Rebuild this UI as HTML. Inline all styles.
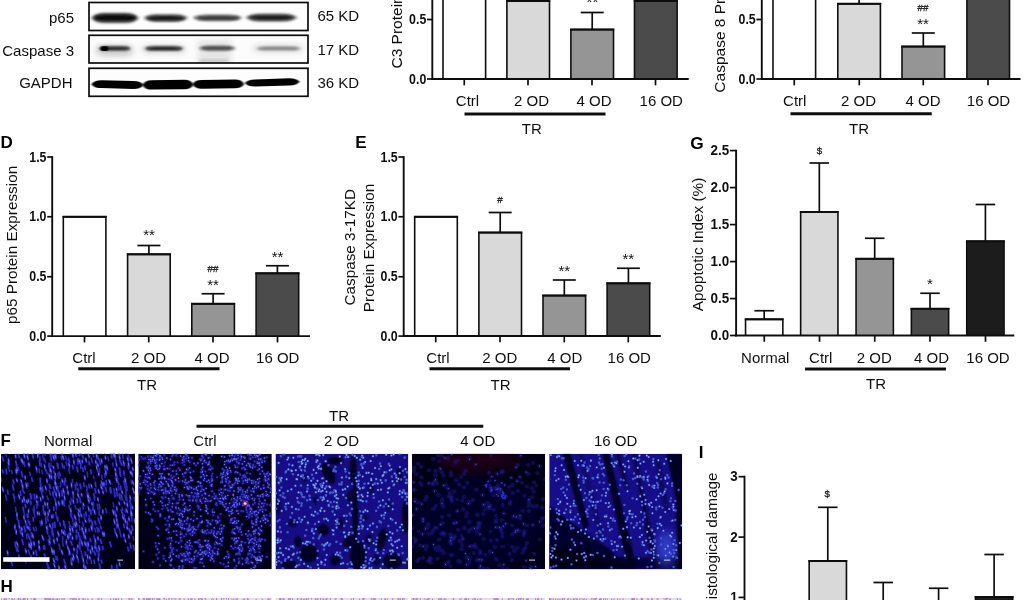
<!DOCTYPE html>
<html lang="en"><head><meta charset="utf-8"><title>Figure</title>
<style>html,body{margin:0;padding:0;background:#fff;overflow:hidden}svg{display:block}</style>
</head><body>
<svg width="1024" height="600" viewBox="0 0 1024 600" font-family='"Liberation Sans", Arial, Helvetica, sans-serif'>
<defs>
<filter id="b1" x="-20%" y="-100%" width="140%" height="300%"><feGaussianBlur stdDeviation="1.1 0.9"/></filter>
<filter id="b2" x="-20%" y="-100%" width="140%" height="300%"><feGaussianBlur stdDeviation="1.6 1.1"/></filter>
<filter id="b3" x="-30%" y="-100%" width="160%" height="300%"><feGaussianBlur stdDeviation="3 2.5"/></filter>
<filter id="b0" x="-20%" y="-100%" width="140%" height="300%"><feGaussianBlur stdDeviation="0.8 0.7"/></filter>
<filter id="soft"><feGaussianBlur stdDeviation="0.45"/></filter>
<filter id="soft2"><feGaussianBlur stdDeviation="0.8"/></filter>
<filter id="big"><feGaussianBlur stdDeviation="5"/></filter>
<filter id="g0" x="-200" y="-300" width="1424" height="1200" filterUnits="userSpaceOnUse"><feGaussianBlur stdDeviation="0.42"/></filter>
<clipPath id="cb0"><rect x="89.1" y="2.6" width="218.8" height="27.8"/></clipPath>
<clipPath id="cb1"><rect x="89.1" y="35.4" width="218.8" height="27.5"/></clipPath>
<clipPath id="cb2"><rect x="89.1" y="68.4" width="218.8" height="27.8"/></clipPath>
<clipPath id="cp0"><rect x="1" y="453.8" width="134" height="115.5"/></clipPath>
<clipPath id="cp1"><rect x="138.3" y="453.8" width="133.5" height="115.5"/></clipPath>
<clipPath id="cp2"><rect x="275.5" y="453.8" width="132.8" height="115.5"/></clipPath>
<clipPath id="cp3"><rect x="412" y="453.8" width="133" height="115.5"/></clipPath>
<clipPath id="cp4"><rect x="549.2" y="453.8" width="132.9" height="115.5"/></clipPath>
</defs>
<rect width="1024" height="600" fill="#fff"/>
<g filter="url(#g0)">
<g clip-path="url(#cb0)">
<rect x="89" y="2" width="220" height="29" fill="#fdfdfd"/>
<path d="M91.0 17.90Q94.5 12.65 105.0 12.65L125.0 12.65Q135.5 12.65 139.0 17.90Q135.5 23.15 125.0 23.15L105.0 23.15Q94.5 23.15 91.0 17.90Z" fill="#3a3a3a" filter="url(#b2)" opacity="0.75"/>
<path d="M93.5 17.90Q96.5 14.60 105.5 14.60L124.5 14.60Q133.5 14.60 136.5 17.90Q133.5 21.20 124.5 21.20L105.5 21.20Q96.5 21.20 93.5 17.90Z" fill="#0a0a0a" filter="url(#b1)" opacity="1"/>
<path d="M143.5 18.00Q147.0 14.00 157.5 14.00L174.0 14.00Q184.5 14.00 188.0 18.00Q184.5 22.00 174.0 22.00L157.5 22.00Q147.0 22.00 143.5 18.00Z" fill="#4a4a4a" filter="url(#b2)" opacity="0.75"/>
<path d="M146.5 18.20Q149.5 15.90 158.5 15.90L173.0 15.90Q182.0 15.90 185.0 18.20Q182.0 20.50 173.0 20.50L158.5 20.50Q149.5 20.50 146.5 18.20Z" fill="#141414" filter="url(#b1)" opacity="1"/>
<path d="M193.0 17.90Q196.5 14.60 207.0 14.60L228.0 14.60Q238.5 14.60 242.0 17.90Q238.5 21.20 228.0 21.20L207.0 21.20Q196.5 21.20 193.0 17.90Z" fill="#555" filter="url(#b2)" opacity="0.8"/>
<path d="M197.0 17.90Q200.0 16.40 209.0 16.40L227.0 16.40Q236.0 16.40 239.0 17.90Q236.0 19.40 227.0 19.40L209.0 19.40Q200.0 19.40 197.0 17.90Z" fill="#2e2e2e" filter="url(#b1)" opacity="1"/>
<path d="M245.5 17.60Q249.5 13.40 261.5 13.40L281.5 13.40Q293.5 13.40 297.5 17.60Q293.5 21.80 281.5 21.80L261.5 21.80Q249.5 21.80 245.5 17.60Z" fill="#444" filter="url(#b2)" opacity="0.75"/>
<path d="M249.0 17.60Q252.5 15.20 263.0 15.20L280.0 15.20Q290.5 15.20 294.0 17.60Q290.5 20.00 280.0 20.00L263.0 20.00Q252.5 20.00 249.0 17.60Z" fill="#1a1a1a" filter="url(#b1)" opacity="1"/>
</g>
<g clip-path="url(#cb1)">
<rect x="89" y="35" width="220" height="29" fill="#fcfcfc"/>
<rect x="96.0" y="44.50" width="37.0" height="12.00" rx="6.00" fill="#c4c4c4" filter="url(#b3)" opacity="0.8"/>
<path d="M98.5 48.40Q100.5 45.90 106.5 45.90L123.0 45.90Q129.0 45.90 131.0 48.40Q129.0 50.90 123.0 50.90L106.5 50.90Q100.5 50.90 98.5 48.40Z" fill="#666" filter="url(#b2)" opacity="0.8"/>
<path d="M100.0 48.40Q102.0 47.00 108.0 47.00L122.0 47.00Q128.0 47.00 130.0 48.40Q128.0 49.80 122.0 49.80L108.0 49.80Q102.0 49.80 100.0 48.40Z" fill="#222" filter="url(#b1)" opacity="1"/>
<rect x="100.5" y="46.30" width="8.0" height="4.80" rx="2.40" fill="#000" filter="url(#b0)" opacity="1"/>
<rect x="142.0" y="45.00" width="43.0" height="9.00" rx="4.50" fill="#d4d4d4" filter="url(#b3)" opacity="0.8"/>
<path d="M144.0 48.40Q146.5 45.80 154.0 45.80L174.0 45.80Q181.5 45.80 184.0 48.40Q181.5 51.00 174.0 51.00L154.0 51.00Q146.5 51.00 144.0 48.40Z" fill="#666" filter="url(#b2)" opacity="0.8"/>
<path d="M146.0 48.40Q148.5 46.90 156.0 46.90L172.0 46.90Q179.5 46.90 182.0 48.40Q179.5 49.90 172.0 49.90L156.0 49.90Q148.5 49.90 146.0 48.40Z" fill="#1c1c1c" filter="url(#b1)" opacity="1"/>
<rect x="198" y="40" width="33" height="24" fill="#d6d6d6" filter="url(#b3)" opacity="0.6"/>
<path d="M198.5 48.20Q201.0 45.50 208.5 45.50L226.0 45.50Q233.5 45.50 236.0 48.20Q233.5 50.90 226.0 50.90L208.5 50.90Q201.0 50.90 198.5 48.20Z" fill="#7a7a7a" filter="url(#b2)" opacity="0.85"/>
<path d="M201.0 48.20Q203.5 46.80 211.0 46.80L223.0 46.80Q230.5 46.80 233.0 48.20Q230.5 49.60 223.0 49.60L211.0 49.60Q203.5 49.60 201.0 48.20Z" fill="#3c3c3c" filter="url(#b1)" opacity="1"/>
<rect x="199.0" y="59.60" width="29.0" height="2.40" rx="1.20" fill="#c4c4c4" filter="url(#b2)" opacity="1"/>
<rect x="253.0" y="44.10" width="50.0" height="9.00" rx="4.50" fill="#dedede" filter="url(#b3)" opacity="0.85"/>
<path d="M256.0 48.50Q258.5 46.40 266.0 46.40L291.0 46.40Q298.5 46.40 301.0 48.50Q298.5 50.60 291.0 50.60L266.0 50.60Q258.5 50.60 256.0 48.50Z" fill="#9a9a9a" filter="url(#b2)" opacity="0.9"/>
<path d="M259.0 48.40Q261.5 47.50 269.0 47.50L288.0 47.50Q295.5 47.50 298.0 48.40Q295.5 49.30 288.0 49.30L269.0 49.30Q261.5 49.30 259.0 48.40Z" fill="#7a7a7a" filter="url(#b1)" opacity="1"/>
</g>
<g clip-path="url(#cb2)">
<rect x="89" y="68" width="220" height="29" fill="#fdfdfd"/>
<path d="M91.5 84.20Q94.0 80.30 101.5 80.30L133.5 81.10Q141.0 81.10 143.5 85.00Q141.0 88.90 133.5 88.90L101.5 88.10Q94.0 88.10 91.5 84.20Z" fill="#050505" filter="url(#b0)" opacity="1"/>
<path d="M142.5 84.90Q144.8 80.20 151.5 80.20L184.5 79.80Q191.2 79.80 193.5 84.50Q191.2 89.20 184.5 89.20L151.5 89.60Q144.8 89.60 142.5 84.90Z" fill="#050505" filter="url(#b0)" opacity="1"/>
<path d="M192.5 84.30Q194.8 79.90 201.5 79.90L235.0 79.50Q241.8 79.50 244.0 83.90Q241.8 88.30 235.0 88.30L201.5 88.70Q194.8 88.70 192.5 84.30Z" fill="#050505" filter="url(#b0)" opacity="1"/>
<path d="M245.0 83.00Q247.5 79.40 255.0 79.40L289.5 78.20Q297.0 78.20 299.5 81.80Q297.0 85.40 289.5 85.40L255.0 86.60Q247.5 86.60 245.0 83.00Z" fill="#050505" filter="url(#b0)" opacity="1"/>
</g>
<rect x="89.0" y="2.5" width="219.0" height="28.0" fill="none" stroke="#0a0a0a" stroke-width="1.7"/>
<rect x="89.0" y="35.3" width="219.0" height="27.7" fill="none" stroke="#0a0a0a" stroke-width="1.7"/>
<rect x="89.0" y="68.30000000000001" width="219.0" height="28.0" fill="none" stroke="#0a0a0a" stroke-width="1.7"/>
<text x="74" y="22.5" font-size="15" text-anchor="end" fill="#111">p65</text>
<text x="74" y="55.5" font-size="15" text-anchor="end" fill="#111">Caspase 3</text>
<text x="72.5" y="88" font-size="15" text-anchor="end" fill="#111">GAPDH</text>
<text x="317.5" y="21.25" font-size="15" text-anchor="start" fill="#111">65 KD</text>
<text x="317.5" y="55" font-size="15" text-anchor="start" fill="#111">17 KD</text>
<text x="317.5" y="88.25" font-size="15" text-anchor="start" fill="#111">36 KD</text>
<line x1="592.2" y1="12.5" x2="592.2" y2="30.5" stroke="#111" stroke-width="1.7" stroke-linecap="butt"/>
<line x1="580.7" y1="12.5" x2="603.7" y2="12.5" stroke="#111" stroke-width="1.7" stroke-linecap="butt"/>
<line x1="655.8" y1="-3" x2="655.8" y2="2" stroke="#111" stroke-width="1.7" stroke-linecap="butt"/>
<line x1="644.3" y1="-3" x2="667.3" y2="-3" stroke="#111" stroke-width="1.7" stroke-linecap="butt"/>
<path d="M443.00 79V-4.90H485.60V79" fill="#fff" stroke="#111" stroke-width="1.6"/>
<path d="M506.90 79V1.10H549.50V79" fill="#d9d9d9" stroke="#111" stroke-width="1.6"/>
<path d="M506.10 1.10H550.30" stroke="#111" stroke-width="2.0"/>
<path d="M570.90 79V29.60H613.50V79" fill="#959595" stroke="#111" stroke-width="1.6"/>
<path d="M570.10 29.60H614.30" stroke="#111" stroke-width="2.0"/>
<path d="M634.50 79V1.10H677.10V79" fill="#4b4b4b" stroke="#111" stroke-width="1.6"/>
<path d="M633.70 1.10H677.90" stroke="#111" stroke-width="2.0"/>
<line x1="432.3" y1="-5.95" x2="432.3" y2="79.95" stroke="#111" stroke-width="1.9" stroke-linecap="butt"/>
<line x1="431.35" y1="79" x2="688.75" y2="79" stroke="#111" stroke-width="1.9" stroke-linecap="butt"/>
<line x1="427" y1="19.5" x2="432.3" y2="19.5" stroke="#111" stroke-width="1.7" stroke-linecap="butt"/>
<text transform="translate(426.30,24.08) scale(0.86,1)" font-size="14.4" text-anchor="end" font-weight="bold" fill="#111">0.5</text>
<line x1="427" y1="79" x2="432.3" y2="79" stroke="#111" stroke-width="1.7" stroke-linecap="butt"/>
<text transform="translate(426.30,83.58) scale(0.86,1)" font-size="14.4" text-anchor="end" font-weight="bold" fill="#111">0.0</text>
<line x1="464.25" y1="79" x2="464.25" y2="85.3" stroke="#111" stroke-width="1.7" stroke-linecap="butt"/>
<line x1="528" y1="79" x2="528" y2="85.3" stroke="#111" stroke-width="1.7" stroke-linecap="butt"/>
<line x1="592" y1="79" x2="592" y2="85.3" stroke="#111" stroke-width="1.7" stroke-linecap="butt"/>
<line x1="655.5" y1="79" x2="655.5" y2="85.3" stroke="#111" stroke-width="1.7" stroke-linecap="butt"/>
<text x="467.5" y="106" font-size="15" text-anchor="middle" fill="#111">Ctrl</text>
<text x="531.5" y="106" font-size="15" text-anchor="middle" fill="#111">2 OD</text>
<text x="594.1" y="106" font-size="15" text-anchor="middle" fill="#111">4 OD</text>
<text x="661.25" y="106" font-size="15" text-anchor="middle" fill="#111">16 OD</text>
<line x1="464.5" y1="114" x2="605.5" y2="114" stroke="#111" stroke-width="3.0" stroke-linecap="butt"/>
<text x="531.75" y="134" font-size="15" text-anchor="middle" fill="#111">TR</text>
<text x="592.4" y="7.2" font-size="15" text-anchor="middle" fill="#111">**</text>
<text x="401.5" y="68.5" font-size="15.5" text-anchor="start" transform="rotate(-90 401.5 68.5)" fill="#111">C3 Protein Expression</text>
<line x1="859.1" y1="-4" x2="859.1" y2="4.75" stroke="#111" stroke-width="1.7" stroke-linecap="butt"/>
<line x1="847.6" y1="-4" x2="870.6" y2="-4" stroke="#111" stroke-width="1.7" stroke-linecap="butt"/>
<line x1="923.3" y1="33" x2="923.3" y2="47.5" stroke="#111" stroke-width="1.7" stroke-linecap="butt"/>
<line x1="911.8" y1="33" x2="934.8" y2="33" stroke="#111" stroke-width="1.7" stroke-linecap="butt"/>
<path d="M773.00 79V-4.90H815.60V79" fill="#fff" stroke="#111" stroke-width="1.6"/>
<path d="M837.80 79V3.85H880.40V79" fill="#d9d9d9" stroke="#111" stroke-width="1.6"/>
<path d="M837.00 3.85H881.20" stroke="#111" stroke-width="2.0"/>
<path d="M902.00 79V46.60H944.60V79" fill="#959595" stroke="#111" stroke-width="1.6"/>
<path d="M901.20 46.60H945.40" stroke="#111" stroke-width="2.0"/>
<path d="M966.90 79V-4.90H1009.50V79" fill="#4b4b4b" stroke="#111" stroke-width="1.6"/>
<line x1="761.8" y1="-5.95" x2="761.8" y2="79.95" stroke="#111" stroke-width="1.9" stroke-linecap="butt"/>
<line x1="760.8499999999999" y1="79" x2="1020.5" y2="79" stroke="#111" stroke-width="1.9" stroke-linecap="butt"/>
<line x1="756.4" y1="19.5" x2="761.8" y2="19.5" stroke="#111" stroke-width="1.7" stroke-linecap="butt"/>
<text transform="translate(755.70,24.08) scale(0.86,1)" font-size="14.4" text-anchor="end" font-weight="bold" fill="#111">0.5</text>
<line x1="756.4" y1="79" x2="761.8" y2="79" stroke="#111" stroke-width="1.7" stroke-linecap="butt"/>
<text transform="translate(755.70,83.58) scale(0.86,1)" font-size="14.4" text-anchor="end" font-weight="bold" fill="#111">0.0</text>
<line x1="794.25" y1="79" x2="794.25" y2="85.3" stroke="#111" stroke-width="1.7" stroke-linecap="butt"/>
<line x1="859.25" y1="79" x2="859.25" y2="85.3" stroke="#111" stroke-width="1.7" stroke-linecap="butt"/>
<line x1="923.25" y1="79" x2="923.25" y2="85.3" stroke="#111" stroke-width="1.7" stroke-linecap="butt"/>
<line x1="988" y1="79" x2="988" y2="85.3" stroke="#111" stroke-width="1.7" stroke-linecap="butt"/>
<text x="794.75" y="106" font-size="15" text-anchor="middle" fill="#111">Ctrl</text>
<text x="858.5" y="106" font-size="15" text-anchor="middle" fill="#111">2 OD</text>
<text x="923" y="106" font-size="15" text-anchor="middle" fill="#111">4 OD</text>
<text x="988.5" y="106" font-size="15" text-anchor="middle" fill="#111">16 OD</text>
<line x1="790.5" y1="113.75" x2="931.75" y2="113.75" stroke="#111" stroke-width="3.0" stroke-linecap="butt"/>
<text x="859" y="134" font-size="15" text-anchor="middle" fill="#111">TR</text>
<text x="923" y="11.3" font-size="9.7" text-anchor="middle" fill="#111" stroke="#222" stroke-width="0.3">##</text>
<text x="923" y="29.0" font-size="15" text-anchor="middle" fill="#111">**</text>
<text x="724.5" y="92.625" font-size="15.5" text-anchor="start" transform="rotate(-90 724.5 92.625)" fill="#111">Caspase 8 Protein Expression</text>
<text x="0.5" y="147.8" font-size="17" text-anchor="start" font-weight="bold" fill="#000">D</text>
<line x1="148.9" y1="245.5" x2="148.9" y2="255.25" stroke="#111" stroke-width="1.7" stroke-linecap="butt"/>
<line x1="137.4" y1="245.5" x2="160.4" y2="245.5" stroke="#111" stroke-width="1.7" stroke-linecap="butt"/>
<line x1="213.1" y1="293.75" x2="213.1" y2="304.75" stroke="#111" stroke-width="1.7" stroke-linecap="butt"/>
<line x1="201.6" y1="293.75" x2="224.6" y2="293.75" stroke="#111" stroke-width="1.7" stroke-linecap="butt"/>
<line x1="277.4" y1="265.75" x2="277.4" y2="274.25" stroke="#111" stroke-width="1.7" stroke-linecap="butt"/>
<line x1="265.9" y1="265.75" x2="288.9" y2="265.75" stroke="#111" stroke-width="1.7" stroke-linecap="butt"/>
<path d="M63.30 336.1V216.85H105.90V336.1" fill="#fff" stroke="#111" stroke-width="1.6"/>
<path d="M62.50 216.85H106.70" stroke="#111" stroke-width="2.0"/>
<path d="M127.60 336.1V254.35H170.20V336.1" fill="#d9d9d9" stroke="#111" stroke-width="1.6"/>
<path d="M126.80 254.35H171.00" stroke="#111" stroke-width="2.0"/>
<path d="M191.80 336.1V303.85H234.40V336.1" fill="#959595" stroke="#111" stroke-width="1.6"/>
<path d="M191.00 303.85H235.20" stroke="#111" stroke-width="2.0"/>
<path d="M256.10 336.1V273.35H298.70V336.1" fill="#4b4b4b" stroke="#111" stroke-width="1.6"/>
<path d="M255.30 273.35H299.50" stroke="#111" stroke-width="2.0"/>
<line x1="52.2" y1="156.15" x2="52.2" y2="337.05" stroke="#111" stroke-width="1.9" stroke-linecap="butt"/>
<line x1="51.25" y1="336.1" x2="310" y2="336.1" stroke="#111" stroke-width="1.9" stroke-linecap="butt"/>
<line x1="47.2" y1="157" x2="52.2" y2="157" stroke="#111" stroke-width="1.7" stroke-linecap="butt"/>
<text transform="translate(46.50,161.58) scale(0.86,1)" font-size="14.4" text-anchor="end" font-weight="bold" fill="#111">1.5</text>
<line x1="47.2" y1="216.75" x2="52.2" y2="216.75" stroke="#111" stroke-width="1.7" stroke-linecap="butt"/>
<text transform="translate(46.50,221.33) scale(0.86,1)" font-size="14.4" text-anchor="end" font-weight="bold" fill="#111">1.0</text>
<line x1="47.2" y1="276.75" x2="52.2" y2="276.75" stroke="#111" stroke-width="1.7" stroke-linecap="butt"/>
<text transform="translate(46.50,281.33) scale(0.86,1)" font-size="14.4" text-anchor="end" font-weight="bold" fill="#111">0.5</text>
<line x1="47.2" y1="336.1" x2="52.2" y2="336.1" stroke="#111" stroke-width="1.7" stroke-linecap="butt"/>
<text transform="translate(46.50,340.68) scale(0.86,1)" font-size="14.4" text-anchor="end" font-weight="bold" fill="#111">0.0</text>
<line x1="84.5" y1="336.1" x2="84.5" y2="342.40000000000003" stroke="#111" stroke-width="1.7" stroke-linecap="butt"/>
<line x1="148.75" y1="336.1" x2="148.75" y2="342.40000000000003" stroke="#111" stroke-width="1.7" stroke-linecap="butt"/>
<line x1="213" y1="336.1" x2="213" y2="342.40000000000003" stroke="#111" stroke-width="1.7" stroke-linecap="butt"/>
<line x1="277.5" y1="336.1" x2="277.5" y2="342.40000000000003" stroke="#111" stroke-width="1.7" stroke-linecap="butt"/>
<text x="84" y="362.5" font-size="15" text-anchor="middle" fill="#111">Ctrl</text>
<text x="148.5" y="362.5" font-size="15" text-anchor="middle" fill="#111">2 OD</text>
<text x="212" y="362.5" font-size="15" text-anchor="middle" fill="#111">4 OD</text>
<text x="277.75" y="362.5" font-size="15" text-anchor="middle" fill="#111">16 OD</text>
<line x1="78.25" y1="368.75" x2="219.5" y2="368.75" stroke="#111" stroke-width="3.0" stroke-linecap="butt"/>
<text x="147" y="389.5" font-size="15" text-anchor="middle" fill="#111">TR</text>
<text x="149" y="240.0" font-size="15" text-anchor="middle" fill="#111">**</text>
<text x="213" y="272.3" font-size="9.7" text-anchor="middle" fill="#111" stroke="#222" stroke-width="0.3">##</text>
<text x="213" y="289.5" font-size="15" text-anchor="middle" fill="#111">**</text>
<text x="277.5" y="262.0" font-size="15" text-anchor="middle" fill="#111">**</text>
<text x="16.5" y="324.0" font-size="15.3" text-anchor="start" transform="rotate(-90 16.5 324.0)" fill="#111">p65 Protein Expression</text>
<text x="355.3" y="147.5" font-size="17" text-anchor="start" font-weight="bold" fill="#000">E</text>
<line x1="500.2" y1="212.5" x2="500.2" y2="233.5" stroke="#111" stroke-width="1.7" stroke-linecap="butt"/>
<line x1="488.7" y1="212.5" x2="511.7" y2="212.5" stroke="#111" stroke-width="1.7" stroke-linecap="butt"/>
<line x1="564.3" y1="280" x2="564.3" y2="296.5" stroke="#111" stroke-width="1.7" stroke-linecap="butt"/>
<line x1="552.8" y1="280" x2="575.8" y2="280" stroke="#111" stroke-width="1.7" stroke-linecap="butt"/>
<line x1="628.4" y1="268.25" x2="628.4" y2="284.25" stroke="#111" stroke-width="1.7" stroke-linecap="butt"/>
<line x1="616.9" y1="268.25" x2="639.9" y2="268.25" stroke="#111" stroke-width="1.7" stroke-linecap="butt"/>
<path d="M414.70 336.0V216.85H457.30V336.0" fill="#fff" stroke="#111" stroke-width="1.6"/>
<path d="M413.90 216.85H458.10" stroke="#111" stroke-width="2.0"/>
<path d="M478.90 336.0V232.60H521.50V336.0" fill="#d9d9d9" stroke="#111" stroke-width="1.6"/>
<path d="M478.10 232.60H522.30" stroke="#111" stroke-width="2.0"/>
<path d="M543.00 336.0V295.60H585.60V336.0" fill="#959595" stroke="#111" stroke-width="1.6"/>
<path d="M542.20 295.60H586.40" stroke="#111" stroke-width="2.0"/>
<path d="M607.10 336.0V283.35H649.70V336.0" fill="#4b4b4b" stroke="#111" stroke-width="1.6"/>
<path d="M606.30 283.35H650.50" stroke="#111" stroke-width="2.0"/>
<line x1="403.7" y1="156.15" x2="403.7" y2="336.95" stroke="#111" stroke-width="1.9" stroke-linecap="butt"/>
<line x1="402.75" y1="336.0" x2="660.75" y2="336.0" stroke="#111" stroke-width="1.9" stroke-linecap="butt"/>
<line x1="398.4" y1="157" x2="403.7" y2="157" stroke="#111" stroke-width="1.7" stroke-linecap="butt"/>
<text transform="translate(397.70,161.58) scale(0.86,1)" font-size="14.4" text-anchor="end" font-weight="bold" fill="#111">1.5</text>
<line x1="398.4" y1="216.75" x2="403.7" y2="216.75" stroke="#111" stroke-width="1.7" stroke-linecap="butt"/>
<text transform="translate(397.70,221.33) scale(0.86,1)" font-size="14.4" text-anchor="end" font-weight="bold" fill="#111">1.0</text>
<line x1="398.4" y1="276.75" x2="403.7" y2="276.75" stroke="#111" stroke-width="1.7" stroke-linecap="butt"/>
<text transform="translate(397.70,281.33) scale(0.86,1)" font-size="14.4" text-anchor="end" font-weight="bold" fill="#111">0.5</text>
<line x1="398.4" y1="336.1" x2="403.7" y2="336.1" stroke="#111" stroke-width="1.7" stroke-linecap="butt"/>
<text transform="translate(397.70,340.68) scale(0.86,1)" font-size="14.4" text-anchor="end" font-weight="bold" fill="#111">0.0</text>
<line x1="435.75" y1="336.0" x2="435.75" y2="342.3" stroke="#111" stroke-width="1.7" stroke-linecap="butt"/>
<line x1="500" y1="336.0" x2="500" y2="342.3" stroke="#111" stroke-width="1.7" stroke-linecap="butt"/>
<line x1="564.25" y1="336.0" x2="564.25" y2="342.3" stroke="#111" stroke-width="1.7" stroke-linecap="butt"/>
<line x1="628.25" y1="336.0" x2="628.25" y2="342.3" stroke="#111" stroke-width="1.7" stroke-linecap="butt"/>
<text x="438" y="362.5" font-size="15" text-anchor="middle" fill="#111">Ctrl</text>
<text x="499.75" y="362.5" font-size="15" text-anchor="middle" fill="#111">2 OD</text>
<text x="564.75" y="362.5" font-size="15" text-anchor="middle" fill="#111">4 OD</text>
<text x="629.25" y="362.5" font-size="15" text-anchor="middle" fill="#111">16 OD</text>
<line x1="429.5" y1="368.75" x2="570" y2="368.75" stroke="#111" stroke-width="3.0" stroke-linecap="butt"/>
<text x="500.6" y="389.5" font-size="15" text-anchor="middle" fill="#111">TR</text>
<text x="500" y="203.05" font-size="9.7" text-anchor="middle" fill="#111" stroke="#222" stroke-width="0.3">#</text>
<text x="564.25" y="275.75" font-size="15" text-anchor="middle" fill="#111">**</text>
<text x="628.25" y="264.0" font-size="15" text-anchor="middle" fill="#111">**</text>
<text x="355" y="305.5" font-size="15.3" text-anchor="start" transform="rotate(-90 355 305.5)" fill="#111">Caspase 3-17KD</text>
<text x="374" y="312.125" font-size="15.3" text-anchor="start" transform="rotate(-90 374 312.125)" fill="#111">Protein Expression</text>
<text x="690.2" y="149.2" font-size="17.3" text-anchor="start" font-weight="bold" fill="#000">G</text>
<line x1="764.2" y1="310.75" x2="764.2" y2="320.25" stroke="#111" stroke-width="1.7" stroke-linecap="butt"/>
<line x1="754.45" y1="310.75" x2="773.95" y2="310.75" stroke="#111" stroke-width="1.7" stroke-linecap="butt"/>
<line x1="819.3" y1="163" x2="819.3" y2="213" stroke="#111" stroke-width="1.7" stroke-linecap="butt"/>
<line x1="809.55" y1="163" x2="829.05" y2="163" stroke="#111" stroke-width="1.7" stroke-linecap="butt"/>
<line x1="874.7" y1="238.25" x2="874.7" y2="259.75" stroke="#111" stroke-width="1.7" stroke-linecap="butt"/>
<line x1="864.95" y1="238.25" x2="884.45" y2="238.25" stroke="#111" stroke-width="1.7" stroke-linecap="butt"/>
<line x1="930" y1="293.25" x2="930" y2="309.75" stroke="#111" stroke-width="1.7" stroke-linecap="butt"/>
<line x1="920.25" y1="293.25" x2="939.75" y2="293.25" stroke="#111" stroke-width="1.7" stroke-linecap="butt"/>
<line x1="985.4" y1="204.5" x2="985.4" y2="242.25" stroke="#111" stroke-width="1.7" stroke-linecap="butt"/>
<line x1="975.65" y1="204.5" x2="995.15" y2="204.5" stroke="#111" stroke-width="1.7" stroke-linecap="butt"/>
<path d="M745.55 335.5V319.35H782.85V335.5" fill="#fff" stroke="#111" stroke-width="1.6"/>
<path d="M744.75 319.35H783.65" stroke="#111" stroke-width="2.0"/>
<path d="M800.65 335.5V212.10H837.95V335.5" fill="#d9d9d9" stroke="#111" stroke-width="1.6"/>
<path d="M799.85 212.10H838.75" stroke="#111" stroke-width="2.0"/>
<path d="M856.05 335.5V258.85H893.35V335.5" fill="#959595" stroke="#111" stroke-width="1.6"/>
<path d="M855.25 258.85H894.15" stroke="#111" stroke-width="2.0"/>
<path d="M911.35 335.5V308.85H948.65V335.5" fill="#4b4b4b" stroke="#111" stroke-width="1.6"/>
<path d="M910.55 308.85H949.45" stroke="#111" stroke-width="2.0"/>
<path d="M966.75 335.5V241.35H1004.05V335.5" fill="#1a1a1a" stroke="#111" stroke-width="1.6"/>
<path d="M965.95 241.35H1004.85" stroke="#111" stroke-width="2.0"/>
<line x1="736.1" y1="149.75" x2="736.1" y2="336.45" stroke="#111" stroke-width="1.9" stroke-linecap="butt"/>
<line x1="735.15" y1="335.5" x2="1014.25" y2="335.5" stroke="#111" stroke-width="1.9" stroke-linecap="butt"/>
<line x1="729.9" y1="150.6" x2="736.1" y2="150.6" stroke="#111" stroke-width="1.7" stroke-linecap="butt"/>
<text transform="translate(729.20,155.34) scale(0.9,1)" font-size="14.9" text-anchor="end" font-weight="bold" fill="#111">2.5</text>
<line x1="729.9" y1="187.6" x2="736.1" y2="187.6" stroke="#111" stroke-width="1.7" stroke-linecap="butt"/>
<text transform="translate(729.20,192.34) scale(0.9,1)" font-size="14.9" text-anchor="end" font-weight="bold" fill="#111">2.0</text>
<line x1="729.9" y1="224.6" x2="736.1" y2="224.6" stroke="#111" stroke-width="1.7" stroke-linecap="butt"/>
<text transform="translate(729.20,229.34) scale(0.9,1)" font-size="14.9" text-anchor="end" font-weight="bold" fill="#111">1.5</text>
<line x1="729.9" y1="261.6" x2="736.1" y2="261.6" stroke="#111" stroke-width="1.7" stroke-linecap="butt"/>
<text transform="translate(729.20,266.34) scale(0.9,1)" font-size="14.9" text-anchor="end" font-weight="bold" fill="#111">1.0</text>
<line x1="729.9" y1="298.6" x2="736.1" y2="298.6" stroke="#111" stroke-width="1.7" stroke-linecap="butt"/>
<text transform="translate(729.20,303.34) scale(0.9,1)" font-size="14.9" text-anchor="end" font-weight="bold" fill="#111">0.5</text>
<line x1="729.9" y1="335.5" x2="736.1" y2="335.5" stroke="#111" stroke-width="1.7" stroke-linecap="butt"/>
<text transform="translate(729.20,340.24) scale(0.9,1)" font-size="14.9" text-anchor="end" font-weight="bold" fill="#111">0.0</text>
<line x1="764.25" y1="335.5" x2="764.25" y2="341.8" stroke="#111" stroke-width="1.7" stroke-linecap="butt"/>
<line x1="819.5" y1="335.5" x2="819.5" y2="341.8" stroke="#111" stroke-width="1.7" stroke-linecap="butt"/>
<line x1="874.75" y1="335.5" x2="874.75" y2="341.8" stroke="#111" stroke-width="1.7" stroke-linecap="butt"/>
<line x1="930" y1="335.5" x2="930" y2="341.8" stroke="#111" stroke-width="1.7" stroke-linecap="butt"/>
<line x1="985.5" y1="335.5" x2="985.5" y2="341.8" stroke="#111" stroke-width="1.7" stroke-linecap="butt"/>
<text x="765.25" y="362.5" font-size="15" text-anchor="middle" fill="#111">Normal</text>
<text x="820.75" y="362.5" font-size="15" text-anchor="middle" fill="#111">Ctrl</text>
<text x="874.25" y="362.5" font-size="15" text-anchor="middle" fill="#111">2 OD</text>
<text x="931.5" y="362.5" font-size="15" text-anchor="middle" fill="#111">4 OD</text>
<text x="988" y="362.5" font-size="15" text-anchor="middle" fill="#111">16 OD</text>
<line x1="805" y1="369" x2="946" y2="369" stroke="#111" stroke-width="3.0" stroke-linecap="butt"/>
<text x="876" y="389" font-size="15" text-anchor="middle" fill="#111">TR</text>
<text x="819.5" y="153.8" font-size="9.7" text-anchor="middle" fill="#111" stroke="#222" stroke-width="0.3">$</text>
<text x="930" y="288.75" font-size="15" text-anchor="middle" fill="#111">*</text>
<text x="703" y="311.25" font-size="15.3" text-anchor="start" transform="rotate(-90 703 311.25)" fill="#111">Apoptotic Index (%)</text>
<text x="0.5" y="445.75" font-size="17" text-anchor="start" font-weight="bold" fill="#000">F</text>
<text x="68.1" y="445.75" font-size="15" text-anchor="middle" fill="#111">Normal</text>
<text x="205" y="445.75" font-size="15" text-anchor="middle" fill="#111">Ctrl</text>
<text x="341.5" y="445.75" font-size="15" text-anchor="middle" fill="#111">2 OD</text>
<text x="477.75" y="445.75" font-size="15" text-anchor="middle" fill="#111">4 OD</text>
<text x="615.6" y="445.75" font-size="15" text-anchor="middle" fill="#111">16 OD</text>
<line x1="196.5" y1="426.25" x2="483.25" y2="426.25" stroke="#111" stroke-width="3.0" stroke-linecap="butt"/>
<text x="339" y="420.5" font-size="15" text-anchor="middle" fill="#111">TR</text>
<g clip-path="url(#cp0)">
<rect x="1" y="453.8" width="134" height="115.5" fill="#020012"/>
<g filter="url(#soft2)"><path d="M7.3 550.9l0.6 3.7M10.7 560.0l1.6 4.9M2.4 487.4l0.9 4.3M2.3 470.0l0.9 2.8M15.4 542.3l-0.0 3.9M17.5 547.3l0.6 4.1M18.8 555.0l0.7 4.5M2.1 456.8l1.4 4.1M6.0 469.2l0.7 4.5M7.4 490.2l0.7 3.9M15.0 524.9l-0.1 4.2M16.0 529.8l0.4 4.3M16.6 541.8l1.4 4.3M8.2 462.2l0.8 3.2M13.1 480.0l0.7 3.5M16.7 512.7l0.5 4.2M18.5 520.6l0.6 4.7M21.5 527.4l0.5 3.2M22.0 532.3l0.7 4.0M8.4 458.5l0.5 5.0M12.6 485.1l1.1 4.7M13.5 494.4l0.8 3.9M17.0 516.8l0.6 2.8M19.0 524.8l0.8 3.9M20.1 530.2l1.2 3.7M22.2 539.6l1.0 4.7M25.5 549.1l0.8 3.9M9.3 441.7l0.7 4.6M15.9 469.1l0.7 4.7M18.6 494.5l1.2 4.5M22.3 499.7l0.3 2.6M23.1 507.6l0.4 3.0M23.8 515.8l0.4 3.3M25.9 523.0l0.8 4.7M24.3 526.8l1.0 5.0M29.0 542.7l0.4 4.7M31.0 555.7l0.3 4.7M10.4 446.6l0.7 3.1M16.7 467.9l0.9 4.0M16.5 478.9l0.9 2.9M20.3 491.5l0.3 3.7M25.0 520.2l0.8 2.8M27.8 526.2l0.5 3.0M27.9 534.3l1.8 4.8M30.5 544.2l0.7 5.0M15.8 444.1l0.2 4.2M15.5 454.7l0.2 3.1M15.8 461.3l1.1 4.9M20.9 479.7l0.8 3.2M22.1 484.2l0.9 4.1M22.3 489.1l2.0 4.1M23.8 496.9l0.7 4.9M25.2 504.6l0.6 2.7M28.8 527.1l0.8 2.7M31.2 532.5l0.7 4.6M31.4 542.1l0.1 4.0M33.5 551.6l0.1 2.8M18.5 454.5l0.8 2.9M21.5 471.9l0.9 4.8M26.5 500.2l0.8 3.1M28.6 509.3l-0.1 3.7M27.2 514.1l0.5 3.2M29.2 521.8l0.6 3.0M32.4 533.7l0.9 4.2M33.9 541.8l0.5 3.9M35.8 550.7l0.9 4.5M20.9 458.4l0.9 3.6M24.8 476.0l0.7 3.2M25.9 483.1l0.9 4.7M30.4 494.2l0.6 4.5M28.2 499.2l0.5 2.9M33.2 517.5l0.2 3.5M33.4 527.6l0.7 2.7M38.7 540.6l0.2 3.2M38.6 547.0l0.8 3.1M20.5 444.5l0.5 3.3M24.0 453.6l0.7 4.4M22.3 459.7l0.8 4.5M27.3 483.0l0.6 2.9M30.9 501.4l0.1 2.7M39.0 545.3l0.8 4.0M25.3 447.5l1.1 3.7M27.0 455.2l1.2 4.5M28.3 463.2l0.9 3.5M34.2 494.6l0.7 4.0M37.5 501.8l0.4 3.5M38.8 512.1l0.7 2.9M44.4 545.9l0.6 3.0M44.3 553.9l1.3 4.5M46.7 559.3l0.4 4.8M47.9 565.3l0.8 4.7M28.7 462.7l0.8 2.8M31.6 477.9l0.9 3.2M36.7 495.3l0.3 2.9M36.4 500.3l0.6 2.6M37.3 511.8l0.4 2.8M41.7 520.3l0.4 4.7M41.9 535.2l1.7 4.9M43.6 546.0l0.3 2.8M48.8 567.3l1.3 4.3M32.5 442.8l0.3 3.2M32.5 454.5l0.8 3.5M36.0 466.8l0.9 3.9M40.6 487.1l0.6 3.4M40.4 497.6l0.5 3.4M43.1 505.8l0.3 3.1M45.1 511.7l0.2 4.1M45.9 519.9l0.2 3.2M46.2 526.3l1.0 3.6M47.0 530.6l0.8 3.3M48.4 539.8l1.2 5.0M52.1 549.7l0.7 3.9M53.3 558.5l1.3 4.5M33.3 449.2l0.7 4.8M36.5 469.0l0.4 2.9M40.1 478.2l0.3 3.1M40.3 482.3l0.4 3.7M42.7 495.6l0.2 2.9M44.6 502.1l0.8 3.5M43.2 509.8l1.2 4.6M45.7 517.9l0.5 4.1M47.1 526.4l0.4 3.8M49.1 535.9l0.7 3.3M49.5 540.3l0.7 3.2M51.4 547.7l0.7 4.8M53.9 563.6l1.2 4.2M37.7 452.5l0.1 5.1M39.5 460.2l0.4 5.2M42.1 487.2l0.8 4.5M47.5 502.9l0.0 2.7M47.9 512.4l0.7 3.3M49.6 524.0l1.0 3.6M51.8 528.2l0.8 3.9M53.1 533.7l0.2 2.6M53.9 550.0l0.2 4.3M55.9 556.5l0.3 2.9M38.3 451.2l0.7 3.2M45.2 485.9l1.1 4.0M47.0 503.2l0.9 4.6M49.4 509.6l0.0 2.8M51.6 515.3l0.5 2.7M52.9 523.4l-0.1 4.3M51.9 530.7l0.6 4.3M53.5 539.2l1.1 4.4M58.8 565.8l0.5 4.0M41.7 449.1l1.0 4.9M44.5 464.6l0.3 4.1M45.5 469.7l1.7 3.8M46.7 478.7l0.6 4.1M49.4 484.5l0.9 3.6M53.6 507.0l0.2 3.5M53.1 514.7l0.0 3.1M54.7 522.6l0.3 4.9M57.8 531.6l1.0 4.4M56.9 537.8l0.6 3.3M61.9 550.5l0.7 3.9M64.8 565.7l0.9 3.1M44.7 451.6l0.4 3.2M48.9 473.7l1.0 4.7M52.9 492.0l0.3 2.8M54.7 498.2l0.8 3.3M61.1 549.8l1.6 4.5M64.0 559.4l0.9 3.2M65.6 568.7l0.6 3.4M44.8 450.8l0.2 3.5M48.9 463.4l0.3 3.7M50.4 468.4l0.8 4.6M51.0 474.9l0.7 4.1M53.4 487.2l1.3 4.7M55.5 501.6l1.0 5.0M57.4 517.2l0.4 3.9M59.8 522.9l0.5 2.8M61.7 529.8l0.5 3.4M47.7 446.9l0.5 2.7M50.0 449.8l0.3 4.9M50.6 455.7l0.8 4.9M54.6 475.5l0.8 3.8M54.7 482.0l0.9 3.2M55.7 485.0l1.2 5.0M55.8 492.1l0.7 4.7M58.5 501.5l0.9 3.8M63.5 520.9l0.6 4.3M63.2 531.5l1.0 3.1M66.4 540.0l0.0 4.2M67.4 545.8l1.4 4.7M71.0 559.0l0.4 4.9M48.3 441.5l0.7 4.2M50.0 450.4l1.3 4.2M52.9 455.2l1.7 4.8M53.0 466.0l0.9 2.5M55.0 472.9l0.7 3.0M55.1 480.5l1.0 5.0M57.6 486.6l0.5 5.1M59.1 492.1l0.5 4.9M62.0 500.2l0.6 4.6M64.6 524.2l0.6 3.8M64.4 530.6l0.9 4.3M67.5 534.9l0.7 4.3M69.3 549.8l0.6 5.0M72.3 557.6l0.8 3.1M71.5 562.2l0.5 3.2M52.7 445.9l1.2 3.7M54.5 454.2l1.3 4.5M57.8 463.8l0.4 4.3M61.9 490.8l0.3 5.0M63.6 501.1l0.6 4.5M69.5 526.9l1.0 5.0M69.0 533.2l0.3 4.3M70.6 541.4l1.6 3.4M73.0 554.3l1.1 4.6M55.8 454.5l0.4 3.3M57.1 463.4l0.7 3.1M59.2 472.2l1.1 3.6M61.9 479.3l0.7 3.1M63.1 488.5l1.0 4.9M64.2 495.2l0.6 4.9M70.2 532.4l0.6 3.0M72.3 536.2l0.2 3.5M73.8 547.8l0.3 2.9M76.7 554.8l1.1 4.2M61.2 456.2l0.5 3.1M62.1 463.7l1.0 3.7M64.2 481.0l0.4 3.9M70.1 501.2l0.7 3.5M70.7 514.2l0.9 3.0M71.9 526.8l1.1 5.0M77.8 545.1l0.3 2.7M76.9 549.1l0.4 4.2M62.1 451.3l0.1 3.2M62.5 455.2l1.2 4.1M65.0 478.4l0.8 3.0M66.9 486.1l0.5 2.8M67.6 490.5l0.7 4.1M70.5 508.1l0.7 4.9M74.6 523.0l1.1 3.9M76.3 530.0l0.5 2.6M76.3 535.0l0.8 2.8M79.6 542.0l0.3 3.3M82.1 555.9l1.0 3.4M83.6 563.5l0.6 5.2M73.1 493.8l0.3 4.5M73.0 499.7l0.6 3.4M74.4 515.1l1.3 4.3M75.9 521.4l1.1 4.6M78.3 532.7l0.5 2.9M79.8 536.2l0.4 4.5M81.3 540.9l1.1 4.5M82.8 557.5l0.9 5.1M85.6 566.0l0.3 3.6M68.6 458.4l0.8 3.6M68.7 462.7l0.8 4.8M71.4 482.7l0.3 4.9M72.8 491.4l0.4 3.4M76.9 499.1l0.7 3.4M78.1 509.3l1.1 2.8M78.2 512.6l1.1 4.4M81.9 527.3l0.5 3.5M83.4 533.9l1.2 4.3M84.6 541.7l1.0 4.2M85.2 552.0l0.3 3.5M70.8 451.0l0.1 3.1M72.5 465.6l0.5 3.1M75.2 484.5l0.7 4.9M80.1 508.4l0.0 4.1M80.7 513.9l0.9 2.9M82.5 530.1l1.7 4.8M84.6 534.5l1.2 4.5M86.7 542.8l0.1 2.8M87.5 546.7l0.6 3.9M87.5 554.8l0.3 4.0M71.3 444.4l0.6 2.9M72.7 453.5l0.5 3.8M73.6 460.1l0.6 4.0M76.6 482.5l0.5 2.9M77.9 488.9l0.4 2.6M77.6 493.0l1.1 4.5M79.8 498.1l0.9 4.6M85.1 519.7l0.8 2.6M85.4 527.9l0.5 4.7M88.0 542.4l0.6 4.0M90.2 550.0l0.6 3.5M89.6 556.5l0.4 2.6M74.8 444.6l0.3 4.8M75.0 451.8l1.2 4.6M77.5 459.1l0.4 4.9M76.9 467.1l0.7 4.5M80.1 484.0l0.8 4.5M81.4 493.4l0.4 2.7M83.2 503.1l0.7 2.8M85.8 512.1l0.6 3.7M88.9 518.8l0.5 3.1M90.3 538.8l0.5 2.7M92.0 546.1l0.6 5.1M94.2 551.6l1.0 3.2M94.0 560.3l0.6 3.1M79.9 450.8l0.5 2.7M78.5 458.9l1.6 4.6M82.6 467.9l0.7 3.5M84.4 475.9l0.7 3.7M83.6 483.0l0.5 3.2M88.3 494.6l0.5 4.2M90.7 510.4l0.4 4.2M91.1 520.1l1.6 4.0M92.3 524.0l0.2 4.2M95.2 540.9l0.2 4.2M96.3 547.4l0.7 3.9M98.1 557.8l0.5 3.2M99.3 564.1l1.0 4.5M79.3 452.5l0.2 2.9M80.9 463.9l-0.2 4.3M87.3 493.8l0.9 4.9M88.0 498.3l1.2 4.5M88.2 506.5l1.0 4.5M91.1 525.7l1.0 5.0M94.7 538.3l1.2 4.9M95.0 546.0l0.1 2.7M98.5 553.4l0.2 3.2M81.1 451.0l-0.0 3.1M82.4 455.7l0.9 2.6M82.2 460.2l0.3 2.6M84.8 466.3l0.5 3.1M88.9 484.2l0.4 3.6M88.2 493.8l0.5 2.8M89.9 497.7l0.3 2.9M91.9 502.3l0.3 3.0M93.0 506.7l0.1 3.9M95.0 521.2l0.9 3.2M97.9 536.9l0.2 3.0M98.7 545.9l0.9 4.6M101.3 560.2l0.6 2.7M85.7 458.1l0.7 4.1M91.1 484.5l0.8 3.2M93.7 494.0l0.8 3.4M94.3 509.6l0.7 4.5M98.0 518.2l1.7 4.9M98.1 528.2l1.0 3.1M100.3 539.4l1.2 3.9M102.5 546.5l0.5 2.9M84.8 444.0l0.7 3.0M88.1 453.7l1.3 4.0M88.9 461.8l0.7 3.0M90.7 470.0l0.6 3.6M95.0 488.8l0.7 4.0M100.9 515.6l0.4 4.2M100.5 525.9l0.8 2.8M102.5 532.0l0.8 4.1M89.5 444.4l0.4 3.2M95.2 482.2l0.7 4.2M98.4 489.6l0.8 3.5M97.7 497.8l0.6 3.3M99.1 504.3l0.7 4.3M102.7 509.7l0.2 3.8M104.0 532.1l0.5 4.2M111.6 565.6l0.3 3.7M90.4 445.5l1.6 4.1M95.6 460.4l0.5 3.2M96.5 465.5l0.4 4.0M98.6 472.6l0.3 3.0M109.8 542.0l1.4 4.5M94.2 444.9l0.9 3.3M96.2 453.5l0.7 5.1M97.4 463.2l1.0 3.5M97.5 469.4l0.6 2.9M101.4 481.0l1.2 4.9M101.1 485.9l1.2 3.7M102.7 491.0l0.7 2.6M116.6 565.1l0.5 3.5M95.7 449.3l0.8 3.4M97.7 455.6l0.7 3.5M99.2 459.4l1.3 4.8M103.8 482.3l0.3 3.7M105.5 487.6l0.8 3.9M119.2 562.1l0.7 3.9M100.9 446.6l0.8 2.8M101.3 459.0l0.7 4.0M105.0 468.9l1.2 4.0M106.2 480.6l0.2 3.8M112.7 509.7l1.2 4.9M113.9 519.4l1.1 4.6M114.8 528.8l0.5 4.3M116.0 533.1l1.3 4.1M105.3 456.1l0.4 3.1M104.9 465.5l0.3 2.7M105.7 470.3l0.3 5.0M108.8 479.9l1.8 4.2M110.4 487.5l0.9 5.0M114.6 511.1l1.0 3.1M117.6 523.0l0.5 4.6M104.0 448.8l0.7 4.6M106.5 465.2l1.0 4.9M109.6 480.3l0.2 2.6M114.6 494.0l0.4 2.8M116.5 506.5l0.7 4.2M115.9 514.1l0.5 3.3M116.4 518.1l0.8 4.1M108.3 443.2l0.8 5.0M111.0 453.0l0.8 4.8M116.0 477.1l0.9 5.0M116.3 488.3l0.5 2.6M116.8 492.0l0.6 3.9M118.9 502.1l0.8 3.0M121.2 509.9l1.5 4.4M122.5 515.6l1.2 4.0M123.6 524.4l0.8 3.0M123.8 533.9l0.6 3.6M125.0 539.5l0.7 2.7M127.7 547.3l0.9 3.6M114.2 453.1l1.3 4.4M115.4 459.6l0.8 2.7M114.9 468.3l0.9 3.1M115.6 472.0l0.5 4.7M120.5 486.1l0.4 3.5M119.3 494.1l0.7 5.0M124.1 515.1l0.2 3.0M127.1 521.4l0.4 3.5M126.9 526.4l0.6 2.9M113.2 453.3l1.3 4.5M116.3 463.1l0.5 3.2M117.3 480.0l1.6 4.5M121.9 490.7l0.5 3.0M121.2 494.9l1.1 5.1M124.0 501.5l0.8 2.6M124.9 518.6l0.8 4.4M128.9 528.8l1.1 3.8M128.5 534.8l0.6 3.5M130.1 543.4l1.0 4.6M116.9 441.9l0.8 4.7M118.1 449.3l0.9 4.6M119.8 460.1l0.8 2.7M119.4 468.0l0.9 4.5M119.8 472.5l0.9 3.7M123.8 481.2l1.1 3.2M127.1 502.8l0.5 4.2M126.4 509.0l1.0 3.8M128.7 517.4l0.6 3.4M131.8 525.9l1.1 4.3M131.0 530.4l0.2 4.2M133.3 545.5l1.0 4.5M116.8 444.9l1.0 4.1M118.2 450.6l1.4 4.8M119.3 455.8l0.6 3.3M120.8 462.0l1.0 3.2M125.3 478.7l0.4 3.9M129.9 500.9l0.8 4.2M131.0 504.5l-0.1 5.0M130.8 510.6l1.5 4.8M120.7 445.2l1.1 4.7M123.3 460.9l1.0 4.7M123.6 470.8l0.4 3.0M124.6 477.9l1.0 4.9M130.0 495.8l0.6 4.1M132.3 506.3l0.4 2.7M130.9 512.3l0.6 4.8M134.5 518.8l0.4 4.3M124.9 448.2l0.7 5.0M127.2 457.3l1.2 3.9M128.0 465.2l0.5 3.8M130.3 471.2l0.6 2.9M133.3 490.1l1.1 3.7M134.4 497.2l0.4 3.8M126.5 449.6l0.2 3.2M128.3 462.0l0.7 5.1M131.2 471.3l1.4 4.8M132.5 480.9l1.2 3.7M132.7 488.0l0.9 2.7M129.0 446.7l0.9 4.5M130.6 458.3l1.5 4.9M132.6 467.3l0.7 3.2M131.2 443.1l0.7 3.1M133.4 449.3l0.4 3.7M134.8 449.7l0.3 3.2" stroke="#18129c" stroke-width="3.0" stroke-linecap="round" fill="none" opacity="0.45"/></g>
<g filter="url(#soft)"><path d="M5.5 517.5l0.7 4.4M0.9 478.1l0.5 2.9M15.8 546.2l1.0 4.9M5.7 495.1l0.9 4.9M6.8 450.0l0.2 3.8M11.5 470.3l0.7 3.1M14.5 496.7l0.2 4.9M15.6 507.1l0.4 4.2M5.1 453.2l1.3 3.3M8.2 466.1l1.1 4.8M24.8 559.3l1.1 3.4M26.7 533.7l0.2 5.0M28.5 550.1l1.1 4.3M23.6 511.0l1.1 4.5M30.4 539.5l0.7 4.2M18.1 467.5l0.6 2.6M27.8 514.2l1.0 2.6M28.1 520.0l0.6 2.7M22.2 483.0l0.7 3.0M29.7 527.2l0.3 3.6M24.2 461.9l0.7 4.6M33.1 509.0l0.6 3.1M30.5 493.9l1.2 4.7M33.9 506.3l0.8 4.9M34.0 512.2l0.8 4.8M36.0 527.4l0.2 3.3M29.8 472.2l0.4 3.5M40.0 521.3l1.1 4.4M24.2 442.8l1.1 5.0M28.4 451.1l-0.2 3.6M36.4 504.6l0.6 3.2M41.4 491.8l1.0 4.3M39.7 487.8l0.5 3.0M39.0 469.0l0.5 3.5M47.3 516.4l0.8 4.5M39.9 456.7l0.1 3.8M41.1 463.2l0.4 3.2M41.8 470.5l0.6 3.2M47.0 496.0l1.2 3.7M57.2 556.7l0.4 4.0M42.9 455.6l0.5 4.5M49.3 490.4l1.1 4.4M59.1 544.4l0.6 4.8M44.6 458.7l0.8 4.0M49.4 468.9l0.5 2.7M49.2 484.2l0.9 3.9M56.3 504.8l0.3 5.0M56.1 515.0l1.4 4.0M58.4 533.3l0.8 2.5M62.5 541.8l0.7 4.1M65.2 563.5l0.7 3.0M52.9 492.2l0.5 4.4M55.8 512.2l0.4 2.8M62.5 536.5l0.5 4.1M65.3 563.5l0.8 3.0M51.0 463.3l-0.1 3.3M53.9 470.6l0.3 3.0M68.8 550.7l0.3 4.2M57.7 473.3l1.3 5.0M60.4 482.4l0.2 4.2M54.6 447.8l0.9 5.0M68.9 521.5l1.1 4.7M58.8 447.3l0.3 3.2M69.0 505.0l0.8 4.0M73.2 523.1l0.6 4.3M76.1 536.6l0.5 2.7M77.7 558.0l0.8 4.7M64.1 466.0l0.2 2.7M70.9 498.2l0.9 2.6M72.5 518.3l0.5 3.0M79.7 546.1l0.3 3.6M65.4 456.1l1.2 4.0M66.0 462.2l0.9 3.2M75.0 505.2l1.1 4.0M79.4 525.8l0.5 4.2M81.0 551.1l1.1 4.0M68.8 468.6l0.7 4.5M72.4 479.2l0.3 3.5M79.1 518.9l0.6 3.8M86.3 560.1l1.0 3.3M66.8 443.2l0.5 2.8M82.7 522.1l0.6 4.0M91.3 560.1l0.2 3.0M91.8 569.2l1.2 2.9M83.0 503.9l0.1 5.2M84.1 514.4l0.4 3.7M89.0 528.7l0.2 2.6M94.8 528.3l0.7 3.6M93.9 535.1l0.7 3.6M77.7 442.5l1.3 4.4M80.0 460.1l0.6 3.2M86.2 485.4l1.3 3.8M86.6 489.7l1.3 4.6M89.0 515.7l1.0 5.0M84.8 476.4l0.2 2.7M96.9 527.3l0.9 4.9M98.0 551.0l1.2 3.4M84.8 450.8l0.4 2.7M87.0 472.1l0.7 4.8M93.5 502.5l0.2 2.9M86.8 447.8l1.2 4.2M94.5 496.6l0.3 3.7M97.1 504.2l0.9 4.8M99.2 510.1l0.1 5.2M91.3 458.0l1.0 4.4M93.6 476.0l0.4 2.6M100.9 516.2l0.2 2.7M93.1 454.3l0.7 2.5M100.5 484.4l0.5 2.6M105.6 508.5l1.0 4.2M99.5 468.9l0.1 4.2M101.5 475.1l0.7 4.2M100.5 450.5l0.6 3.3M104.7 473.5l0.4 3.9M109.8 488.6l0.8 4.5M116.4 524.0l0.5 3.8M113.1 502.9l0.8 4.0M107.9 457.2l0.7 3.2M113.8 488.8l0.8 4.2M118.9 528.1l1.1 3.4M120.0 532.6l1.1 4.1M108.4 448.5l0.4 3.2M112.7 463.1l0.3 3.2M111.5 443.7l0.1 4.1M122.2 507.7l0.4 2.8M111.4 445.5l0.5 3.1M116.6 474.4l1.2 4.6M118.5 486.3l0.3 3.7M125.4 509.1l0.2 3.2M124.8 485.7l0.8 4.4M125.1 495.5l1.1 4.8M133.2 536.9l0.7 3.1M123.9 471.9l0.7 3.6M126.2 483.2l0.3 3.9M125.8 491.8l0.6 3.8M126.5 495.8l0.7 5.1M131.9 517.6l0.2 3.9M122.5 453.7l0.7 4.8M127.0 486.1l-0.0 5.0M131.1 480.4l0.4 3.0M128.3 455.1l0.4 3.3" stroke="#2c28b6" stroke-width="1.6" stroke-linecap="round" fill="none" opacity="1.0"/><path d="M7.3 550.9l0.6 3.7M10.7 560.0l1.6 4.9M2.4 487.4l0.9 4.3M2.3 470.0l0.9 2.8M15.4 542.3l-0.0 3.9M17.5 547.3l0.6 4.1M18.8 555.0l0.7 4.5M2.1 456.8l1.4 4.1M6.0 469.2l0.7 4.5M7.4 490.2l0.7 3.9M15.0 524.9l-0.1 4.2M16.0 529.8l0.4 4.3M16.6 541.8l1.4 4.3M8.2 462.2l0.8 3.2M13.1 480.0l0.7 3.5M16.7 512.7l0.5 4.2M18.5 520.6l0.6 4.7M21.5 527.4l0.5 3.2M22.0 532.3l0.7 4.0M8.4 458.5l0.5 5.0M12.6 485.1l1.1 4.7M13.5 494.4l0.8 3.9M17.0 516.8l0.6 2.8M19.0 524.8l0.8 3.9M20.1 530.2l1.2 3.7M22.2 539.6l1.0 4.7M25.5 549.1l0.8 3.9M9.3 441.7l0.7 4.6M15.9 469.1l0.7 4.7M18.6 494.5l1.2 4.5M22.3 499.7l0.3 2.6M23.1 507.6l0.4 3.0M23.8 515.8l0.4 3.3M25.9 523.0l0.8 4.7M24.3 526.8l1.0 5.0M29.0 542.7l0.4 4.7M31.0 555.7l0.3 4.7M10.4 446.6l0.7 3.1M16.7 467.9l0.9 4.0M16.5 478.9l0.9 2.9M20.3 491.5l0.3 3.7M25.0 520.2l0.8 2.8M27.8 526.2l0.5 3.0M27.9 534.3l1.8 4.8M30.5 544.2l0.7 5.0M15.8 444.1l0.2 4.2M15.5 454.7l0.2 3.1M15.8 461.3l1.1 4.9M20.9 479.7l0.8 3.2M22.1 484.2l0.9 4.1M22.3 489.1l2.0 4.1M23.8 496.9l0.7 4.9M25.2 504.6l0.6 2.7M28.8 527.1l0.8 2.7M31.2 532.5l0.7 4.6M31.4 542.1l0.1 4.0M33.5 551.6l0.1 2.8M18.5 454.5l0.8 2.9M21.5 471.9l0.9 4.8M26.5 500.2l0.8 3.1M28.6 509.3l-0.1 3.7M27.2 514.1l0.5 3.2M29.2 521.8l0.6 3.0M32.4 533.7l0.9 4.2M33.9 541.8l0.5 3.9M35.8 550.7l0.9 4.5M20.9 458.4l0.9 3.6M24.8 476.0l0.7 3.2M25.9 483.1l0.9 4.7M30.4 494.2l0.6 4.5M28.2 499.2l0.5 2.9M33.2 517.5l0.2 3.5M33.4 527.6l0.7 2.7M38.7 540.6l0.2 3.2M38.6 547.0l0.8 3.1M20.5 444.5l0.5 3.3M24.0 453.6l0.7 4.4M22.3 459.7l0.8 4.5M27.3 483.0l0.6 2.9M30.9 501.4l0.1 2.7M39.0 545.3l0.8 4.0M25.3 447.5l1.1 3.7M27.0 455.2l1.2 4.5M28.3 463.2l0.9 3.5M34.2 494.6l0.7 4.0M37.5 501.8l0.4 3.5M38.8 512.1l0.7 2.9M44.4 545.9l0.6 3.0M44.3 553.9l1.3 4.5M46.7 559.3l0.4 4.8M47.9 565.3l0.8 4.7M28.7 462.7l0.8 2.8M31.6 477.9l0.9 3.2M36.7 495.3l0.3 2.9M36.4 500.3l0.6 2.6M37.3 511.8l0.4 2.8M41.7 520.3l0.4 4.7M41.9 535.2l1.7 4.9M43.6 546.0l0.3 2.8M48.8 567.3l1.3 4.3M32.5 442.8l0.3 3.2M32.5 454.5l0.8 3.5M36.0 466.8l0.9 3.9M40.6 487.1l0.6 3.4M40.4 497.6l0.5 3.4M43.1 505.8l0.3 3.1M45.1 511.7l0.2 4.1M45.9 519.9l0.2 3.2M46.2 526.3l1.0 3.6M47.0 530.6l0.8 3.3M48.4 539.8l1.2 5.0M52.1 549.7l0.7 3.9M53.3 558.5l1.3 4.5M33.3 449.2l0.7 4.8M36.5 469.0l0.4 2.9M40.1 478.2l0.3 3.1M40.3 482.3l0.4 3.7M42.7 495.6l0.2 2.9M44.6 502.1l0.8 3.5M43.2 509.8l1.2 4.6M45.7 517.9l0.5 4.1M47.1 526.4l0.4 3.8M49.1 535.9l0.7 3.3M49.5 540.3l0.7 3.2M51.4 547.7l0.7 4.8M53.9 563.6l1.2 4.2M37.7 452.5l0.1 5.1M39.5 460.2l0.4 5.2M42.1 487.2l0.8 4.5M47.5 502.9l0.0 2.7M47.9 512.4l0.7 3.3M49.6 524.0l1.0 3.6M51.8 528.2l0.8 3.9M53.1 533.7l0.2 2.6M53.9 550.0l0.2 4.3M55.9 556.5l0.3 2.9M38.3 451.2l0.7 3.2M45.2 485.9l1.1 4.0M47.0 503.2l0.9 4.6M49.4 509.6l0.0 2.8M51.6 515.3l0.5 2.7M52.9 523.4l-0.1 4.3M51.9 530.7l0.6 4.3M53.5 539.2l1.1 4.4M58.8 565.8l0.5 4.0M41.7 449.1l1.0 4.9M44.5 464.6l0.3 4.1M45.5 469.7l1.7 3.8M46.7 478.7l0.6 4.1M49.4 484.5l0.9 3.6M53.6 507.0l0.2 3.5M53.1 514.7l0.0 3.1M54.7 522.6l0.3 4.9M57.8 531.6l1.0 4.4M56.9 537.8l0.6 3.3M61.9 550.5l0.7 3.9M64.8 565.7l0.9 3.1M44.7 451.6l0.4 3.2M48.9 473.7l1.0 4.7M52.9 492.0l0.3 2.8M54.7 498.2l0.8 3.3M61.1 549.8l1.6 4.5M64.0 559.4l0.9 3.2M65.6 568.7l0.6 3.4M44.8 450.8l0.2 3.5M48.9 463.4l0.3 3.7M50.4 468.4l0.8 4.6M51.0 474.9l0.7 4.1M53.4 487.2l1.3 4.7M55.5 501.6l1.0 5.0M57.4 517.2l0.4 3.9M59.8 522.9l0.5 2.8M61.7 529.8l0.5 3.4M47.7 446.9l0.5 2.7M50.0 449.8l0.3 4.9M50.6 455.7l0.8 4.9M54.6 475.5l0.8 3.8M54.7 482.0l0.9 3.2M55.7 485.0l1.2 5.0M55.8 492.1l0.7 4.7M58.5 501.5l0.9 3.8M63.5 520.9l0.6 4.3M63.2 531.5l1.0 3.1M66.4 540.0l0.0 4.2M67.4 545.8l1.4 4.7M71.0 559.0l0.4 4.9M48.3 441.5l0.7 4.2M50.0 450.4l1.3 4.2M52.9 455.2l1.7 4.8M53.0 466.0l0.9 2.5M55.0 472.9l0.7 3.0M55.1 480.5l1.0 5.0M57.6 486.6l0.5 5.1M59.1 492.1l0.5 4.9M62.0 500.2l0.6 4.6M64.6 524.2l0.6 3.8M64.4 530.6l0.9 4.3M67.5 534.9l0.7 4.3M69.3 549.8l0.6 5.0M72.3 557.6l0.8 3.1M71.5 562.2l0.5 3.2M52.7 445.9l1.2 3.7M54.5 454.2l1.3 4.5M57.8 463.8l0.4 4.3M61.9 490.8l0.3 5.0M63.6 501.1l0.6 4.5M69.5 526.9l1.0 5.0M69.0 533.2l0.3 4.3M70.6 541.4l1.6 3.4M73.0 554.3l1.1 4.6M55.8 454.5l0.4 3.3M57.1 463.4l0.7 3.1M59.2 472.2l1.1 3.6M61.9 479.3l0.7 3.1M63.1 488.5l1.0 4.9M64.2 495.2l0.6 4.9M70.2 532.4l0.6 3.0M72.3 536.2l0.2 3.5M73.8 547.8l0.3 2.9M76.7 554.8l1.1 4.2M61.2 456.2l0.5 3.1M62.1 463.7l1.0 3.7M64.2 481.0l0.4 3.9M70.1 501.2l0.7 3.5M70.7 514.2l0.9 3.0M71.9 526.8l1.1 5.0M77.8 545.1l0.3 2.7M76.9 549.1l0.4 4.2M62.1 451.3l0.1 3.2M62.5 455.2l1.2 4.1M65.0 478.4l0.8 3.0M66.9 486.1l0.5 2.8M67.6 490.5l0.7 4.1M70.5 508.1l0.7 4.9M74.6 523.0l1.1 3.9M76.3 530.0l0.5 2.6M76.3 535.0l0.8 2.8M79.6 542.0l0.3 3.3M82.1 555.9l1.0 3.4M83.6 563.5l0.6 5.2M73.1 493.8l0.3 4.5M73.0 499.7l0.6 3.4M74.4 515.1l1.3 4.3M75.9 521.4l1.1 4.6M78.3 532.7l0.5 2.9M79.8 536.2l0.4 4.5M81.3 540.9l1.1 4.5M82.8 557.5l0.9 5.1M85.6 566.0l0.3 3.6M68.6 458.4l0.8 3.6M68.7 462.7l0.8 4.8M71.4 482.7l0.3 4.9M72.8 491.4l0.4 3.4M76.9 499.1l0.7 3.4M78.1 509.3l1.1 2.8M78.2 512.6l1.1 4.4M81.9 527.3l0.5 3.5M83.4 533.9l1.2 4.3M84.6 541.7l1.0 4.2M85.2 552.0l0.3 3.5M70.8 451.0l0.1 3.1M72.5 465.6l0.5 3.1M75.2 484.5l0.7 4.9M80.1 508.4l0.0 4.1M80.7 513.9l0.9 2.9M82.5 530.1l1.7 4.8M84.6 534.5l1.2 4.5M86.7 542.8l0.1 2.8M87.5 546.7l0.6 3.9M87.5 554.8l0.3 4.0M71.3 444.4l0.6 2.9M72.7 453.5l0.5 3.8M73.6 460.1l0.6 4.0M76.6 482.5l0.5 2.9M77.9 488.9l0.4 2.6M77.6 493.0l1.1 4.5M79.8 498.1l0.9 4.6M85.1 519.7l0.8 2.6M85.4 527.9l0.5 4.7M88.0 542.4l0.6 4.0M90.2 550.0l0.6 3.5M89.6 556.5l0.4 2.6M74.8 444.6l0.3 4.8M75.0 451.8l1.2 4.6M77.5 459.1l0.4 4.9M76.9 467.1l0.7 4.5M80.1 484.0l0.8 4.5M81.4 493.4l0.4 2.7M83.2 503.1l0.7 2.8M85.8 512.1l0.6 3.7M88.9 518.8l0.5 3.1M90.3 538.8l0.5 2.7M92.0 546.1l0.6 5.1M94.2 551.6l1.0 3.2M94.0 560.3l0.6 3.1M79.9 450.8l0.5 2.7M78.5 458.9l1.6 4.6M82.6 467.9l0.7 3.5M84.4 475.9l0.7 3.7M83.6 483.0l0.5 3.2M88.3 494.6l0.5 4.2M90.7 510.4l0.4 4.2M91.1 520.1l1.6 4.0M92.3 524.0l0.2 4.2M95.2 540.9l0.2 4.2M96.3 547.4l0.7 3.9M98.1 557.8l0.5 3.2M99.3 564.1l1.0 4.5M79.3 452.5l0.2 2.9M80.9 463.9l-0.2 4.3M87.3 493.8l0.9 4.9M88.0 498.3l1.2 4.5M88.2 506.5l1.0 4.5M91.1 525.7l1.0 5.0M94.7 538.3l1.2 4.9M95.0 546.0l0.1 2.7M98.5 553.4l0.2 3.2M81.1 451.0l-0.0 3.1M82.4 455.7l0.9 2.6M82.2 460.2l0.3 2.6M84.8 466.3l0.5 3.1M88.9 484.2l0.4 3.6M88.2 493.8l0.5 2.8M89.9 497.7l0.3 2.9M91.9 502.3l0.3 3.0M93.0 506.7l0.1 3.9M95.0 521.2l0.9 3.2M97.9 536.9l0.2 3.0M98.7 545.9l0.9 4.6M101.3 560.2l0.6 2.7M85.7 458.1l0.7 4.1M91.1 484.5l0.8 3.2M93.7 494.0l0.8 3.4M94.3 509.6l0.7 4.5M98.0 518.2l1.7 4.9M98.1 528.2l1.0 3.1M100.3 539.4l1.2 3.9M102.5 546.5l0.5 2.9M84.8 444.0l0.7 3.0M88.1 453.7l1.3 4.0M88.9 461.8l0.7 3.0M90.7 470.0l0.6 3.6M95.0 488.8l0.7 4.0M100.9 515.6l0.4 4.2M100.5 525.9l0.8 2.8M102.5 532.0l0.8 4.1M89.5 444.4l0.4 3.2M95.2 482.2l0.7 4.2M98.4 489.6l0.8 3.5M97.7 497.8l0.6 3.3M99.1 504.3l0.7 4.3M102.7 509.7l0.2 3.8M104.0 532.1l0.5 4.2M111.6 565.6l0.3 3.7M90.4 445.5l1.6 4.1M95.6 460.4l0.5 3.2M96.5 465.5l0.4 4.0M98.6 472.6l0.3 3.0M109.8 542.0l1.4 4.5M94.2 444.9l0.9 3.3M96.2 453.5l0.7 5.1M97.4 463.2l1.0 3.5M97.5 469.4l0.6 2.9M101.4 481.0l1.2 4.9M101.1 485.9l1.2 3.7M102.7 491.0l0.7 2.6M116.6 565.1l0.5 3.5M95.7 449.3l0.8 3.4M97.7 455.6l0.7 3.5M99.2 459.4l1.3 4.8M103.8 482.3l0.3 3.7M105.5 487.6l0.8 3.9M119.2 562.1l0.7 3.9M100.9 446.6l0.8 2.8M101.3 459.0l0.7 4.0M105.0 468.9l1.2 4.0M106.2 480.6l0.2 3.8M112.7 509.7l1.2 4.9M113.9 519.4l1.1 4.6M114.8 528.8l0.5 4.3M116.0 533.1l1.3 4.1M105.3 456.1l0.4 3.1M104.9 465.5l0.3 2.7M105.7 470.3l0.3 5.0M108.8 479.9l1.8 4.2M110.4 487.5l0.9 5.0M114.6 511.1l1.0 3.1M117.6 523.0l0.5 4.6M104.0 448.8l0.7 4.6M106.5 465.2l1.0 4.9M109.6 480.3l0.2 2.6M114.6 494.0l0.4 2.8M116.5 506.5l0.7 4.2M115.9 514.1l0.5 3.3M116.4 518.1l0.8 4.1M108.3 443.2l0.8 5.0M111.0 453.0l0.8 4.8M116.0 477.1l0.9 5.0M116.3 488.3l0.5 2.6M116.8 492.0l0.6 3.9M118.9 502.1l0.8 3.0M121.2 509.9l1.5 4.4M122.5 515.6l1.2 4.0M123.6 524.4l0.8 3.0M123.8 533.9l0.6 3.6M125.0 539.5l0.7 2.7M127.7 547.3l0.9 3.6M114.2 453.1l1.3 4.4M115.4 459.6l0.8 2.7M114.9 468.3l0.9 3.1M115.6 472.0l0.5 4.7M120.5 486.1l0.4 3.5M119.3 494.1l0.7 5.0M124.1 515.1l0.2 3.0M127.1 521.4l0.4 3.5M126.9 526.4l0.6 2.9M113.2 453.3l1.3 4.5M116.3 463.1l0.5 3.2M117.3 480.0l1.6 4.5M121.9 490.7l0.5 3.0M121.2 494.9l1.1 5.1M124.0 501.5l0.8 2.6M124.9 518.6l0.8 4.4M128.9 528.8l1.1 3.8M128.5 534.8l0.6 3.5M130.1 543.4l1.0 4.6M116.9 441.9l0.8 4.7M118.1 449.3l0.9 4.6M119.8 460.1l0.8 2.7M119.4 468.0l0.9 4.5M119.8 472.5l0.9 3.7M123.8 481.2l1.1 3.2M127.1 502.8l0.5 4.2M126.4 509.0l1.0 3.8M128.7 517.4l0.6 3.4M131.8 525.9l1.1 4.3M131.0 530.4l0.2 4.2M133.3 545.5l1.0 4.5M116.8 444.9l1.0 4.1M118.2 450.6l1.4 4.8M119.3 455.8l0.6 3.3M120.8 462.0l1.0 3.2M125.3 478.7l0.4 3.9M129.9 500.9l0.8 4.2M131.0 504.5l-0.1 5.0M130.8 510.6l1.5 4.8M120.7 445.2l1.1 4.7M123.3 460.9l1.0 4.7M123.6 470.8l0.4 3.0M124.6 477.9l1.0 4.9M130.0 495.8l0.6 4.1M132.3 506.3l0.4 2.7M130.9 512.3l0.6 4.8M134.5 518.8l0.4 4.3M124.9 448.2l0.7 5.0M127.2 457.3l1.2 3.9M128.0 465.2l0.5 3.8M130.3 471.2l0.6 2.9M133.3 490.1l1.1 3.7M134.4 497.2l0.4 3.8M126.5 449.6l0.2 3.2M128.3 462.0l0.7 5.1M131.2 471.3l1.4 4.8M132.5 480.9l1.2 3.7M132.7 488.0l0.9 2.7M129.0 446.7l0.9 4.5M130.6 458.3l1.5 4.9M132.6 467.3l0.7 3.2M131.2 443.1l0.7 3.1M133.4 449.3l0.4 3.7M134.8 449.7l0.3 3.2" stroke="#3330c8" stroke-width="1.6" stroke-linecap="round" fill="none" opacity="1.0"/><path d="M7.5 551.9l0.3 1.6M2.7 488.6l0.4 1.9M14.9 526.1l-0.0 1.8M16.2 531.0l0.2 1.9M17.0 543.0l0.6 1.9M8.4 463.1l0.4 1.4M16.8 513.9l0.2 1.9M21.7 528.3l0.2 1.4M22.2 533.4l0.3 1.7M8.6 459.9l0.2 2.2M19.2 525.8l0.4 1.7M25.8 550.2l0.4 1.7M16.1 470.4l0.3 2.1M18.9 495.8l0.5 2.0M22.4 500.5l0.1 1.2M23.9 516.7l0.2 1.4M29.1 544.0l0.2 2.1M31.1 557.1l0.2 2.1M10.6 447.5l0.3 1.3M16.9 469.0l0.4 1.7M16.8 479.7l0.4 1.3M25.3 521.0l0.3 1.2M27.9 527.0l0.2 1.3M30.7 545.6l0.3 2.2M15.6 455.6l0.1 1.4M21.1 480.6l0.4 1.4M22.4 485.4l0.4 1.8M24.0 498.2l0.3 2.2M31.4 543.3l0.1 1.8M33.5 552.4l0.1 1.2M26.7 501.1l0.3 1.4M28.6 510.4l-0.0 1.6M32.6 534.9l0.4 1.9M34.0 542.9l0.2 1.7M21.2 459.4l0.4 1.6M25.0 476.9l0.3 1.4M26.2 484.4l0.4 2.1M28.4 500.1l0.2 1.3M38.8 541.5l0.1 1.4M20.7 445.4l0.2 1.4M24.2 454.8l0.3 1.9M22.5 461.0l0.4 2.0M39.2 546.4l0.4 1.8M27.4 456.4l0.5 2.0M28.6 464.1l0.4 1.5M39.0 512.9l0.3 1.3M28.9 463.5l0.4 1.2M36.8 496.1l0.1 1.3M36.6 501.0l0.3 1.1M37.4 512.6l0.2 1.2M41.8 521.6l0.2 2.1M42.4 536.6l0.7 2.2M32.6 443.7l0.1 1.4M36.3 467.9l0.4 1.7M40.7 488.0l0.3 1.5M40.5 498.5l0.2 1.5M45.1 512.8l0.1 1.8M46.5 527.3l0.4 1.6M52.3 550.8l0.3 1.7M53.7 559.8l0.6 2.0M33.5 450.5l0.3 2.1M42.7 496.4l0.1 1.3M44.8 503.1l0.3 1.5M49.6 541.2l0.3 1.4M51.6 549.1l0.3 2.1M54.2 564.8l0.5 1.8M37.7 454.0l0.0 2.3M47.5 503.7l0.0 1.2M48.1 513.4l0.3 1.5M49.8 525.0l0.4 1.6M53.9 551.2l0.1 1.9M38.5 452.1l0.3 1.4M45.5 487.1l0.5 1.8M49.4 510.3l0.0 1.2M51.7 516.1l0.2 1.2M53.8 540.4l0.5 1.9M59.0 567.0l0.2 1.8M44.6 465.7l0.1 1.8M46.8 479.9l0.3 1.8M58.1 532.8l0.5 1.9M57.0 538.8l0.3 1.5M65.1 566.6l0.4 1.4M49.2 475.0l0.4 2.1M61.6 551.1l0.7 2.0M65.8 569.6l0.3 1.5M50.6 469.6l0.4 2.0M51.2 476.1l0.3 1.8M55.8 503.0l0.4 2.2M61.8 530.7l0.2 1.5M47.8 447.7l0.2 1.2M50.0 451.2l0.1 2.2M54.8 476.6l0.3 1.7M54.9 482.9l0.4 1.4M56.0 486.4l0.5 2.2M56.0 493.4l0.3 2.1M58.7 502.5l0.4 1.7M63.5 532.4l0.4 1.4M66.4 541.2l0.0 1.8M67.7 547.1l0.6 2.1M48.5 442.7l0.3 1.9M50.4 451.6l0.6 1.8M53.3 456.6l0.7 2.1M53.2 466.7l0.4 1.1M55.2 473.8l0.3 1.3M55.4 481.9l0.5 2.2M59.2 493.5l0.2 2.2M62.1 501.5l0.3 2.0M67.7 536.2l0.3 1.9M69.4 551.2l0.3 2.2M72.6 558.5l0.4 1.4M71.7 563.1l0.2 1.4M53.1 446.9l0.5 1.6M54.9 455.4l0.6 2.0M69.8 528.3l0.4 2.2M73.3 555.6l0.5 2.0M62.1 480.2l0.3 1.4M63.4 489.9l0.5 2.1M64.4 496.5l0.3 2.1M70.3 533.3l0.3 1.3M72.4 537.2l0.1 1.5M73.9 548.6l0.2 1.3M77.0 556.0l0.5 1.8M72.2 528.2l0.5 2.2M77.8 545.8l0.1 1.2M62.8 456.4l0.5 1.8M67.1 486.9l0.2 1.2M67.8 491.7l0.3 1.8M70.7 509.5l0.3 2.2M74.9 524.1l0.5 1.7M83.8 565.0l0.2 2.3M73.2 500.6l0.3 1.5M74.7 516.3l0.6 1.9M76.2 522.7l0.5 2.0M81.7 542.2l0.5 2.0M83.1 558.9l0.4 2.2M85.7 567.0l0.1 1.6M68.9 464.0l0.4 2.1M71.5 484.0l0.1 2.2M72.9 492.4l0.2 1.5M78.5 510.1l0.5 1.2M78.5 513.9l0.5 1.9M82.1 528.2l0.2 1.5M84.9 542.8l0.5 1.8M70.8 451.8l0.0 1.4M81.0 514.7l0.4 1.3M83.0 531.4l0.7 2.1M84.9 535.7l0.5 2.0M87.6 555.9l0.1 1.7M72.8 454.6l0.2 1.7M73.8 461.2l0.3 1.8M77.9 494.3l0.5 2.0M85.3 520.4l0.3 1.2M85.6 529.3l0.2 2.1M88.2 543.5l0.3 1.8M90.4 551.0l0.3 1.6M89.7 557.2l0.2 1.2M74.9 445.9l0.1 2.1M75.3 453.0l0.5 2.0M81.5 494.1l0.2 1.2M83.4 503.9l0.3 1.2M92.1 547.5l0.2 2.2M80.1 451.5l0.2 1.2M79.0 460.2l0.7 2.0M84.7 476.9l0.3 1.6M88.4 495.7l0.2 1.8M98.2 558.7l0.2 1.4M87.5 495.2l0.4 2.2M88.3 499.5l0.5 2.0M88.5 507.8l0.4 2.0M91.3 527.1l0.4 2.2M95.1 539.7l0.5 2.2M95.0 546.7l0.0 1.2M82.3 461.0l0.1 1.1M92.0 503.2l0.1 1.3M98.0 537.7l0.1 1.3M99.0 547.2l0.4 2.0M85.9 459.2l0.3 1.8M91.3 485.4l0.3 1.4M94.4 510.9l0.3 2.0M85.0 444.9l0.3 1.3M88.5 454.8l0.6 1.8M101.0 516.8l0.2 1.9M102.7 533.1l0.4 1.8M89.6 445.3l0.2 1.4M98.6 490.6l0.3 1.5M97.9 498.7l0.2 1.4M102.7 510.7l0.1 1.7M104.1 533.3l0.2 1.8M90.9 446.7l0.7 1.8M95.7 461.3l0.2 1.4M96.6 466.6l0.2 1.8M98.7 473.4l0.1 1.3M96.5 454.9l0.3 2.2M97.7 464.2l0.4 1.6M101.8 482.4l0.5 2.1M101.4 487.0l0.5 1.6M102.9 491.7l0.3 1.2M95.9 450.3l0.3 1.5M103.8 483.4l0.1 1.6M119.5 563.3l0.3 1.7M101.1 447.4l0.4 1.2M101.5 460.1l0.3 1.7M113.0 511.1l0.5 2.1M114.2 520.7l0.5 2.0M116.4 534.2l0.6 1.8M105.4 456.9l0.2 1.4M105.0 466.2l0.1 1.2M105.8 471.6l0.1 2.2M109.3 481.1l0.8 1.8M117.8 524.3l0.2 2.0M106.8 466.6l0.5 2.2M109.6 481.0l0.1 1.1M116.7 507.7l0.3 1.8M116.0 515.0l0.2 1.5M116.7 519.3l0.3 1.8M116.3 478.5l0.4 2.2M116.4 489.0l0.2 1.1M119.1 502.9l0.3 1.3M122.8 516.8l0.5 1.8M123.9 534.9l0.3 1.6M125.2 540.3l0.3 1.2M114.6 454.3l0.6 1.9M115.2 469.1l0.4 1.4M115.7 473.4l0.2 2.1M127.1 527.3l0.3 1.3M113.6 454.6l0.6 2.0M116.4 464.0l0.2 1.4M122.0 491.6l0.2 1.3M124.2 502.2l0.4 1.1M125.1 519.8l0.4 2.0M128.7 535.8l0.3 1.5M117.1 443.2l0.4 2.0M118.4 450.6l0.4 2.0M127.2 504.0l0.2 1.9M126.7 510.1l0.4 1.7M128.9 518.4l0.3 1.5M131.0 531.6l0.1 1.8M117.1 446.1l0.4 1.8M119.5 456.8l0.3 1.5M131.2 511.9l0.7 2.1M123.6 462.2l0.5 2.1M124.9 479.3l0.5 2.1M130.2 496.9l0.2 1.8M132.4 507.1l0.2 1.2M131.1 513.6l0.3 2.1M134.6 520.0l0.2 1.9M127.6 458.4l0.5 1.7M130.5 472.0l0.3 1.3M133.6 491.1l0.5 1.6M128.5 463.4l0.3 2.2M131.6 472.6l0.6 2.1M132.8 482.0l0.5 1.6M132.9 488.7l0.4 1.2M129.3 448.0l0.4 2.0M131.0 459.7l0.7 2.1M132.8 468.2l0.3 1.4M131.4 444.0l0.3 1.3M134.8 450.6l0.1 1.4" stroke="#767cf0" stroke-width="0.9" stroke-linecap="round" fill="none" opacity="1.0"/></g>
<rect x="3.2" y="557.2" width="46.3" height="4.6" fill="#fff"/>
<rect x="117.5" y="559.6" width="5.5" height="1" fill="#dde"/>
</g>
<g clip-path="url(#cp1)">
<rect x="138.3" y="453.8" width="133.5" height="115.5" fill="#030014"/>
<g filter="url(#soft2)"><path d="M271.6 475.1h0M184.4 556.5h0M180.9 523.2h0M256.0 521.9h0M251.7 521.1h0M266.6 519.2h0M242.6 564.1h0M248.5 530.9h0M209.3 457.5h0M207.4 501.1h0M179.3 497.0h0M217.8 516.5h0M208.8 464.0h0M195.9 500.3h0M206.7 500.1h0M182.1 495.1h0M209.8 545.7h0M230.9 459.8h0M261.3 507.0h0M208.2 521.3h0M185.5 544.4h0M223.0 493.1h0M267.4 494.5h0M166.0 493.5h0M249.7 458.2h0M189.4 540.5h0M171.5 480.5h0M227.2 472.0h0M240.6 454.3h0M251.3 480.7h0M184.0 553.6h0M189.0 527.7h0M257.5 517.5h0M206.8 475.6h0M250.3 512.7h0M268.3 475.8h0M240.0 498.5h0M159.9 459.6h0M212.8 553.7h0M240.8 456.3h0M147.2 474.4h0M259.7 501.4h0M182.7 565.9h0M258.6 546.3h0M182.7 474.1h0M185.6 547.7h0M167.3 468.6h0M156.8 459.5h0M153.4 509.3h0M147.5 493.0h0M227.8 495.5h0M149.3 471.7h0M167.3 508.4h0M178.8 481.4h0M183.3 499.8h0M192.5 559.8h0M173.3 554.1h0M209.1 532.6h0M244.8 496.8h0M236.6 459.1h0M242.0 468.4h0M169.4 468.8h0M173.1 454.8h0M159.7 465.4h0M161.8 463.5h0M197.6 505.9h0M168.8 474.6h0M154.7 461.9h0M261.6 526.1h0M236.1 480.5h0M157.9 558.4h0M259.1 533.5h0M189.7 462.3h0M190.2 487.2h0M161.0 486.4h0M247.3 490.2h0M160.4 456.0h0M239.4 545.5h0M258.2 486.2h0M208.4 555.9h0M158.3 489.7h0M154.0 494.2h0M226.1 481.8h0M195.7 542.3h0M154.7 487.8h0M147.6 489.0h0M164.9 478.2h0M153.2 502.1h0M234.2 532.9h0M206.9 481.5h0M159.5 460.2h0M212.5 512.0h0M217.9 531.9h0M245.2 497.4h0M249.6 465.1h0M254.8 498.9h0M150.9 487.9h0M253.3 491.4h0M154.5 485.3h0M174.4 462.2h0M244.3 501.5h0M237.6 510.7h0M188.3 548.2h0M242.3 463.9h0M204.2 532.9h0M211.1 532.8h0M217.9 522.4h0M240.3 496.9h0M187.3 455.9h0M229.6 486.1h0M162.5 478.1h0M236.2 565.9h0M148.5 512.9h0M253.6 492.2h0M253.8 567.5h0M162.9 505.7h0M185.6 479.9h0M174.6 489.7h0M261.6 530.7h0M243.1 505.3h0M208.1 522.7h0M150.6 456.3h0M194.3 567.8h0M197.0 518.7h0M188.7 500.0h0M243.2 511.4h0M182.5 527.5h0M241.8 534.9h0M220.6 503.4h0M168.1 510.4h0M197.9 526.8h0M202.7 467.4h0M251.7 509.6h0M220.1 501.5h0M196.4 500.5h0M249.5 550.7h0M177.0 513.3h0M202.1 558.5h0M188.7 528.3h0M150.3 484.0h0M202.3 522.0h0M205.8 554.2h0M205.5 540.7h0M222.6 528.4h0M234.0 498.6h0M259.9 557.0h0M165.7 560.9h0M188.1 495.8h0M222.2 482.1h0M250.8 540.0h0M138.4 465.3h0M147.3 481.9h0M159.1 552.4h0M238.6 548.1h0M228.9 511.5h0M256.4 558.2h0M231.5 487.5h0M233.4 459.2h0M159.3 468.8h0M202.8 531.7h0M236.1 479.2h0M181.5 546.9h0M145.6 477.0h0M245.9 534.1h0M232.8 505.7h0M234.9 543.4h0M182.0 528.8h0M171.3 538.1h0M182.2 525.2h0M209.7 549.8h0M212.6 468.5h0M232.3 454.9h0M205.9 510.7h0M245.1 497.1h0M141.1 487.9h0M231.9 518.7h0M148.5 493.2h0M193.9 489.1h0M190.0 505.7h0M176.2 470.9h0M200.1 522.6h0M186.9 559.0h0M226.0 480.6h0M243.3 481.0h0M227.5 551.7h0M242.4 490.1h0M255.6 457.3h0M224.1 470.6h0M189.4 468.1h0M247.5 505.2h0M239.2 553.7h0M227.9 473.5h0M226.2 556.7h0M219.7 520.7h0M255.8 482.1h0M197.1 494.7h0M254.5 514.1h0M210.6 469.5h0M156.2 468.3h0M200.1 500.0h0M260.5 496.0h0M256.5 522.1h0M190.8 519.2h0M178.9 568.6h0M257.8 470.2h0M222.8 474.1h0M233.6 502.2h0M254.7 502.9h0M229.7 503.3h0M224.4 457.0h0M170.5 509.9h0M253.9 534.0h0M158.1 535.8h0M220.2 498.5h0M202.1 495.2h0M138.4 485.6h0M262.3 556.0h0M180.7 534.3h0M216.8 523.2h0M231.2 546.3h0M262.5 509.2h0M200.0 459.0h0M139.2 459.6h0M228.6 461.6h0M169.4 524.7h0M258.1 455.5h0M162.0 473.7h0M147.7 486.0h0M250.2 553.8h0M250.6 548.9h0M209.3 463.8h0M265.0 540.1h0M182.1 560.8h0M234.7 483.4h0M188.3 530.1h0M189.9 486.6h0M156.8 465.2h0M196.0 529.7h0M198.8 506.9h0M180.5 532.4h0M195.7 568.1h0M164.2 477.2h0M265.4 477.9h0M267.7 487.2h0M166.9 458.1h0M160.0 473.9h0M158.3 528.9h0M168.8 517.6h0M235.7 454.4h0M210.8 557.3h0M203.7 498.0h0M241.3 457.8h0M251.4 495.0h0M252.7 468.0h0M226.9 472.8h0M172.1 485.5h0M247.1 506.6h0M247.5 497.7h0M248.2 463.6h0M179.9 470.0h0M182.6 559.9h0M249.3 540.7h0M187.5 517.7h0M234.7 506.8h0M256.6 455.5h0M167.6 538.8h0M257.9 556.8h0M254.2 500.3h0M251.0 455.2h0M158.1 454.1h0M207.5 544.7h0M262.2 518.4h0M259.1 548.5h0M228.2 566.2h0M202.2 563.0h0M194.0 463.4h0M200.1 562.4h0M267.8 472.3h0M181.2 513.5h0M259.7 538.9h0M212.6 551.0h0M200.8 477.4h0M221.0 474.7h0M198.6 493.6h0M246.4 509.9h0M208.7 480.2h0M200.6 550.0h0M237.5 497.1h0M248.2 554.3h0M267.0 473.7h0M158.8 487.0h0M215.9 520.7h0M229.1 461.1h0M225.0 485.8h0M246.7 516.6h0M237.4 548.3h0M221.6 545.3h0M165.5 497.4h0M251.7 483.0h0M179.4 514.9h0M152.6 457.6h0M225.2 475.5h0M179.7 520.0h0M226.7 460.9h0M248.6 546.9h0M209.4 552.5h0M169.3 500.1h0M178.7 543.0h0M230.3 487.6h0M244.6 475.1h0M184.8 482.2h0M255.3 537.6h0M235.2 547.5h0M268.3 478.9h0M163.6 493.3h0M168.8 532.4h0M200.9 460.4h0M238.3 513.5h0M216.6 542.6h0M155.6 489.5h0M145.4 474.5h0M203.9 566.3h0M236.4 521.0h0M266.1 495.6h0M212.2 556.0h0M256.8 521.0h0M198.2 494.5h0M155.3 463.2h0M252.5 498.3h0M173.4 519.1h0M163.7 469.0h0M206.3 511.5h0M248.9 487.6h0M193.5 520.7h0M190.2 500.4h0M196.8 499.5h0M176.3 531.3h0M193.3 527.9h0M236.8 511.0h0M229.5 503.5h0M213.7 533.7h0M217.1 477.2h0M143.4 470.9h0M191.5 559.0h0M145.1 458.4h0M270.2 516.0h0M206.5 511.3h0M232.3 510.1h0M221.3 501.9h0M153.1 457.6h0M198.6 542.7h0M242.8 483.3h0M138.5 493.8h0M161.2 486.8h0M205.6 494.0h0M211.5 558.1h0M189.6 524.8h0M211.7 476.1h0M186.1 472.5h0M161.1 478.1h0M150.5 463.4h0M237.5 540.9h0M251.9 513.6h0M251.6 557.1h0M259.3 534.6h0M258.6 459.0h0M182.6 511.3h0M204.4 461.7h0M253.2 531.6h0M184.9 510.0h0M170.1 479.6h0M187.7 549.1h0M190.5 549.0h0M149.6 490.4h0M266.7 556.9h0M200.6 483.3h0M211.7 486.0h0M227.5 509.7h0M167.7 520.8h0M197.1 556.2h0M249.4 506.2h0M155.3 511.2h0M238.8 463.1h0M155.2 466.4h0M254.0 491.4h0M162.1 502.9h0M170.2 465.3h0M264.8 474.6h0M189.5 561.9h0M198.1 553.5h0M193.2 499.5h0M202.4 530.1h0M261.4 558.5h0M236.0 502.6h0M218.9 532.3h0M254.5 461.3h0M271.2 488.9h0M248.2 559.2h0M238.8 558.6h0M234.4 521.4h0M261.8 467.4h0M169.0 474.0h0M253.3 523.9h0M205.7 554.4h0M185.3 559.9h0M194.2 496.9h0M202.0 489.5h0M197.5 490.4h0M195.8 465.2h0M271.7 487.9h0M194.2 556.6h0M234.3 505.0h0M170.7 490.3h0M252.0 516.5h0M223.4 499.4h0M257.6 461.8h0M209.1 495.6h0M232.0 455.6h0M184.4 528.6h0M205.6 541.0h0M173.2 498.1h0M145.6 499.6h0M240.2 527.5h0M151.6 519.2h0M225.5 496.4h0M242.2 558.6h0M231.1 511.4h0M178.7 508.2h0M230.4 487.1h0M263.3 520.4h0M160.0 466.7h0M185.6 556.2h0M210.7 524.5h0M173.5 498.7h0M203.0 532.5h0M234.5 521.6h0M158.7 487.2h0M145.4 484.5h0M171.9 519.2h0M263.7 488.1h0M201.7 469.3h0M207.8 552.4h0M256.3 524.6h0M194.7 541.9h0M235.4 478.4h0M179.8 522.2h0M176.9 550.2h0M152.3 474.3h0M138.7 478.9h0M267.1 480.3h0M259.4 552.3h0M227.3 469.7h0M182.6 481.1h0M256.8 514.8h0M224.6 464.5h0M229.8 455.8h0M233.8 504.5h0M244.2 504.2h0M246.9 501.5h0M252.7 562.9h0M234.9 533.7h0M225.9 566.8h0M265.1 476.4h0M247.5 482.2h0M263.9 515.6h0M254.8 486.5h0M148.4 470.2h0M170.6 459.4h0M189.9 509.6h0M252.7 488.7h0M176.4 454.5h0M217.3 521.4h0M184.4 511.6h0M255.9 530.0h0M206.6 545.7h0M252.9 504.6h0M143.5 551.2h0M246.9 559.7h0M145.8 512.2h0M244.8 475.6h0M267.1 504.5h0M217.2 537.5h0M172.8 471.1h0M217.8 498.8h0M148.8 459.5h0M270.4 492.2h0M236.1 459.5h0M180.2 525.2h0M220.8 538.7h0M245.5 498.2h0M246.5 465.4h0M247.1 492.1h0M235.4 459.2h0M181.0 553.7h0M172.9 498.2h0M202.2 552.4h0M206.9 520.3h0M270.7 474.5h0M160.7 481.8h0M262.0 503.4h0M199.2 540.0h0M245.4 491.7h0M257.5 558.6h0M184.5 521.1h0M164.8 547.8h0M185.8 484.2h0M181.0 520.6h0M266.1 491.5h0M176.3 556.0h0M220.6 514.1h0M172.5 482.4h0M150.6 461.5h0M229.5 455.7h0M182.6 561.6h0M197.5 493.2h0M239.6 504.4h0M189.7 530.3h0M160.0 565.6h0M179.0 555.8h0M179.2 494.8h0M221.4 531.3h0M192.0 457.9h0M218.3 549.3h0M259.3 544.9h0M200.5 501.3h0M271.4 474.8h0M174.1 464.6h0M182.0 527.9h0M236.1 538.3h0M264.5 517.7h0M249.4 479.2h0M185.7 454.4h0M224.8 486.0h0M205.4 471.5h0M252.1 538.8h0M245.3 480.0h0M250.7 467.2h0M176.1 491.0h0M154.1 459.0h0M219.7 528.9h0M207.9 513.2h0M219.1 490.3h0M263.6 485.3h0M236.9 461.3h0M222.8 504.2h0M190.2 533.8h0M221.0 525.1h0M214.3 498.5h0M210.2 523.7h0M254.2 556.6h0M205.0 531.1h0M203.2 457.6h0M255.3 557.7h0M254.5 545.9h0M186.5 551.7h0M231.7 459.1h0M153.0 562.0h0M248.1 538.9h0M200.5 546.2h0M244.1 494.6h0M244.0 467.9h0M201.2 476.8h0M213.3 515.3h0M252.1 554.9h0M259.3 548.5h0M246.4 495.7h0M261.9 539.3h0M229.9 490.9h0M257.7 479.4h0M228.4 483.4h0M200.1 544.6h0M170.5 556.7h0M176.6 503.4h0M200.9 516.2h0M138.7 490.7h0M167.7 529.3h0M181.3 560.7h0M268.0 520.9h0M148.9 466.0h0M186.1 458.6h0M264.4 479.5h0M267.7 472.6h0M247.1 480.5h0M212.5 520.4h0M164.7 477.8h0M222.6 468.9h0M148.0 462.9h0M169.3 516.5h0M250.4 511.4h0M270.2 513.6h0M262.8 496.8h0M232.3 484.9h0M209.0 469.4h0M199.2 546.6h0M186.8 545.9h0M204.6 551.9h0M174.0 498.7h0M227.5 474.5h0M237.2 553.9h0M190.5 477.1h0M211.5 532.5h0M247.8 479.2h0M183.5 458.1h0M152.3 459.6h0M204.9 493.4h0M152.9 492.3h0M182.3 462.8h0M258.5 486.8h0M247.1 558.1h0M247.5 561.2h0M206.0 505.5h0M234.0 491.0h0M248.2 463.4h0M224.9 506.8h0M232.8 512.9h0M192.5 532.4h0M237.1 462.2h0M171.9 550.1h0M258.8 528.1h0M271.5 502.9h0M245.9 492.8h0M168.7 498.6h0M163.5 555.9h0M252.1 480.8h0M228.1 477.5h0M211.5 530.4h0M254.7 455.3h0M180.7 537.8h0M154.4 504.8h0M197.3 541.6h0M155.7 543.0h0M232.1 538.2h0M183.7 457.6h0M262.6 471.2h0M235.2 518.1h0M254.1 539.1h0M198.6 496.5h0M182.8 516.7h0M229.6 468.1h0M210.8 547.1h0M210.5 560.1h0M154.0 482.7h0M228.1 490.2h0M201.8 503.1h0M170.3 545.4h0M253.2 548.5h0M216.1 496.0h0M244.3 461.5h0M178.0 503.0h0M241.3 545.7h0M171.7 491.3h0M170.2 555.3h0M236.8 479.3h0M233.4 532.8h0M256.6 541.9h0M190.0 553.5h0M237.2 505.0h0M181.5 541.1h0M183.4 504.7h0M159.2 484.4h0M249.7 542.1h0M196.8 501.5h0M249.8 515.0h0M258.6 459.3h0M242.1 550.4h0M213.9 532.3h0M180.9 540.6h0M215.8 541.8h0M212.6 509.7h0M211.7 478.7h0M265.0 518.7h0M210.7 466.2h0M222.1 477.8h0M168.4 485.6h0M194.2 511.9h0M223.8 505.5h0M255.2 565.9h0M159.0 543.5h0M189.7 524.4h0M237.8 481.0h0M238.0 487.7h0M206.4 454.4h0M204.6 478.5h0M160.6 516.0h0M236.7 522.9h0M170.9 488.4h0M260.4 521.4h0M146.6 467.4h0M226.0 498.5h0M267.7 483.1h0M172.8 486.3h0M256.3 519.4h0M205.4 493.2h0M207.5 547.9h0M176.6 490.0h0M255.7 515.8h0M211.9 491.3h0M240.1 474.6h0M222.2 480.0h0M235.5 482.6h0M194.2 528.8h0M149.9 478.4h0M226.1 510.2h0M169.3 526.4h0M230.8 472.0h0M254.0 543.3h0M186.3 495.1h0M176.7 523.6h0M249.9 454.8h0M151.9 461.1h0M230.6 470.7h0M238.8 488.1h0M252.3 542.2h0M249.0 517.4h0M222.1 456.5h0M150.0 468.2h0M257.2 463.3h0M168.2 484.2h0M185.0 473.0h0M187.3 546.8h0M244.3 477.2h0M227.1 473.5h0M182.5 460.1h0M224.4 497.5h0M154.7 488.4h0M206.6 533.4h0M221.2 489.3h0M200.2 482.6h0M235.6 467.3h0M201.8 559.4h0M250.1 463.6h0M216.8 505.1h0M203.8 489.9h0M239.2 561.5h0M215.9 504.5h0M148.0 467.8h0M265.6 519.4h0M173.8 568.6h0M175.8 507.4h0M259.3 510.3h0M234.7 528.8h0M262.0 462.4h0M238.9 463.7h0M165.9 491.0h0M211.7 478.3h0M202.2 472.2h0M159.9 455.8h0M254.9 567.2h0M220.5 563.0h0M162.2 478.4h0M239.2 481.1h0M184.2 536.5h0M192.7 480.3h0M170.8 547.8h0M150.7 470.2h0M239.3 550.3h0M241.2 542.2h0M260.5 541.0h0M243.4 480.9h0M257.7 495.8h0M208.2 541.0h0M160.1 516.0h0M258.2 483.2h0M264.2 487.8h0M239.5 549.6h0M176.8 535.1h0M248.3 499.2h0M167.8 491.7h0M212.7 558.9h0M239.2 552.4h0M157.7 549.2h0M171.9 495.5h0M189.5 545.3h0M245.1 469.3h0M249.8 466.1h0M246.2 562.6h0M155.0 481.0h0M180.7 456.0h0M238.3 491.8h0M217.5 554.4h0M204.1 553.3h0M258.5 463.3h0M183.8 456.6h0M234.8 465.4h0M238.5 547.6h0M240.4 529.3h0M259.6 465.2h0M180.6 527.0h0M212.6 496.8h0M212.5 473.8h0M260.9 488.9h0M266.7 457.3h0M237.9 472.6h0M189.5 497.1h0M203.8 480.2h0M258.4 507.2h0M201.4 531.5h0M264.7 461.2h0M156.3 554.7h0M260.7 558.5h0M231.6 513.7h0M217.4 531.6h0M196.7 496.8h0M240.4 460.0h0M245.8 480.4h0M259.9 454.7h0M194.8 552.3h0M238.5 521.0h0M252.3 498.7h0M261.2 458.7h0M259.3 478.6h0M196.4 487.4h0M185.8 482.5h0M184.6 508.8h0M162.9 489.8h0M248.5 563.2h0M245.0 542.7h0M205.8 454.7h0M240.8 487.9h0M189.3 525.9h0M166.2 481.6h0M202.1 489.2h0M230.4 461.1h0M257.8 518.0h0M195.2 493.4h0M238.8 538.0h0M255.1 532.9h0M248.4 553.5h0M214.1 531.4h0M194.5 532.9h0M234.4 459.1h0M228.7 557.4h0M172.2 506.8h0M187.5 488.1h0M257.4 562.8h0M189.3 552.6h0M202.9 552.1h0M190.2 543.0h0M204.6 453.8h0M187.1 486.9h0M207.2 508.5h0M186.6 523.8h0M239.9 550.4h0M194.6 558.7h0M259.4 481.6h0M265.4 522.8h0M140.1 483.8h0M236.0 554.5h0M230.3 488.1h0M172.1 551.9h0M184.5 555.4h0M210.5 485.4h0M159.9 484.8h0M238.3 478.6h0M152.0 521.4h0M251.1 491.1h0M237.0 527.0h0M232.6 460.6h0M214.7 553.5h0M161.3 476.2h0M212.0 468.0h0M161.3 482.7h0M152.6 520.1h0M156.8 454.8h0M257.7 456.5h0M228.7 557.6h0M176.6 489.2h0M255.8 525.1h0M169.1 557.5h0M265.7 480.2h0M165.2 518.5h0M191.7 546.2h0M258.3 533.3h0M176.2 455.7h0M200.6 485.9h0M234.5 518.1h0M204.6 460.4h0M193.2 496.2h0M218.5 543.5h0M208.7 464.4h0M191.3 478.1h0M237.6 467.3h0M269.7 473.9h0M254.2 549.5h0M170.0 564.6h0M173.2 548.4h0M178.6 524.0h0M189.5 558.6h0M206.4 463.0h0M197.9 463.1h0M268.2 487.2h0M248.6 514.6h0M201.4 459.3h0M168.7 491.3h0M229.2 461.6h0M165.4 489.9h0M219.0 501.1h0M202.5 471.3h0M234.1 559.9h0M198.6 481.8h0M211.7 481.0h0M193.7 529.8h0M236.5 553.6h0M164.9 462.5h0M237.4 498.7h0M258.9 504.1h0M254.4 550.8h0M226.6 508.7h0M242.3 548.4h0M216.8 533.8h0M236.3 506.8h0M253.3 512.0h0M175.5 479.7h0M225.7 489.6h0M200.9 472.3h0M253.3 465.1h0M221.8 528.6h0M232.3 532.4h0M221.2 473.6h0M187.0 547.3h0M220.9 482.4h0M234.1 540.0h0M218.3 518.0h0M178.6 557.6h0M241.1 500.4h0M204.3 476.1h0M264.2 503.5h0M241.7 551.1h0M149.0 477.4h0M188.5 457.8h0M167.9 504.5h0M175.7 493.6h0M210.3 469.7h0M170.9 560.8h0M151.2 492.0h0M183.6 476.6h0M266.5 515.3h0M147.5 477.7h0M254.8 531.3h0M229.3 515.6h0M178.8 468.1h0M211.8 555.8h0M165.0 468.9h0M256.1 521.1h0M162.8 498.3h0M237.7 483.3h0M187.8 518.6h0M206.2 507.2h0M247.3 512.2h0M255.7 559.1h0M146.1 505.0h0M226.5 510.1h0M160.0 514.2h0M172.5 465.3h0M165.4 488.1h0M196.0 550.9h0M182.5 567.9h0M179.4 513.7h0M200.4 509.6h0M201.7 486.6h0M269.0 484.9h0M221.2 492.5h0M197.3 542.8h0M187.6 554.2h0M171.7 511.8h0M245.7 559.8h0M208.6 545.7h0M255.9 511.5h0M262.2 494.5h0M192.9 500.7h0M201.2 547.2h0M159.0 478.7h0M175.7 480.1h0M172.8 511.8h0M168.4 479.3h0M197.6 505.7h0M160.7 501.3h0M153.1 457.1h0M207.7 521.9h0M187.0 455.4h0M211.9 484.6h0M246.9 473.2h0M143.8 482.5h0M187.9 528.8h0M209.3 548.6h0M150.8 457.1h0M228.7 556.2h0M191.8 492.8h0M175.9 541.8h0M149.2 477.8h0M162.4 508.9h0M214.8 544.4h0M258.4 512.8h0M241.2 511.0h0M206.0 510.5h0M201.4 522.5h0M264.9 500.3h0M258.6 495.9h0M257.9 512.2h0M192.7 531.5h0M202.5 463.7h0M224.4 489.7h0M156.9 527.3h0M270.5 525.2h0M234.4 561.0h0M255.0 540.1h0M220.3 534.1h0M188.7 489.1h0M252.6 466.9h0M201.6 546.2h0M193.5 471.3h0M186.8 509.5h0M201.8 554.0h0M164.1 454.7h0M193.6 560.7h0M232.3 487.1h0M270.0 505.1h0M188.0 531.1h0M171.9 481.6h0M188.8 481.7h0M251.1 568.9h0M210.4 554.1h0M219.8 543.6h0M225.6 478.8h0M166.3 529.9h0M193.9 515.5h0M192.3 535.2h0M229.9 461.9h0M164.5 478.8h0M223.5 472.5h0M236.5 542.6h0M188.3 487.6h0M149.7 473.5h0M230.9 487.5h0M171.8 559.3h0M171.2 475.6h0M263.1 496.3h0M246.3 503.6h0M226.8 479.4h0M199.9 554.6h0M252.7 547.3h0M243.3 496.8h0M140.2 476.3h0M187.9 510.6h0M264.3 517.2h0M180.0 510.0h0M187.9 469.8h0M193.2 527.1h0M152.3 474.3h0M241.5 499.9h0M187.9 488.7h0M202.0 521.3h0M236.3 541.3h0M228.2 507.7h0M217.9 553.6h0M248.6 496.4h0M169.3 493.1h0M164.1 469.4h0M234.3 456.2h0M214.6 547.7h0M162.1 458.0h0M198.3 486.2h0M215.5 495.9h0M222.3 502.5h0M210.8 501.0h0M174.9 487.2h0M243.9 457.0h0M172.2 485.8h0M184.7 503.4h0M169.2 502.5h0M198.5 508.3h0M150.8 485.0h0M171.3 537.8h0M138.4 456.3h0M263.2 494.1h0M256.5 521.9h0M260.1 473.9h0M161.2 482.5h0M229.2 481.2h0M260.5 509.9h0M212.2 491.3h0M202.9 546.5h0M187.3 542.2h0M215.8 498.1h0M182.7 524.3h0M204.9 540.6h0M249.9 508.7h0M177.6 462.2h0M227.8 471.0h0M139.0 487.7h0M259.4 541.2h0M165.8 524.8h0M172.0 456.1h0M156.5 466.7h0M191.8 562.3h0M169.5 538.0h0M263.3 494.3h0M243.6 503.6h0M234.8 538.4h0M235.2 472.4h0M255.9 455.3h0M264.6 457.9h0M206.3 462.2h0M154.8 493.5h0M238.9 563.0h0M172.2 478.0h0M228.6 554.0h0M167.6 483.6h0M233.3 495.4h0M254.0 531.1h0M249.5 534.4h0M265.6 509.8h0M253.5 483.0h0M256.5 560.5h0M252.5 527.0h0M253.7 481.0h0M236.1 542.1h0M209.6 482.4h0M147.8 456.4h0M213.9 561.1h0M228.3 562.6h0M187.6 560.2h0M200.8 491.3h0M178.8 519.0h0M200.6 554.4h0M241.9 494.4h0M234.8 523.5h0M237.5 527.8h0M182.2 495.9h0M229.9 481.7h0M184.4 487.5h0M188.5 460.7h0M241.2 544.6h0M226.0 503.8h0M220.6 539.5h0M225.7 498.5h0M161.8 497.1h0M221.6 456.5h0M181.2 521.1h0M206.0 550.9h0M163.7 492.6h0M232.9 529.7h0M206.2 488.5h0M171.7 540.4h0M164.2 466.2h0M223.4 498.7h0M258.7 539.8h0M249.0 479.7h0M238.4 489.6h0M270.2 488.3h0M247.6 535.9h0M245.3 469.8h0M170.3 553.0h0M157.9 469.3h0M245.0 458.1h0M222.6 498.2h0M186.1 534.2h0M214.2 535.6h0M146.0 481.1h0M238.8 531.3h0M243.7 467.8h0M231.6 499.4h0M248.9 505.3h0M248.9 543.0h0M187.0 483.0h0M188.6 555.6h0M202.0 455.9h0M233.7 484.6h0M235.9 471.9h0M150.7 498.6h0M165.4 505.4h0M262.6 511.7h0M240.0 529.3h0M252.1 523.3h0M255.8 484.6h0M185.9 507.4h0M240.1 489.9h0M203.2 556.3h0M186.9 519.9h0M254.1 556.7h0M208.3 458.0h0M241.2 532.0h0M150.4 514.3h0M223.5 564.3h0M214.2 512.4h0M208.7 544.0h0M228.5 460.3h0M171.1 560.4h0M186.5 469.4h0M255.9 559.2h0M163.7 558.8h0M252.7 457.5h0M262.2 460.9h0M254.2 488.5h0M154.8 460.2h0M239.4 503.2h0M212.5 559.1h0M238.0 455.3h0M216.5 503.1h0M253.0 547.7h0M221.9 541.1h0M213.0 552.6h0M234.4 503.1h0M239.8 548.9h0M162.6 459.3h0M206.7 553.3h0M190.7 529.4h0M161.6 490.2h0M159.7 457.6h0M233.9 523.4h0M260.2 459.4h0M233.2 548.5h0M237.7 528.1h0M259.0 504.2h0M182.2 555.1h0M250.9 508.3h0M250.1 473.7h0M205.9 545.6h0M212.0 454.9h0M248.4 504.9h0M173.8 476.5h0M238.3 458.1h0M230.5 522.3h0M240.0 554.2h0M138.5 488.4h0M179.2 566.6h0M203.3 474.6h0M141.1 488.6h0M215.6 536.8h0M187.8 553.4h0M163.0 483.9h0M181.7 534.0h0M160.3 514.4h0M250.6 459.0h0M241.5 456.4h0M196.3 488.9h0M224.8 461.7h0M209.1 462.1h0M234.7 458.5h0M189.7 495.7h0M191.8 527.5h0M183.9 459.7h0M191.2 480.6h0M208.0 464.7h0M242.0 478.3h0M248.2 454.4h0M254.9 537.8h0M246.2 507.9h0M170.6 543.6h0M255.0 466.7h0M244.6 496.0h0M221.9 495.6h0M247.4 496.5h0M260.5 546.2h0M198.0 481.7h0M251.1 535.6h0M260.9 561.2h0M198.3 552.7h0M156.0 546.4h0M155.5 455.6h0M234.8 568.3h0M209.1 501.3h0M224.7 497.7h0M230.9 520.0h0M256.5 487.8h0M226.2 467.3h0M165.7 491.9h0M205.2 501.5h0M219.5 494.4h0M176.4 474.1h0M255.1 552.2h0M245.9 477.3h0M182.3 514.7h0M176.1 508.5h0M242.5 491.9h0M175.6 524.2h0M171.0 565.2h0M269.0 479.5h0M156.4 456.1h0M222.8 476.8h0M256.2 511.1h0M233.5 522.7h0M198.8 524.9h0M190.3 472.6h0M259.5 463.0h0M179.5 499.6h0M236.9 500.9h0M265.2 476.8h0M243.1 475.8h0M214.8 498.7h0M173.7 531.3h0M259.1 498.6h0M266.7 494.2h0M242.1 524.4h0M214.2 493.5h0M144.5 480.3h0M251.3 562.3h0M214.3 527.9h0M263.6 506.1h0M223.9 525.9h0M222.8 537.8h0M172.5 503.6h0M243.6 500.6h0M221.5 532.2h0M158.2 511.1h0M200.6 559.3h0M168.9 486.3h0M208.6 546.5h0M217.6 552.0h0M191.6 487.9h0M207.2 530.0h0M172.8 483.9h0M254.4 461.6h0M184.1 461.8h0M256.3 524.7h0M191.0 480.4h0M207.4 525.7h0M217.2 543.6h0M260.2 530.0h0M235.0 499.7h0M268.4 495.9h0M150.0 459.7h0M231.0 507.2h0M156.3 462.1h0M205.7 498.6h0M254.5 511.9h0M186.6 529.3h0M224.3 558.3h0M153.9 455.5h0M237.1 504.0h0M265.6 481.3h0M210.9 500.6h0M244.5 504.4h0M189.0 510.2h0M247.2 481.9h0M259.2 469.1h0M232.6 523.2h0M143.0 458.7h0M264.1 473.6h0M251.1 550.5h0M207.1 508.9h0M252.6 563.2h0M184.4 465.0h0M204.0 461.2h0M212.5 480.0h0M266.3 474.6h0M141.5 457.0h0M241.8 541.6h0M202.1 489.6h0M256.6 544.5h0" stroke="#1d18b0" stroke-width="3.4" stroke-linecap="round" fill="none" opacity="0.5"/></g>
<g filter="url(#soft)"><path d="M271.6 475.1h0M184.4 556.5h0M180.9 523.2h0M256.0 521.9h0M251.7 521.1h0M266.6 519.2h0M242.6 564.1h0M248.5 530.9h0M209.3 457.5h0M207.4 501.1h0M179.3 497.0h0M217.8 516.5h0M208.8 464.0h0M195.9 500.3h0M206.7 500.1h0M182.1 495.1h0M209.8 545.7h0M230.9 459.8h0M261.3 507.0h0M208.2 521.3h0M185.5 544.4h0M223.0 493.1h0M267.4 494.5h0M166.0 493.5h0M249.7 458.2h0M189.4 540.5h0M171.5 480.5h0M227.2 472.0h0M240.6 454.3h0M251.3 480.7h0M184.0 553.6h0M189.0 527.7h0M257.5 517.5h0M206.8 475.6h0M250.3 512.7h0M268.3 475.8h0M240.0 498.5h0M159.9 459.6h0M212.8 553.7h0M240.8 456.3h0M147.2 474.4h0M259.7 501.4h0M182.7 565.9h0M258.6 546.3h0M182.7 474.1h0M185.6 547.7h0M167.3 468.6h0M156.8 459.5h0M153.4 509.3h0M147.5 493.0h0M227.8 495.5h0M149.3 471.7h0M167.3 508.4h0M178.8 481.4h0M183.3 499.8h0M192.5 559.8h0M173.3 554.1h0M209.1 532.6h0M244.8 496.8h0M236.6 459.1h0M242.0 468.4h0M169.4 468.8h0M173.1 454.8h0M159.7 465.4h0M161.8 463.5h0M197.6 505.9h0M168.8 474.6h0M154.7 461.9h0M261.6 526.1h0M236.1 480.5h0M157.9 558.4h0M259.1 533.5h0M189.7 462.3h0M190.2 487.2h0M161.0 486.4h0M247.3 490.2h0M160.4 456.0h0M239.4 545.5h0M258.2 486.2h0M208.4 555.9h0M158.3 489.7h0M154.0 494.2h0M226.1 481.8h0M195.7 542.3h0M154.7 487.8h0M147.6 489.0h0M164.9 478.2h0M153.2 502.1h0M234.2 532.9h0M206.9 481.5h0M159.5 460.2h0M212.5 512.0h0M217.9 531.9h0M245.2 497.4h0M249.6 465.1h0M254.8 498.9h0M150.9 487.9h0M253.3 491.4h0M154.5 485.3h0M174.4 462.2h0M244.3 501.5h0M237.6 510.7h0M188.3 548.2h0M242.3 463.9h0M204.2 532.9h0M211.1 532.8h0M217.9 522.4h0M240.3 496.9h0M187.3 455.9h0M229.6 486.1h0M162.5 478.1h0M236.2 565.9h0M148.5 512.9h0M253.6 492.2h0M253.8 567.5h0M162.9 505.7h0M185.6 479.9h0M174.6 489.7h0M261.6 530.7h0M243.1 505.3h0M208.1 522.7h0M150.6 456.3h0M194.3 567.8h0M197.0 518.7h0M188.7 500.0h0M243.2 511.4h0M182.5 527.5h0M241.8 534.9h0M220.6 503.4h0M168.1 510.4h0M197.9 526.8h0M202.7 467.4h0M251.7 509.6h0M220.1 501.5h0M196.4 500.5h0M249.5 550.7h0M177.0 513.3h0M202.1 558.5h0M188.7 528.3h0M150.3 484.0h0M202.3 522.0h0M205.8 554.2h0M205.5 540.7h0M222.6 528.4h0M234.0 498.6h0M259.9 557.0h0M165.7 560.9h0M188.1 495.8h0M222.2 482.1h0M250.8 540.0h0M138.4 465.3h0M147.3 481.9h0M159.1 552.4h0M238.6 548.1h0M228.9 511.5h0M256.4 558.2h0M231.5 487.5h0M233.4 459.2h0M159.3 468.8h0M202.8 531.7h0M236.1 479.2h0M181.5 546.9h0M145.6 477.0h0M245.9 534.1h0M232.8 505.7h0M234.9 543.4h0M182.0 528.8h0M171.3 538.1h0M182.2 525.2h0M209.7 549.8h0M212.6 468.5h0M232.3 454.9h0M205.9 510.7h0M245.1 497.1h0M141.1 487.9h0M231.9 518.7h0M148.5 493.2h0M193.9 489.1h0M190.0 505.7h0M176.2 470.9h0M200.1 522.6h0M186.9 559.0h0M226.0 480.6h0M243.3 481.0h0M227.5 551.7h0M242.4 490.1h0M255.6 457.3h0M224.1 470.6h0M189.4 468.1h0M247.5 505.2h0M239.2 553.7h0M227.9 473.5h0M226.2 556.7h0M219.7 520.7h0M255.8 482.1h0M197.1 494.7h0M254.5 514.1h0M210.6 469.5h0M156.2 468.3h0M200.1 500.0h0M260.5 496.0h0M256.5 522.1h0M190.8 519.2h0M178.9 568.6h0M257.8 470.2h0M222.8 474.1h0M233.6 502.2h0M254.7 502.9h0M229.7 503.3h0M224.4 457.0h0M170.5 509.9h0M253.9 534.0h0M158.1 535.8h0M220.2 498.5h0M202.1 495.2h0M138.4 485.6h0M262.3 556.0h0M180.7 534.3h0M216.8 523.2h0M231.2 546.3h0M262.5 509.2h0M200.0 459.0h0M139.2 459.6h0M228.6 461.6h0M169.4 524.7h0M258.1 455.5h0M162.0 473.7h0M147.7 486.0h0M250.2 553.8h0M250.6 548.9h0M209.3 463.8h0M265.0 540.1h0M182.1 560.8h0M234.7 483.4h0M188.3 530.1h0M189.9 486.6h0M156.8 465.2h0M196.0 529.7h0M198.8 506.9h0M180.5 532.4h0M195.7 568.1h0M164.2 477.2h0M265.4 477.9h0M267.7 487.2h0M166.9 458.1h0M160.0 473.9h0M158.3 528.9h0M168.8 517.6h0M235.7 454.4h0M210.8 557.3h0M203.7 498.0h0M241.3 457.8h0M251.4 495.0h0M252.7 468.0h0M226.9 472.8h0M172.1 485.5h0M247.1 506.6h0M247.5 497.7h0M248.2 463.6h0M179.9 470.0h0M182.6 559.9h0M249.3 540.7h0M187.5 517.7h0M234.7 506.8h0M256.6 455.5h0M167.6 538.8h0M257.9 556.8h0M254.2 500.3h0M251.0 455.2h0M158.1 454.1h0M207.5 544.7h0M262.2 518.4h0M259.1 548.5h0M228.2 566.2h0M202.2 563.0h0M194.0 463.4h0M200.1 562.4h0M267.8 472.3h0M181.2 513.5h0M259.7 538.9h0M212.6 551.0h0M200.8 477.4h0M221.0 474.7h0M198.6 493.6h0M246.4 509.9h0M208.7 480.2h0M200.6 550.0h0M237.5 497.1h0M248.2 554.3h0M267.0 473.7h0M158.8 487.0h0M215.9 520.7h0M229.1 461.1h0M225.0 485.8h0M246.7 516.6h0M237.4 548.3h0M221.6 545.3h0M165.5 497.4h0M251.7 483.0h0M179.4 514.9h0M152.6 457.6h0M225.2 475.5h0M179.7 520.0h0M226.7 460.9h0M248.6 546.9h0M209.4 552.5h0M169.3 500.1h0M178.7 543.0h0M230.3 487.6h0M244.6 475.1h0M184.8 482.2h0M255.3 537.6h0M235.2 547.5h0M268.3 478.9h0M163.6 493.3h0M168.8 532.4h0M200.9 460.4h0M238.3 513.5h0M216.6 542.6h0M155.6 489.5h0M145.4 474.5h0M203.9 566.3h0M236.4 521.0h0M266.1 495.6h0M212.2 556.0h0M256.8 521.0h0M198.2 494.5h0M155.3 463.2h0M252.5 498.3h0M173.4 519.1h0M163.7 469.0h0M206.3 511.5h0M248.9 487.6h0M193.5 520.7h0M190.2 500.4h0M196.8 499.5h0M176.3 531.3h0M193.3 527.9h0M236.8 511.0h0M229.5 503.5h0M213.7 533.7h0M217.1 477.2h0M143.4 470.9h0M191.5 559.0h0M145.1 458.4h0M270.2 516.0h0M206.5 511.3h0M232.3 510.1h0M221.3 501.9h0M153.1 457.6h0M198.6 542.7h0M242.8 483.3h0M138.5 493.8h0M161.2 486.8h0M205.6 494.0h0M211.5 558.1h0M189.6 524.8h0M211.7 476.1h0M186.1 472.5h0M161.1 478.1h0M150.5 463.4h0M237.5 540.9h0M251.9 513.6h0M251.6 557.1h0M259.3 534.6h0M258.6 459.0h0M182.6 511.3h0M204.4 461.7h0M253.2 531.6h0M184.9 510.0h0M170.1 479.6h0M187.7 549.1h0M190.5 549.0h0M149.6 490.4h0M266.7 556.9h0M200.6 483.3h0M211.7 486.0h0M227.5 509.7h0M167.7 520.8h0M197.1 556.2h0M249.4 506.2h0M155.3 511.2h0M238.8 463.1h0M155.2 466.4h0M254.0 491.4h0M162.1 502.9h0M170.2 465.3h0M264.8 474.6h0M189.5 561.9h0M198.1 553.5h0M193.2 499.5h0M202.4 530.1h0M261.4 558.5h0M236.0 502.6h0M218.9 532.3h0M254.5 461.3h0M271.2 488.9h0M248.2 559.2h0M238.8 558.6h0M234.4 521.4h0M261.8 467.4h0M169.0 474.0h0M253.3 523.9h0M205.7 554.4h0M185.3 559.9h0M194.2 496.9h0M202.0 489.5h0M197.5 490.4h0M195.8 465.2h0M271.7 487.9h0M194.2 556.6h0M234.3 505.0h0M170.7 490.3h0M252.0 516.5h0M223.4 499.4h0M257.6 461.8h0M209.1 495.6h0M232.0 455.6h0M184.4 528.6h0M205.6 541.0h0M173.2 498.1h0M145.6 499.6h0M240.2 527.5h0M151.6 519.2h0M225.5 496.4h0M242.2 558.6h0M231.1 511.4h0M178.7 508.2h0M230.4 487.1h0M263.3 520.4h0M160.0 466.7h0M185.6 556.2h0M210.7 524.5h0M173.5 498.7h0M203.0 532.5h0M234.5 521.6h0M158.7 487.2h0M145.4 484.5h0M171.9 519.2h0M263.7 488.1h0M201.7 469.3h0M207.8 552.4h0M256.3 524.6h0M194.7 541.9h0M235.4 478.4h0M179.8 522.2h0M176.9 550.2h0M152.3 474.3h0M138.7 478.9h0M267.1 480.3h0M259.4 552.3h0M227.3 469.7h0M182.6 481.1h0M256.8 514.8h0M224.6 464.5h0M229.8 455.8h0M233.8 504.5h0M244.2 504.2h0M246.9 501.5h0M252.7 562.9h0M234.9 533.7h0M225.9 566.8h0M265.1 476.4h0M247.5 482.2h0M263.9 515.6h0M254.8 486.5h0M148.4 470.2h0M170.6 459.4h0M189.9 509.6h0M252.7 488.7h0M176.4 454.5h0M217.3 521.4h0M184.4 511.6h0M255.9 530.0h0M206.6 545.7h0M252.9 504.6h0M143.5 551.2h0M246.9 559.7h0M145.8 512.2h0M244.8 475.6h0M267.1 504.5h0M217.2 537.5h0M172.8 471.1h0M217.8 498.8h0M148.8 459.5h0M270.4 492.2h0M236.1 459.5h0M180.2 525.2h0M220.8 538.7h0M245.5 498.2h0M246.5 465.4h0M247.1 492.1h0M235.4 459.2h0M181.0 553.7h0M172.9 498.2h0M202.2 552.4h0M206.9 520.3h0M270.7 474.5h0M160.7 481.8h0M262.0 503.4h0M199.2 540.0h0M245.4 491.7h0M257.5 558.6h0M184.5 521.1h0M164.8 547.8h0M185.8 484.2h0M181.0 520.6h0M266.1 491.5h0M176.3 556.0h0M220.6 514.1h0M172.5 482.4h0M150.6 461.5h0M229.5 455.7h0M182.6 561.6h0M197.5 493.2h0M239.6 504.4h0M189.7 530.3h0M160.0 565.6h0M179.0 555.8h0M179.2 494.8h0M221.4 531.3h0M192.0 457.9h0M218.3 549.3h0M259.3 544.9h0M200.5 501.3h0M271.4 474.8h0M174.1 464.6h0M182.0 527.9h0M236.1 538.3h0M264.5 517.7h0M249.4 479.2h0M185.7 454.4h0M224.8 486.0h0M205.4 471.5h0M252.1 538.8h0M245.3 480.0h0M250.7 467.2h0M176.1 491.0h0M154.1 459.0h0M219.7 528.9h0M207.9 513.2h0M219.1 490.3h0M263.6 485.3h0M236.9 461.3h0M222.8 504.2h0M190.2 533.8h0M221.0 525.1h0M214.3 498.5h0M210.2 523.7h0M254.2 556.6h0M205.0 531.1h0M203.2 457.6h0M255.3 557.7h0M254.5 545.9h0M186.5 551.7h0M231.7 459.1h0M153.0 562.0h0M248.1 538.9h0M200.5 546.2h0M244.1 494.6h0M244.0 467.9h0M201.2 476.8h0M213.3 515.3h0M252.1 554.9h0M259.3 548.5h0M246.4 495.7h0M261.9 539.3h0M229.9 490.9h0M257.7 479.4h0M228.4 483.4h0M200.1 544.6h0M170.5 556.7h0M176.6 503.4h0M200.9 516.2h0M138.7 490.7h0M167.7 529.3h0M181.3 560.7h0M268.0 520.9h0M148.9 466.0h0M186.1 458.6h0M264.4 479.5h0M267.7 472.6h0M247.1 480.5h0M212.5 520.4h0M164.7 477.8h0M222.6 468.9h0M148.0 462.9h0M169.3 516.5h0M250.4 511.4h0M270.2 513.6h0M262.8 496.8h0M232.3 484.9h0M209.0 469.4h0M199.2 546.6h0M186.8 545.9h0M204.6 551.9h0M174.0 498.7h0M227.5 474.5h0M237.2 553.9h0M190.5 477.1h0M211.5 532.5h0M247.8 479.2h0M183.5 458.1h0M152.3 459.6h0M204.9 493.4h0M152.9 492.3h0M182.3 462.8h0M258.5 486.8h0M247.1 558.1h0M247.5 561.2h0M206.0 505.5h0M234.0 491.0h0M248.2 463.4h0M224.9 506.8h0M232.8 512.9h0M192.5 532.4h0M237.1 462.2h0M171.9 550.1h0M258.8 528.1h0M271.5 502.9h0M245.9 492.8h0M168.7 498.6h0M163.5 555.9h0M252.1 480.8h0M228.1 477.5h0M211.5 530.4h0M254.7 455.3h0M180.7 537.8h0M154.4 504.8h0M197.3 541.6h0M155.7 543.0h0M232.1 538.2h0M183.7 457.6h0M262.6 471.2h0M235.2 518.1h0M254.1 539.1h0M198.6 496.5h0M182.8 516.7h0M229.6 468.1h0M210.8 547.1h0M210.5 560.1h0M154.0 482.7h0M228.1 490.2h0M201.8 503.1h0M170.3 545.4h0M253.2 548.5h0M216.1 496.0h0M244.3 461.5h0M178.0 503.0h0M241.3 545.7h0M171.7 491.3h0M170.2 555.3h0M236.8 479.3h0M233.4 532.8h0M256.6 541.9h0M190.0 553.5h0M237.2 505.0h0M181.5 541.1h0M183.4 504.7h0M159.2 484.4h0M249.7 542.1h0M196.8 501.5h0M249.8 515.0h0M258.6 459.3h0M242.1 550.4h0M213.9 532.3h0M180.9 540.6h0M215.8 541.8h0M212.6 509.7h0M211.7 478.7h0M265.0 518.7h0M210.7 466.2h0M222.1 477.8h0M168.4 485.6h0M194.2 511.9h0M223.8 505.5h0M255.2 565.9h0M159.0 543.5h0M189.7 524.4h0M237.8 481.0h0M238.0 487.7h0M206.4 454.4h0M204.6 478.5h0M160.6 516.0h0M236.7 522.9h0M170.9 488.4h0M260.4 521.4h0M146.6 467.4h0M226.0 498.5h0M267.7 483.1h0M172.8 486.3h0M256.3 519.4h0M205.4 493.2h0M207.5 547.9h0M176.6 490.0h0M255.7 515.8h0M211.9 491.3h0M240.1 474.6h0M222.2 480.0h0M235.5 482.6h0M194.2 528.8h0M149.9 478.4h0M226.1 510.2h0M169.3 526.4h0M230.8 472.0h0M254.0 543.3h0M186.3 495.1h0M176.7 523.6h0M249.9 454.8h0M151.9 461.1h0M230.6 470.7h0M238.8 488.1h0M252.3 542.2h0M249.0 517.4h0M222.1 456.5h0M150.0 468.2h0M257.2 463.3h0M168.2 484.2h0M185.0 473.0h0M187.3 546.8h0M244.3 477.2h0M227.1 473.5h0M182.5 460.1h0M224.4 497.5h0M154.7 488.4h0M206.6 533.4h0M221.2 489.3h0M200.2 482.6h0M235.6 467.3h0M201.8 559.4h0M250.1 463.6h0M216.8 505.1h0M203.8 489.9h0M239.2 561.5h0M215.9 504.5h0M148.0 467.8h0M265.6 519.4h0M173.8 568.6h0M175.8 507.4h0M259.3 510.3h0M234.7 528.8h0M262.0 462.4h0M238.9 463.7h0M165.9 491.0h0M211.7 478.3h0M202.2 472.2h0M159.9 455.8h0M254.9 567.2h0M220.5 563.0h0M162.2 478.4h0M239.2 481.1h0M184.2 536.5h0M192.7 480.3h0M170.8 547.8h0M150.7 470.2h0M239.3 550.3h0M241.2 542.2h0M260.5 541.0h0M243.4 480.9h0M257.7 495.8h0M208.2 541.0h0M160.1 516.0h0M258.2 483.2h0M264.2 487.8h0M239.5 549.6h0M176.8 535.1h0M248.3 499.2h0M167.8 491.7h0M212.7 558.9h0M239.2 552.4h0M157.7 549.2h0M171.9 495.5h0M189.5 545.3h0M245.1 469.3h0M249.8 466.1h0M246.2 562.6h0M155.0 481.0h0M180.7 456.0h0M238.3 491.8h0M217.5 554.4h0M204.1 553.3h0M258.5 463.3h0M183.8 456.6h0M234.8 465.4h0M238.5 547.6h0M240.4 529.3h0M259.6 465.2h0M180.6 527.0h0M212.6 496.8h0M212.5 473.8h0M260.9 488.9h0M266.7 457.3h0M237.9 472.6h0M189.5 497.1h0M203.8 480.2h0M258.4 507.2h0M201.4 531.5h0M264.7 461.2h0M156.3 554.7h0M260.7 558.5h0M231.6 513.7h0M217.4 531.6h0M196.7 496.8h0M240.4 460.0h0M245.8 480.4h0M259.9 454.7h0M194.8 552.3h0M238.5 521.0h0M252.3 498.7h0M261.2 458.7h0M259.3 478.6h0M196.4 487.4h0M185.8 482.5h0M184.6 508.8h0M162.9 489.8h0M248.5 563.2h0M245.0 542.7h0M205.8 454.7h0M240.8 487.9h0M189.3 525.9h0M166.2 481.6h0M202.1 489.2h0M230.4 461.1h0M257.8 518.0h0M195.2 493.4h0M238.8 538.0h0M255.1 532.9h0M248.4 553.5h0M214.1 531.4h0M194.5 532.9h0M234.4 459.1h0M228.7 557.4h0M172.2 506.8h0M187.5 488.1h0M257.4 562.8h0M189.3 552.6h0M202.9 552.1h0M190.2 543.0h0M204.6 453.8h0M187.1 486.9h0M207.2 508.5h0M186.6 523.8h0M239.9 550.4h0M194.6 558.7h0M259.4 481.6h0M265.4 522.8h0M140.1 483.8h0M236.0 554.5h0M230.3 488.1h0M172.1 551.9h0M184.5 555.4h0M210.5 485.4h0M159.9 484.8h0M238.3 478.6h0M152.0 521.4h0M251.1 491.1h0M237.0 527.0h0M232.6 460.6h0M214.7 553.5h0M161.3 476.2h0M212.0 468.0h0M161.3 482.7h0M152.6 520.1h0M156.8 454.8h0M257.7 456.5h0M228.7 557.6h0M176.6 489.2h0M255.8 525.1h0M169.1 557.5h0M265.7 480.2h0M165.2 518.5h0M191.7 546.2h0M258.3 533.3h0M176.2 455.7h0M200.6 485.9h0M234.5 518.1h0M204.6 460.4h0M193.2 496.2h0M218.5 543.5h0M208.7 464.4h0M191.3 478.1h0M237.6 467.3h0M269.7 473.9h0M254.2 549.5h0M170.0 564.6h0M173.2 548.4h0M178.6 524.0h0M189.5 558.6h0M206.4 463.0h0M197.9 463.1h0M268.2 487.2h0M248.6 514.6h0M201.4 459.3h0M168.7 491.3h0M229.2 461.6h0M165.4 489.9h0M219.0 501.1h0M202.5 471.3h0M234.1 559.9h0M198.6 481.8h0M211.7 481.0h0M193.7 529.8h0M236.5 553.6h0M164.9 462.5h0M237.4 498.7h0M258.9 504.1h0M254.4 550.8h0M226.6 508.7h0M242.3 548.4h0M216.8 533.8h0M236.3 506.8h0M253.3 512.0h0M175.5 479.7h0M225.7 489.6h0M200.9 472.3h0M253.3 465.1h0M221.8 528.6h0M232.3 532.4h0M221.2 473.6h0M187.0 547.3h0M220.9 482.4h0M234.1 540.0h0M218.3 518.0h0M178.6 557.6h0M241.1 500.4h0M204.3 476.1h0M264.2 503.5h0M241.7 551.1h0M149.0 477.4h0M188.5 457.8h0M167.9 504.5h0M175.7 493.6h0M210.3 469.7h0M170.9 560.8h0M151.2 492.0h0M183.6 476.6h0M266.5 515.3h0M147.5 477.7h0M254.8 531.3h0M229.3 515.6h0M178.8 468.1h0M211.8 555.8h0M165.0 468.9h0M256.1 521.1h0M162.8 498.3h0M237.7 483.3h0M187.8 518.6h0M206.2 507.2h0M247.3 512.2h0M255.7 559.1h0M146.1 505.0h0M226.5 510.1h0M160.0 514.2h0M172.5 465.3h0M165.4 488.1h0M196.0 550.9h0M182.5 567.9h0M179.4 513.7h0M200.4 509.6h0M201.7 486.6h0M269.0 484.9h0M221.2 492.5h0M197.3 542.8h0M187.6 554.2h0M171.7 511.8h0M245.7 559.8h0M208.6 545.7h0M255.9 511.5h0M262.2 494.5h0M192.9 500.7h0M201.2 547.2h0M159.0 478.7h0M175.7 480.1h0M172.8 511.8h0M168.4 479.3h0M197.6 505.7h0M160.7 501.3h0M153.1 457.1h0M207.7 521.9h0M187.0 455.4h0M211.9 484.6h0M246.9 473.2h0M143.8 482.5h0M187.9 528.8h0M209.3 548.6h0M150.8 457.1h0M228.7 556.2h0M191.8 492.8h0M175.9 541.8h0M149.2 477.8h0M162.4 508.9h0M214.8 544.4h0M258.4 512.8h0M241.2 511.0h0M206.0 510.5h0M201.4 522.5h0M264.9 500.3h0M258.6 495.9h0M257.9 512.2h0M192.7 531.5h0M202.5 463.7h0M224.4 489.7h0M156.9 527.3h0M270.5 525.2h0M234.4 561.0h0M255.0 540.1h0M220.3 534.1h0M188.7 489.1h0M252.6 466.9h0M201.6 546.2h0M193.5 471.3h0M186.8 509.5h0M201.8 554.0h0M164.1 454.7h0M193.6 560.7h0M232.3 487.1h0M270.0 505.1h0M188.0 531.1h0M171.9 481.6h0M188.8 481.7h0M251.1 568.9h0M210.4 554.1h0M219.8 543.6h0M225.6 478.8h0M166.3 529.9h0M193.9 515.5h0M192.3 535.2h0M229.9 461.9h0M164.5 478.8h0M223.5 472.5h0M236.5 542.6h0M188.3 487.6h0M149.7 473.5h0M230.9 487.5h0M171.8 559.3h0M171.2 475.6h0M263.1 496.3h0M246.3 503.6h0M226.8 479.4h0M199.9 554.6h0M252.7 547.3h0M243.3 496.8h0M140.2 476.3h0M187.9 510.6h0M264.3 517.2h0M180.0 510.0h0M187.9 469.8h0M193.2 527.1h0M152.3 474.3h0M241.5 499.9h0M187.9 488.7h0M202.0 521.3h0M236.3 541.3h0M228.2 507.7h0M217.9 553.6h0M248.6 496.4h0M169.3 493.1h0M164.1 469.4h0M234.3 456.2h0M214.6 547.7h0M162.1 458.0h0M198.3 486.2h0M215.5 495.9h0M222.3 502.5h0M210.8 501.0h0M174.9 487.2h0M243.9 457.0h0M172.2 485.8h0M184.7 503.4h0M169.2 502.5h0M198.5 508.3h0M150.8 485.0h0M171.3 537.8h0M138.4 456.3h0M263.2 494.1h0M256.5 521.9h0M260.1 473.9h0M161.2 482.5h0M229.2 481.2h0M260.5 509.9h0M212.2 491.3h0M202.9 546.5h0M187.3 542.2h0M215.8 498.1h0M182.7 524.3h0M204.9 540.6h0M249.9 508.7h0M177.6 462.2h0M227.8 471.0h0M139.0 487.7h0M259.4 541.2h0M165.8 524.8h0M172.0 456.1h0M156.5 466.7h0M191.8 562.3h0M169.5 538.0h0M263.3 494.3h0M243.6 503.6h0M234.8 538.4h0M235.2 472.4h0M255.9 455.3h0M264.6 457.9h0M206.3 462.2h0M154.8 493.5h0M238.9 563.0h0M172.2 478.0h0M228.6 554.0h0M167.6 483.6h0M233.3 495.4h0M254.0 531.1h0M249.5 534.4h0M265.6 509.8h0M253.5 483.0h0M256.5 560.5h0M252.5 527.0h0M253.7 481.0h0M236.1 542.1h0M209.6 482.4h0M147.8 456.4h0M213.9 561.1h0M228.3 562.6h0M187.6 560.2h0M200.8 491.3h0M178.8 519.0h0M200.6 554.4h0M241.9 494.4h0M234.8 523.5h0M237.5 527.8h0M182.2 495.9h0M229.9 481.7h0M184.4 487.5h0M188.5 460.7h0M241.2 544.6h0M226.0 503.8h0M220.6 539.5h0M225.7 498.5h0M161.8 497.1h0M221.6 456.5h0M181.2 521.1h0M206.0 550.9h0M163.7 492.6h0M232.9 529.7h0M206.2 488.5h0M171.7 540.4h0M164.2 466.2h0M223.4 498.7h0M258.7 539.8h0M249.0 479.7h0M238.4 489.6h0M270.2 488.3h0M247.6 535.9h0M245.3 469.8h0M170.3 553.0h0M157.9 469.3h0M245.0 458.1h0M222.6 498.2h0M186.1 534.2h0M214.2 535.6h0M146.0 481.1h0M238.8 531.3h0M243.7 467.8h0M231.6 499.4h0M248.9 505.3h0M248.9 543.0h0M187.0 483.0h0M188.6 555.6h0M202.0 455.9h0M233.7 484.6h0M235.9 471.9h0M150.7 498.6h0M165.4 505.4h0M262.6 511.7h0M240.0 529.3h0M252.1 523.3h0M255.8 484.6h0M185.9 507.4h0M240.1 489.9h0M203.2 556.3h0M186.9 519.9h0M254.1 556.7h0M208.3 458.0h0M241.2 532.0h0M150.4 514.3h0M223.5 564.3h0M214.2 512.4h0M208.7 544.0h0M228.5 460.3h0M171.1 560.4h0M186.5 469.4h0M255.9 559.2h0M163.7 558.8h0M252.7 457.5h0M262.2 460.9h0M254.2 488.5h0M154.8 460.2h0M239.4 503.2h0M212.5 559.1h0M238.0 455.3h0M216.5 503.1h0M253.0 547.7h0M221.9 541.1h0M213.0 552.6h0M234.4 503.1h0M239.8 548.9h0M162.6 459.3h0M206.7 553.3h0M190.7 529.4h0M161.6 490.2h0M159.7 457.6h0M233.9 523.4h0M260.2 459.4h0M233.2 548.5h0M237.7 528.1h0M259.0 504.2h0M182.2 555.1h0M250.9 508.3h0M250.1 473.7h0M205.9 545.6h0M212.0 454.9h0M248.4 504.9h0M173.8 476.5h0M238.3 458.1h0M230.5 522.3h0M240.0 554.2h0M138.5 488.4h0M179.2 566.6h0M203.3 474.6h0M141.1 488.6h0M215.6 536.8h0M187.8 553.4h0M163.0 483.9h0M181.7 534.0h0M160.3 514.4h0M250.6 459.0h0M241.5 456.4h0M196.3 488.9h0M224.8 461.7h0M209.1 462.1h0M234.7 458.5h0M189.7 495.7h0M191.8 527.5h0M183.9 459.7h0M191.2 480.6h0M208.0 464.7h0M242.0 478.3h0M248.2 454.4h0M254.9 537.8h0M246.2 507.9h0M170.6 543.6h0M255.0 466.7h0M244.6 496.0h0M221.9 495.6h0M247.4 496.5h0M260.5 546.2h0M198.0 481.7h0M251.1 535.6h0M260.9 561.2h0M198.3 552.7h0M156.0 546.4h0M155.5 455.6h0M234.8 568.3h0M209.1 501.3h0M224.7 497.7h0M230.9 520.0h0M256.5 487.8h0M226.2 467.3h0M165.7 491.9h0M205.2 501.5h0M219.5 494.4h0M176.4 474.1h0M255.1 552.2h0M245.9 477.3h0M182.3 514.7h0M176.1 508.5h0M242.5 491.9h0M175.6 524.2h0M171.0 565.2h0M269.0 479.5h0M156.4 456.1h0M222.8 476.8h0M256.2 511.1h0M233.5 522.7h0M198.8 524.9h0M190.3 472.6h0M259.5 463.0h0M179.5 499.6h0M236.9 500.9h0M265.2 476.8h0M243.1 475.8h0M214.8 498.7h0M173.7 531.3h0M259.1 498.6h0M266.7 494.2h0M242.1 524.4h0M214.2 493.5h0M144.5 480.3h0M251.3 562.3h0M214.3 527.9h0M263.6 506.1h0M223.9 525.9h0M222.8 537.8h0M172.5 503.6h0M243.6 500.6h0M221.5 532.2h0M158.2 511.1h0M200.6 559.3h0M168.9 486.3h0M208.6 546.5h0M217.6 552.0h0M191.6 487.9h0M207.2 530.0h0M172.8 483.9h0M254.4 461.6h0M184.1 461.8h0M256.3 524.7h0M191.0 480.4h0M207.4 525.7h0M217.2 543.6h0M260.2 530.0h0M235.0 499.7h0M268.4 495.9h0M150.0 459.7h0M231.0 507.2h0M156.3 462.1h0M205.7 498.6h0M254.5 511.9h0M186.6 529.3h0M224.3 558.3h0M153.9 455.5h0M237.1 504.0h0M265.6 481.3h0M210.9 500.6h0M244.5 504.4h0M189.0 510.2h0M247.2 481.9h0M259.2 469.1h0M232.6 523.2h0M143.0 458.7h0M264.1 473.6h0M251.1 550.5h0M207.1 508.9h0M252.6 563.2h0M184.4 465.0h0M204.0 461.2h0M212.5 480.0h0M266.3 474.6h0M141.5 457.0h0M241.8 541.6h0M202.1 489.6h0M256.6 544.5h0" stroke="#3030c0" stroke-width="2.1" stroke-linecap="round" fill="none" opacity="1.0"/><path d="M256.0 521.9h0M242.6 564.1h0M248.5 530.9h0M179.3 497.0h0M208.8 464.0h0M182.1 495.1h0M209.8 545.7h0M261.3 507.0h0M267.4 494.5h0M189.4 540.5h0M171.5 480.5h0M251.3 480.7h0M184.0 553.6h0M206.8 475.6h0M240.0 498.5h0M159.9 459.6h0M258.6 546.3h0M182.7 474.1h0M167.3 468.6h0M227.8 495.5h0M183.3 499.8h0M173.3 554.1h0M236.6 459.1h0M159.7 465.4h0M161.8 463.5h0M168.8 474.6h0M261.6 526.1h0M236.1 480.5h0M259.1 533.5h0M161.0 486.4h0M247.3 490.2h0M160.4 456.0h0M239.4 545.5h0M208.4 555.9h0M154.0 494.2h0M226.1 481.8h0M195.7 542.3h0M164.9 478.2h0M153.2 502.1h0M234.2 532.9h0M206.9 481.5h0M159.5 460.2h0M212.5 512.0h0M245.2 497.4h0M249.6 465.1h0M253.3 491.4h0M242.3 463.9h0M217.9 522.4h0M148.5 512.9h0M253.8 567.5h0M185.6 479.9h0M174.6 489.7h0M261.6 530.7h0M243.1 505.3h0M208.1 522.7h0M197.0 518.7h0M168.1 510.4h0M202.7 467.4h0M251.7 509.6h0M220.1 501.5h0M249.5 550.7h0M202.1 558.5h0M150.3 484.0h0M202.3 522.0h0M205.8 554.2h0M234.0 498.6h0M259.9 557.0h0M165.7 560.9h0M188.1 495.8h0M222.2 482.1h0M250.8 540.0h0M147.3 481.9h0M238.6 548.1h0M228.9 511.5h0M256.4 558.2h0M231.5 487.5h0M233.4 459.2h0M159.3 468.8h0M202.8 531.7h0M236.1 479.2h0M181.5 546.9h0M245.9 534.1h0M232.8 505.7h0M171.3 538.1h0M209.7 549.8h0M232.3 454.9h0M141.1 487.9h0M231.9 518.7h0M148.5 493.2h0M193.9 489.1h0M190.0 505.7h0M189.4 468.1h0M247.5 505.2h0M227.9 473.5h0M226.2 556.7h0M255.8 482.1h0M156.2 468.3h0M200.1 500.0h0M260.5 496.0h0M256.5 522.1h0M190.8 519.2h0M222.8 474.1h0M224.4 457.0h0M253.9 534.0h0M158.1 535.8h0M220.2 498.5h0M138.4 485.6h0M262.3 556.0h0M180.7 534.3h0M231.2 546.3h0M169.4 524.7h0M258.1 455.5h0M162.0 473.7h0M182.1 560.8h0M188.3 530.1h0M156.8 465.2h0M196.0 529.7h0M164.2 477.2h0M166.9 458.1h0M160.0 473.9h0M168.8 517.6h0M241.3 457.8h0M251.4 495.0h0M252.7 468.0h0M226.9 472.8h0M247.5 497.7h0M248.2 463.6h0M179.9 470.0h0M187.5 517.7h0M234.7 506.8h0M256.6 455.5h0M254.2 500.3h0M158.1 454.1h0M207.5 544.7h0M228.2 566.2h0M194.0 463.4h0M181.2 513.5h0M212.6 551.0h0M198.6 493.6h0M208.7 480.2h0M200.6 550.0h0M237.5 497.1h0M267.0 473.7h0M215.9 520.7h0M225.0 485.8h0M246.7 516.6h0M251.7 483.0h0M179.4 514.9h0M152.6 457.6h0M179.7 520.0h0M226.7 460.9h0M209.4 552.5h0M178.7 543.0h0M230.3 487.6h0M184.8 482.2h0M268.3 478.9h0M163.6 493.3h0M168.8 532.4h0M200.9 460.4h0M238.3 513.5h0M216.6 542.6h0M155.6 489.5h0M145.4 474.5h0M203.9 566.3h0M266.1 495.6h0M212.2 556.0h0M155.3 463.2h0M173.4 519.1h0M206.3 511.5h0M193.5 520.7h0M176.3 531.3h0M236.8 511.0h0M229.5 503.5h0M213.7 533.7h0M143.4 470.9h0M191.5 559.0h0M206.5 511.3h0M232.3 510.1h0M153.1 457.6h0M138.5 493.8h0M205.6 494.0h0M211.5 558.1h0M161.1 478.1h0M237.5 540.9h0M251.9 513.6h0M259.3 534.6h0M258.6 459.0h0M253.2 531.6h0M184.9 510.0h0M200.6 483.3h0M211.7 486.0h0M249.4 506.2h0M238.8 463.1h0M155.2 466.4h0M189.5 561.9h0M202.4 530.1h0M236.0 502.6h0M271.2 488.9h0M234.4 521.4h0M261.8 467.4h0M169.0 474.0h0M253.3 523.9h0M205.7 554.4h0M185.3 559.9h0M197.5 490.4h0M194.2 556.6h0M234.3 505.0h0M170.7 490.3h0M223.4 499.4h0M209.1 495.6h0M232.0 455.6h0M184.4 528.6h0M205.6 541.0h0M145.6 499.6h0M225.5 496.4h0M231.1 511.4h0M178.7 508.2h0M263.3 520.4h0M160.0 466.7h0M185.6 556.2h0M210.7 524.5h0M203.0 532.5h0M234.5 521.6h0M171.9 519.2h0M263.7 488.1h0M235.4 478.4h0M179.8 522.2h0M182.6 481.1h0M256.8 514.8h0M224.6 464.5h0M229.8 455.8h0M233.8 504.5h0M246.9 501.5h0M252.7 562.9h0M234.9 533.7h0M265.1 476.4h0M247.5 482.2h0M263.9 515.6h0M254.8 486.5h0M148.4 470.2h0M170.6 459.4h0M189.9 509.6h0M252.7 488.7h0M217.3 521.4h0M184.4 511.6h0M255.9 530.0h0M206.6 545.7h0M217.2 537.5h0M172.8 471.1h0M148.8 459.5h0M270.4 492.2h0M220.8 538.7h0M246.5 465.4h0M235.4 459.2h0M202.2 552.4h0M206.9 520.3h0M270.7 474.5h0M160.7 481.8h0M262.0 503.4h0M245.4 491.7h0M257.5 558.6h0M184.5 521.1h0M266.1 491.5h0M176.3 556.0h0M172.5 482.4h0M150.6 461.5h0M182.6 561.6h0M197.5 493.2h0M239.6 504.4h0M189.7 530.3h0M179.2 494.8h0M221.4 531.3h0M218.3 549.3h0M200.5 501.3h0M271.4 474.8h0M182.0 527.9h0M236.1 538.3h0M249.4 479.2h0M185.7 454.4h0M224.8 486.0h0M252.1 538.8h0M245.3 480.0h0M250.7 467.2h0M176.1 491.0h0M207.9 513.2h0M222.8 504.2h0M214.3 498.5h0M210.2 523.7h0M205.0 531.1h0M255.3 557.7h0M201.2 476.8h0M246.4 495.7h0M261.9 539.3h0M257.7 479.4h0M200.1 544.6h0M170.5 556.7h0M200.9 516.2h0M181.3 560.7h0M268.0 520.9h0M247.1 480.5h0M164.7 477.8h0M169.3 516.5h0M250.4 511.4h0M232.3 484.9h0M204.6 551.9h0M227.5 474.5h0M190.5 477.1h0M247.8 479.2h0M152.3 459.6h0M204.9 493.4h0M258.5 486.8h0M247.1 558.1h0M206.0 505.5h0M234.0 491.0h0M224.9 506.8h0M258.8 528.1h0M168.7 498.6h0M228.1 477.5h0M254.7 455.3h0M180.7 537.8h0M154.4 504.8h0M262.6 471.2h0M182.8 516.7h0M229.6 468.1h0M210.5 560.1h0M154.0 482.7h0M253.2 548.5h0M244.3 461.5h0M178.0 503.0h0M241.3 545.7h0M170.2 555.3h0M236.8 479.3h0M233.4 532.8h0M237.2 505.0h0M159.2 484.4h0M249.7 542.1h0M265.0 518.7h0M222.1 477.8h0M168.4 485.6h0M194.2 511.9h0M255.2 565.9h0M159.0 543.5h0M237.8 481.0h0M206.4 454.4h0M204.6 478.5h0M236.7 522.9h0M260.4 521.4h0M267.7 483.1h0M256.3 519.4h0M207.5 547.9h0M194.2 528.8h0M226.1 510.2h0M254.0 543.3h0M176.7 523.6h0M249.9 454.8h0M230.6 470.7h0M238.8 488.1h0M150.0 468.2h0M257.2 463.3h0M168.2 484.2h0M185.0 473.0h0M227.1 473.5h0M182.5 460.1h0M154.7 488.4h0M221.2 489.3h0M200.2 482.6h0M235.6 467.3h0M201.8 559.4h0M203.8 489.9h0M148.0 467.8h0M265.6 519.4h0M175.8 507.4h0M234.7 528.8h0M262.0 462.4h0M165.9 491.0h0M202.2 472.2h0M159.9 455.8h0M239.2 481.1h0M192.7 480.3h0M170.8 547.8h0M150.7 470.2h0M260.5 541.0h0M257.7 495.8h0M208.2 541.0h0M160.1 516.0h0M258.2 483.2h0M239.5 549.6h0M176.8 535.1h0M167.8 491.7h0M212.7 558.9h0M157.7 549.2h0M189.5 545.3h0M245.1 469.3h0M249.8 466.1h0M246.2 562.6h0M155.0 481.0h0M180.7 456.0h0M238.3 491.8h0M217.5 554.4h0M204.1 553.3h0M258.5 463.3h0M183.8 456.6h0M259.6 465.2h0M180.6 527.0h0M260.9 488.9h0M237.9 472.6h0M203.8 480.2h0M258.4 507.2h0M264.7 461.2h0M260.7 558.5h0M231.6 513.7h0M245.8 480.4h0M259.9 454.7h0M194.8 552.3h0M238.5 521.0h0M252.3 498.7h0M259.3 478.6h0M196.4 487.4h0M184.6 508.8h0M162.9 489.8h0M205.8 454.7h0M189.3 525.9h0M166.2 481.6h0M230.4 461.1h0M238.8 538.0h0M234.4 459.1h0M172.2 506.8h0M187.5 488.1h0M189.3 552.6h0M202.9 552.1h0M190.2 543.0h0M204.6 453.8h0M187.1 486.9h0M194.6 558.7h0M265.4 522.8h0M140.1 483.8h0M238.3 478.6h0M237.0 527.0h0M232.6 460.6h0M214.7 553.5h0M161.3 476.2h0M161.3 482.7h0M156.8 454.8h0M257.7 456.5h0M228.7 557.6h0M169.1 557.5h0M265.7 480.2h0M258.3 533.3h0M204.6 460.4h0M208.7 464.4h0M191.3 478.1h0M269.7 473.9h0M254.2 549.5h0M178.6 524.0h0M197.9 463.1h0M268.2 487.2h0M229.2 461.6h0M202.5 471.3h0M234.1 559.9h0M198.6 481.8h0M211.7 481.0h0M193.7 529.8h0M216.8 533.8h0M175.5 479.7h0M225.7 489.6h0M221.8 528.6h0M234.1 540.0h0M241.1 500.4h0M241.7 551.1h0M149.0 477.4h0M188.5 457.8h0M167.9 504.5h0M175.7 493.6h0M210.3 469.7h0M170.9 560.8h0M254.8 531.3h0M229.3 515.6h0M237.7 483.3h0M187.8 518.6h0M206.2 507.2h0M255.7 559.1h0M146.1 505.0h0M226.5 510.1h0M172.5 465.3h0M196.0 550.9h0M200.4 509.6h0M269.0 484.9h0M221.2 492.5h0M255.9 511.5h0M262.2 494.5h0M192.9 500.7h0M201.2 547.2h0M159.0 478.7h0M175.7 480.1h0M172.8 511.8h0M160.7 501.3h0M211.9 484.6h0M143.8 482.5h0M209.3 548.6h0M191.8 492.8h0M149.2 477.8h0M258.4 512.8h0M206.0 510.5h0M201.4 522.5h0M264.9 500.3h0M192.7 531.5h0M202.5 463.7h0M255.0 540.1h0M220.3 534.1h0M188.7 489.1h0M201.8 554.0h0M188.0 531.1h0M171.9 481.6h0M188.8 481.7h0M251.1 568.9h0M219.8 543.6h0M225.6 478.8h0M166.3 529.9h0M192.3 535.2h0M164.5 478.8h0M223.5 472.5h0M149.7 473.5h0M230.9 487.5h0M171.8 559.3h0M246.3 503.6h0M199.9 554.6h0M187.9 510.6h0M193.2 527.1h0M152.3 474.3h0M187.9 488.7h0M202.0 521.3h0M236.3 541.3h0M228.2 507.7h0M217.9 553.6h0M169.3 493.1h0M164.1 469.4h0M162.1 458.0h0M198.3 486.2h0M222.3 502.5h0M210.8 501.0h0M174.9 487.2h0M243.9 457.0h0M172.2 485.8h0M184.7 503.4h0M138.4 456.3h0M202.9 546.5h0M187.3 542.2h0M204.9 540.6h0M227.8 471.0h0M139.0 487.7h0M191.8 562.3h0M234.8 538.4h0M264.6 457.9h0M154.8 493.5h0M238.9 563.0h0M172.2 478.0h0M233.3 495.4h0M254.0 531.1h0M252.5 527.0h0M236.1 542.1h0M228.3 562.6h0M200.8 491.3h0M178.8 519.0h0M200.6 554.4h0M182.2 495.9h0M229.9 481.7h0M184.4 487.5h0M188.5 460.7h0M241.2 544.6h0M226.0 503.8h0M220.6 539.5h0M225.7 498.5h0M221.6 456.5h0M181.2 521.1h0M206.2 488.5h0M223.4 498.7h0M157.9 469.3h0M245.0 458.1h0M222.6 498.2h0M214.2 535.6h0M248.9 505.3h0M248.9 543.0h0M187.0 483.0h0M202.0 455.9h0M235.9 471.9h0M165.4 505.4h0M262.6 511.7h0M240.0 529.3h0M252.1 523.3h0M240.1 489.9h0M254.1 556.7h0M208.3 458.0h0M241.2 532.0h0M150.4 514.3h0M214.2 512.4h0M228.5 460.3h0M171.1 560.4h0M186.5 469.4h0M255.9 559.2h0M154.8 460.2h0M239.4 503.2h0M238.0 455.3h0M221.9 541.1h0M162.6 459.3h0M190.7 529.4h0M161.6 490.2h0M260.2 459.4h0M237.7 528.1h0M182.2 555.1h0M250.9 508.3h0M212.0 454.9h0M179.2 566.6h0M203.3 474.6h0M215.6 536.8h0M187.8 553.4h0M163.0 483.9h0M160.3 514.4h0M250.6 459.0h0M241.5 456.4h0M196.3 488.9h0M224.8 461.7h0M209.1 462.1h0M234.7 458.5h0M189.7 495.7h0M191.2 480.6h0M208.0 464.7h0M170.6 543.6h0M260.5 546.2h0M198.0 481.7h0M260.9 561.2h0M155.5 455.6h0M224.7 497.7h0M230.9 520.0h0M256.5 487.8h0M226.2 467.3h0M205.2 501.5h0M219.5 494.4h0M176.4 474.1h0M182.3 514.7h0M175.6 524.2h0M171.0 565.2h0M222.8 476.8h0M233.5 522.7h0M190.3 472.6h0M259.5 463.0h0M236.9 500.9h0M265.2 476.8h0M243.1 475.8h0M214.8 498.7h0M173.7 531.3h0M251.3 562.3h0M214.3 527.9h0M223.9 525.9h0M222.8 537.8h0M172.5 503.6h0M200.6 559.3h0M168.9 486.3h0M217.6 552.0h0M191.6 487.9h0M191.0 480.4h0M217.2 543.6h0M260.2 530.0h0M150.0 459.7h0M205.7 498.6h0M254.5 511.9h0M224.3 558.3h0M237.1 504.0h0M259.2 469.1h0M232.6 523.2h0M212.5 480.0h0M241.8 541.6h0M256.6 544.5h0" stroke="#7c8ae8" stroke-width="1.0" stroke-linecap="round" fill="none" opacity="1.0"/></g>
<circle cx="245.10000000000002" cy="503.46500000000003" r="2.6" fill="#e03070" opacity="0.6" filter="url(#soft2)"/><circle cx="245.10000000000002" cy="503.46500000000003" r="1.3" fill="#ffd0d8"/>
<circle cx="178.35000000000002" cy="478.055" r="0.9" fill="#e060a0"/><circle cx="233.085" cy="494.225" r="0.8" fill="#d050a0"/>
<rect x="256.4475" y="559.6" width="5.5" height="1" fill="#dde"/>
</g>
<g clip-path="url(#cp2)">
<rect x="275.5" y="453.8" width="132.8" height="115.5" fill="#130c84"/>
<g filter="url(#soft2)"><ellipse cx="328.6" cy="473.4" rx="5.3" ry="11.6" fill="#04021a" opacity="0.95" transform="rotate(-25 328.6 473.4)"/><ellipse cx="335.3" cy="460.7" rx="8.0" ry="4.0" fill="#04021a" opacity="0.9" transform="rotate(0 335.3 460.7)"/><ellipse cx="353.2" cy="470.0" rx="3.3" ry="16.2" fill="#04021a" opacity="0.95" transform="rotate(0 353.2 470.0)"/><ellipse cx="355.2" cy="513.9" rx="2.7" ry="30.0" fill="#04021a" opacity="0.95" transform="rotate(0 355.2 513.9)"/><ellipse cx="351.2" cy="495.4" rx="4.0" ry="6.9" fill="#04021a" opacity="0.8" transform="rotate(30 351.2 495.4)"/><ellipse cx="357.8" cy="555.4" rx="8.0" ry="15.0" fill="#04021a" opacity="0.95" transform="rotate(0 357.8 555.4)"/><ellipse cx="348.5" cy="541.6" rx="4.6" ry="6.9" fill="#04021a" opacity="0.85" transform="rotate(40 348.5 541.6)"/><ellipse cx="368.5" cy="539.3" rx="4.0" ry="5.8" fill="#04021a" opacity="0.7" transform="rotate(0 368.5 539.3)"/><ellipse cx="323.3" cy="530.0" rx="6.0" ry="5.8" fill="#04021a" opacity="0.9" transform="rotate(20 323.3 530.0)"/><ellipse cx="308.7" cy="553.1" rx="9.3" ry="9.2" fill="#04021a" opacity="0.95" transform="rotate(-20 308.7 553.1)"/><ellipse cx="298.1" cy="541.6" rx="4.0" ry="5.8" fill="#04021a" opacity="0.8" transform="rotate(0 298.1 541.6)"/><ellipse cx="381.7" cy="539.3" rx="4.6" ry="11.6" fill="#04021a" opacity="0.9" transform="rotate(15 381.7 539.3)"/><ellipse cx="392.4" cy="561.2" rx="9.3" ry="8.1" fill="#04021a" opacity="0.95" transform="rotate(0 392.4 561.2)"/><ellipse cx="376.4" cy="560.1" rx="4.0" ry="5.8" fill="#04021a" opacity="0.7" transform="rotate(0 376.4 560.1)"/><ellipse cx="292.8" cy="523.1" rx="4.6" ry="4.0" fill="#04021a" opacity="0.7" transform="rotate(0 292.8 523.1)"/><ellipse cx="288.8" cy="564.7" rx="8.0" ry="4.6" fill="#04021a" opacity="0.9" transform="rotate(0 288.8 564.7)"/><ellipse cx="405.6" cy="517.3" rx="4.0" ry="16.2" fill="#04021a" opacity="0.85" transform="rotate(0 405.6 517.3)"/><ellipse cx="340.6" cy="523.1" rx="3.3" ry="5.8" fill="#04021a" opacity="0.7" transform="rotate(0 340.6 523.1)"/><ellipse cx="371.1" cy="488.4" rx="2.7" ry="5.8" fill="#04021a" opacity="0.6" transform="rotate(0 371.1 488.4)"/><ellipse cx="399.0" cy="474.6" rx="2.7" ry="8.1" fill="#04021a" opacity="0.7" transform="rotate(0 399.0 474.6)"/><ellipse cx="335.3" cy="560.1" rx="5.3" ry="5.8" fill="#04021a" opacity="0.8" transform="rotate(0 335.3 560.1)"/><ellipse cx="278.2" cy="505.8" rx="2.7" ry="9.2" fill="#04021a" opacity="0.6" transform="rotate(0 278.2 505.8)"/><ellipse cx="315.3" cy="500.0" rx="2.7" ry="4.6" fill="#04021a" opacity="0.5" transform="rotate(0 315.3 500.0)"/><ellipse cx="388.4" cy="505.8" rx="2.7" ry="5.8" fill="#04021a" opacity="0.5" transform="rotate(0 388.4 505.8)"/><ellipse cx="304.7" cy="479.2" rx="2.7" ry="4.6" fill="#04021a" opacity="0.45" transform="rotate(0 304.7 479.2)"/><ellipse cx="365.8" cy="517.3" rx="2.7" ry="4.6" fill="#04021a" opacity="0.5" transform="rotate(0 365.8 517.3)"/></g>
<g filter="url(#soft)"><path d="M351.2 526.8h0M312.3 529.1h0M396.2 475.3h0M359.9 488.6h0M356.2 538.8h0M349.3 532.5h0M313.3 478.4h0M375.1 468.0h0M307.7 485.3h0M345.2 489.0h0M300.1 466.5h0M391.4 540.1h0M291.9 471.0h0M317.5 460.5h0M302.4 476.1h0M336.3 508.5h0M316.4 461.9h0M325.9 543.9h0M391.4 455.5h0M334.4 490.2h0M368.7 472.7h0M356.8 457.7h0M336.9 502.5h0M278.2 499.7h0M318.7 466.0h0M370.0 525.6h0M358.3 541.7h0M385.9 503.9h0M398.4 554.2h0M388.4 526.0h0M305.8 464.4h0M301.9 475.6h0M285.0 560.8h0M351.7 568.8h0M276.4 562.3h0M397.2 547.8h0M280.8 456.2h0M380.6 480.1h0M324.2 546.1h0M375.7 550.3h0M276.4 553.4h0M318.9 468.6h0M320.5 511.1h0M302.4 463.3h0M292.5 465.4h0M292.8 546.2h0M336.6 527.6h0M278.6 462.9h0M323.5 483.0h0M386.2 454.8h0M326.4 486.4h0M305.3 458.7h0M405.4 493.7h0M402.5 492.1h0M281.0 481.2h0M326.7 555.0h0M358.3 475.6h0M392.8 503.5h0M313.2 538.1h0M358.7 480.9h0M401.8 546.3h0M328.5 465.2h0M296.5 479.0h0M297.3 498.1h0M298.8 502.8h0M288.4 469.4h0M391.5 568.5h0M346.0 498.0h0M380.5 568.6h0M342.8 489.7h0M347.7 486.5h0M397.1 481.1h0M398.9 554.9h0M301.4 505.8h0M308.1 523.3h0M399.5 494.3h0M279.6 490.4h0M361.8 525.5h0M322.1 487.2h0M380.2 557.8h0M370.7 461.0h0M317.5 558.1h0M343.3 494.9h0M307.8 461.0h0M364.5 483.7h0M286.0 503.7h0M299.3 564.8h0M293.0 474.2h0M325.0 488.6h0M318.7 521.8h0M346.6 521.2h0M362.8 501.3h0M358.6 487.2h0M346.2 476.9h0M376.4 455.2h0M300.9 492.7h0M403.7 490.1h0M321.6 562.4h0M363.8 463.4h0M374.2 559.3h0M359.2 528.7h0M370.3 539.9h0M373.8 497.7h0M324.0 549.5h0M367.5 511.3h0M323.1 478.1h0M396.3 477.6h0M290.4 517.5h0M281.7 478.0h0M376.2 510.8h0M323.3 497.4h0M275.8 477.0h0M362.7 476.5h0M330.1 544.2h0M384.0 518.3h0M288.4 503.3h0M309.5 495.9h0M305.1 466.9h0M298.0 456.5h0M348.2 456.9h0M298.6 509.6h0M405.4 499.7h0M341.0 463.1h0M371.5 567.9h0M368.8 548.3h0M320.7 497.4h0M291.4 489.4h0M302.8 475.2h0M316.6 460.4h0M401.1 479.6h0M286.6 479.3h0M360.7 518.3h0M363.1 541.0h0M297.1 552.7h0M382.9 500.3h0M393.6 454.5h0M392.2 550.4h0M302.9 543.2h0M317.9 564.8h0M340.1 555.7h0M393.5 485.2h0M405.5 469.1h0M407.1 472.3h0M375.0 483.6h0M379.2 469.0h0M392.7 509.2h0M379.7 521.4h0M286.1 509.2h0M372.2 473.8h0M335.8 506.8h0M399.5 454.0h0M293.8 553.7h0M399.6 473.3h0M378.2 507.5h0M334.2 501.7h0M324.4 511.1h0M365.1 462.0h0M352.6 532.9h0M324.8 564.9h0M326.4 518.7h0M362.2 456.7h0M323.2 455.1h0M320.6 484.2h0M325.5 559.7h0M321.3 563.7h0M399.9 467.0h0M367.8 492.7h0M287.8 491.1h0M363.7 568.1h0M380.9 522.4h0M407.2 559.6h0M373.6 543.2h0M279.7 541.6h0M376.4 541.1h0M281.3 562.5h0M322.3 544.5h0M332.8 492.6h0M379.1 501.5h0M402.2 497.0h0M294.1 522.3h0M329.3 486.5h0M323.9 498.9h0M307.9 522.5h0M310.4 507.5h0M312.1 474.8h0M404.7 477.0h0M316.8 488.6h0M345.3 536.3h0M284.1 454.1h0M288.8 557.0h0M281.1 552.9h0M362.2 455.8h0M337.3 505.7h0M296.8 565.6h0M365.6 561.3h0M388.8 463.9h0M280.9 531.9h0M377.3 537.8h0M406.6 479.7h0M382.6 475.9h0M333.4 471.0h0M389.1 540.5h0M372.4 561.0h0M368.9 539.5h0M378.0 490.0h0M319.3 489.5h0M295.4 485.8h0M278.2 538.8h0M319.7 536.2h0M279.5 520.0h0M298.4 557.9h0M346.7 515.8h0M283.1 555.0h0M315.9 483.8h0M288.9 549.3h0M380.9 466.3h0M358.5 495.5h0M337.1 521.9h0M401.8 524.6h0M360.9 500.3h0M341.4 484.5h0M304.6 516.7h0M315.8 529.1h0M363.5 520.1h0M361.9 457.0h0M297.9 501.8h0M394.7 473.6h0M343.9 532.5h0M369.4 568.2h0M329.1 545.4h0M402.3 492.7h0M381.5 515.6h0M368.4 483.4h0M275.8 493.2h0M347.9 505.3h0M359.6 474.9h0M364.5 547.6h0M347.2 550.5h0M301.0 485.6h0M335.8 471.4h0M354.7 456.0h0M321.1 486.1h0M305.9 463.4h0M351.9 508.9h0M366.1 552.2h0M315.9 492.2h0M350.7 562.3h0M276.1 508.8h0M282.7 568.3h0M349.7 513.5h0M328.0 520.4h0M321.5 508.1h0M356.7 481.2h0M335.8 520.8h0M310.0 542.4h0M295.9 470.2h0M381.0 489.6h0M332.7 511.6h0M317.9 500.0h0M376.2 479.1h0M295.7 567.0h0M398.4 478.8h0M321.0 491.5h0M327.7 501.0h0M358.9 533.8h0M293.4 457.8h0M344.2 525.9h0M384.4 472.2h0M301.5 461.8h0M347.5 564.1h0M278.7 482.6h0M389.6 465.6h0M391.5 544.1h0M344.3 532.4h0M390.0 532.1h0M319.9 464.1h0M301.0 521.7h0M312.0 530.9h0M369.6 540.9h0M372.4 532.0h0M303.7 478.1h0M385.7 480.4h0M301.6 503.4h0M281.4 487.5h0M362.6 468.0h0M345.6 457.2h0M278.8 561.0h0M362.7 496.6h0M341.0 563.8h0M338.9 523.7h0M369.1 563.3h0M280.8 540.2h0M287.4 459.6h0M358.1 496.4h0M335.8 491.9h0M361.3 464.4h0M292.8 554.7h0M276.0 564.8h0M327.4 542.8h0M339.7 456.5h0M391.9 476.6h0M361.2 515.8h0M371.3 480.2h0M363.8 487.5h0M298.1 475.0h0M366.4 501.4h0M317.8 550.9h0M364.4 545.7h0M336.5 498.1h0M404.6 492.2h0M372.8 484.8h0M332.6 506.8h0M360.0 511.2h0M321.0 468.8h0M279.9 527.4h0M316.2 473.0h0M278.7 552.7h0M363.4 511.9h0M325.6 544.4h0M337.4 519.5h0M319.5 455.5h0M389.6 470.4h0M358.8 526.6h0M375.9 549.1h0M391.3 469.4h0M330.1 487.2h0M399.2 539.7h0M367.6 529.0h0M321.1 468.9h0M373.5 494.3h0M308.0 566.3h0M340.7 544.0h0M313.8 533.4h0M310.1 499.6h0M358.7 472.6h0M373.0 456.3h0M362.1 528.4h0M277.5 540.0h0M277.9 540.6h0M301.3 470.1h0M363.2 457.7h0M335.6 554.5h0M297.3 522.2h0M288.2 557.4h0M322.2 478.4h0M330.6 502.4h0M338.0 498.6h0M315.2 511.8h0M302.5 496.8h0M286.9 523.8h0M390.8 537.6h0M275.6 559.4h0M318.0 454.5h0M373.0 523.5h0M376.2 544.5h0M357.4 492.4h0M313.7 515.6h0M403.0 470.8h0M279.0 501.1h0M407.1 493.5h0M325.8 461.3h0M297.1 479.2h0M318.5 568.4h0M332.5 530.1h0M345.4 550.2h0M291.4 559.8h0M317.7 467.2h0M339.3 484.1h0M350.2 547.3h0M400.1 527.2h0M340.1 552.7h0M349.2 473.1h0M364.7 567.5h0M302.5 460.0h0M341.9 482.5h0M300.8 559.9h0M299.7 467.6h0M392.5 533.5h0M386.7 534.4h0M395.2 541.8h0M346.5 454.8h0M286.1 548.2h0M313.6 469.9h0M399.8 491.1h0M284.7 497.7h0M305.4 543.6h0M307.1 491.5h0M328.8 506.0h0M280.5 495.2h0M325.9 495.4h0M351.8 564.3h0M407.5 482.7h0M388.5 506.3h0M366.4 472.9h0M403.1 562.6h0M306.5 541.8h0M289.1 464.6h0M326.5 481.3h0M279.7 478.1h0M406.9 496.9h0M350.8 515.2h0M370.5 487.9h0M338.7 507.9h0M301.1 456.4h0M404.9 562.8h0M408.0 558.6h0M307.9 476.7h0M349.3 478.1h0M345.6 471.6h0M291.9 506.9h0M294.5 520.0h0M345.1 469.1h0M390.7 518.7h0M352.4 454.6h0M301.7 494.5h0M283.4 493.3h0M383.8 506.5h0M307.2 544.7h0M277.5 542.7h0M291.3 470.5h0M383.3 553.2h0M322.6 485.5h0M285.4 506.7h0M392.4 519.7h0M358.3 529.2h0M288.4 457.8h0M328.7 505.1h0M362.9 526.2h0M394.1 484.6h0M405.9 482.9h0M282.9 496.8h0M324.0 518.9h0M349.3 568.8h0M285.5 559.1h0M377.6 552.9h0M307.1 500.2h0M333.3 534.4h0M334.9 496.0h0M326.5 491.8h0M324.2 545.2h0M336.6 506.3h0M341.8 557.8h0M290.9 546.5h0M341.9 477.5h0M334.0 469.6h0M285.5 472.4h0M352.1 483.9h0M392.5 481.3h0M363.4 565.1h0M278.5 557.1h0M301.8 463.8h0M383.8 550.0h0M402.9 530.2h0M302.1 519.7h0M304.1 563.7h0M301.1 476.3h0M371.1 479.0h0M370.9 558.3h0M395.8 522.9h0M311.2 480.8h0M397.2 530.6h0M393.0 551.6h0M299.8 456.3h0M386.2 472.3h0M317.6 513.5h0M280.6 479.9h0M335.4 466.9h0M315.0 524.1h0M377.0 526.9h0M344.1 515.7h0M370.2 559.9h0M306.3 530.0h0M351.3 502.6h0M360.2 459.8h0M384.1 515.0h0M298.7 462.0h0M292.1 513.1h0M330.4 492.6h0M320.7 534.6h0M311.7 514.7h0M286.1 471.3h0M362.8 488.0h0M304.5 460.1h0M322.5 500.1h0M380.4 505.4h0M362.3 466.5h0M334.7 514.7h0M389.3 487.9h0M348.6 534.5h0M345.3 537.1h0M387.8 492.4h0M313.8 544.4h0M330.1 493.1h0M317.5 480.7h0M391.2 553.9h0M406.9 503.4h0M358.5 484.0h0M318.6 491.2h0M321.2 561.9h0M336.5 541.9h0M280.1 548.2h0M360.5 522.0h0M397.2 540.9h0M314.7 487.0h0M308.7 478.2h0M402.7 553.1h0M322.6 490.7h0M388.2 488.5h0M380.0 463.6h0M278.9 483.2h0M365.6 565.9h0M392.7 545.5h0M404.7 457.6h0M318.7 538.4h0M338.2 555.0h0M367.5 496.0h0M293.6 547.5h0M304.9 470.6h0M385.3 512.7h0M381.9 482.7h0M300.1 552.3h0M277.9 531.4h0M377.8 483.6h0M361.6 495.0h0M325.6 461.2h0M316.2 454.7h0M333.5 530.6h0M283.5 454.1h0M305.2 535.8h0M355.8 477.7h0M389.0 499.6h0M277.7 521.3h0M390.1 550.8h0M320.3 510.5h0M358.6 499.9h0M365.9 557.4h0M335.7 490.7h0M281.7 510.9h0M337.0 552.6h0M343.1 563.2h0M382.7 564.2h0M308.0 541.7h0M307.5 488.6h0M313.4 484.7h0M383.4 474.9h0M287.6 532.3h0M310.6 567.5h0M337.6 506.1h0M299.2 518.4h0M315.0 487.7h0M298.5 492.4h0M277.9 503.8h0M357.6 485.5h0M296.0 509.1h0M336.4 494.8h0M304.3 497.2h0M314.6 485.4h0M365.4 510.3h0M361.3 567.2h0M336.4 524.2h0" stroke="#4258d0" stroke-width="2.6" stroke-linecap="round" fill="none" opacity="1.0"/><path d="M359.9 488.6h0M356.2 538.8h0M349.3 532.5h0M375.1 468.0h0M307.7 485.3h0M345.2 489.0h0M300.1 466.5h0M291.9 471.0h0M317.5 460.5h0M336.3 508.5h0M316.4 461.9h0M325.9 543.9h0M391.4 455.5h0M368.7 472.7h0M356.8 457.7h0M336.9 502.5h0M318.7 466.0h0M370.0 525.6h0M305.8 464.4h0M276.4 562.3h0M397.2 547.8h0M380.6 480.1h0M375.7 550.3h0M318.9 468.6h0M320.5 511.1h0M302.4 463.3h0M292.5 465.4h0M292.8 546.2h0M336.6 527.6h0M278.6 462.9h0M323.5 483.0h0M386.2 454.8h0M305.3 458.7h0M405.4 493.7h0M326.7 555.0h0M358.3 475.6h0M401.8 546.3h0M296.5 479.0h0M297.3 498.1h0M288.4 469.4h0M380.5 568.6h0M342.8 489.7h0M347.7 486.5h0M397.1 481.1h0M399.5 494.3h0M279.6 490.4h0M322.1 487.2h0M380.2 557.8h0M370.7 461.0h0M317.5 558.1h0M343.3 494.9h0M307.8 461.0h0M286.0 503.7h0M325.0 488.6h0M318.7 521.8h0M346.6 521.2h0M362.8 501.3h0M358.6 487.2h0M321.6 562.4h0M367.5 511.3h0M396.3 477.6h0M281.7 478.0h0M323.3 497.4h0M275.8 477.0h0M362.7 476.5h0M288.4 503.3h0M305.1 466.9h0M348.2 456.9h0M341.0 463.1h0M371.5 567.9h0M291.4 489.4h0M286.6 479.3h0M382.9 500.3h0M393.6 454.5h0M392.2 550.4h0M302.9 543.2h0M317.9 564.8h0M405.5 469.1h0M392.7 509.2h0M372.2 473.8h0M293.8 553.7h0M399.6 473.3h0M324.4 511.1h0M365.1 462.0h0M326.4 518.7h0M323.2 455.1h0M325.5 559.7h0M399.9 467.0h0M367.8 492.7h0M287.8 491.1h0M363.7 568.1h0M407.2 559.6h0M373.6 543.2h0M329.3 486.5h0M323.9 498.9h0M307.9 522.5h0M345.3 536.3h0M288.8 557.0h0M281.1 552.9h0M362.2 455.8h0M296.8 565.6h0M382.6 475.9h0M389.1 540.5h0M368.9 539.5h0M378.0 490.0h0M319.3 489.5h0M295.4 485.8h0M283.1 555.0h0M315.9 483.8h0M288.9 549.3h0M380.9 466.3h0M337.1 521.9h0M401.8 524.6h0M360.9 500.3h0M304.6 516.7h0M315.8 529.1h0M394.7 473.6h0M343.9 532.5h0M369.4 568.2h0M402.3 492.7h0M381.5 515.6h0M368.4 483.4h0M275.8 493.2h0M347.9 505.3h0M354.7 456.0h0M366.1 552.2h0M315.9 492.2h0M328.0 520.4h0M321.5 508.1h0M356.7 481.2h0M335.8 520.8h0M295.9 470.2h0M381.0 489.6h0M376.2 479.1h0M295.7 567.0h0M398.4 478.8h0M321.0 491.5h0M327.7 501.0h0M358.9 533.8h0M293.4 457.8h0M384.4 472.2h0M301.5 461.8h0M278.7 482.6h0M389.6 465.6h0M391.5 544.1h0M344.3 532.4h0M390.0 532.1h0M312.0 530.9h0M369.6 540.9h0M372.4 532.0h0M362.6 468.0h0M362.7 496.6h0M341.0 563.8h0M280.8 540.2h0M287.4 459.6h0M358.1 496.4h0M335.8 491.9h0M292.8 554.7h0M276.0 564.8h0M327.4 542.8h0M339.7 456.5h0M371.3 480.2h0M298.1 475.0h0M364.4 545.7h0M336.5 498.1h0M372.8 484.8h0M321.0 468.8h0M316.2 473.0h0M278.7 552.7h0M363.4 511.9h0M319.5 455.5h0M389.6 470.4h0M358.8 526.6h0M391.3 469.4h0M330.1 487.2h0M399.2 539.7h0M367.6 529.0h0M321.1 468.9h0M373.5 494.3h0M308.0 566.3h0M313.8 533.4h0M310.1 499.6h0M373.0 456.3h0M277.5 540.0h0M277.9 540.6h0M301.3 470.1h0M363.2 457.7h0M335.6 554.5h0M297.3 522.2h0M322.2 478.4h0M338.0 498.6h0M315.2 511.8h0M390.8 537.6h0M275.6 559.4h0M318.0 454.5h0M373.0 523.5h0M376.2 544.5h0M357.4 492.4h0M313.7 515.6h0M279.0 501.1h0M325.8 461.3h0M297.1 479.2h0M318.5 568.4h0M332.5 530.1h0M345.4 550.2h0M317.7 467.2h0M350.2 547.3h0M400.1 527.2h0M364.7 567.5h0M302.5 460.0h0M300.8 559.9h0M392.5 533.5h0M386.7 534.4h0M395.2 541.8h0M346.5 454.8h0M286.1 548.2h0M313.6 469.9h0M399.8 491.1h0M305.4 543.6h0M307.1 491.5h0M351.8 564.3h0M388.5 506.3h0M366.4 472.9h0M403.1 562.6h0M306.5 541.8h0M326.5 481.3h0M406.9 496.9h0M370.5 487.9h0M404.9 562.8h0M408.0 558.6h0M307.9 476.7h0M349.3 478.1h0M291.9 506.9h0M345.1 469.1h0M390.7 518.7h0M277.5 542.7h0M291.3 470.5h0M322.6 485.5h0M288.4 457.8h0M328.7 505.1h0M362.9 526.2h0M394.1 484.6h0M405.9 482.9h0M333.3 534.4h0M334.9 496.0h0M326.5 491.8h0M324.2 545.2h0M336.6 506.3h0M341.9 477.5h0M392.5 481.3h0M363.4 565.1h0M278.5 557.1h0M301.8 463.8h0M402.9 530.2h0M302.1 519.7h0M304.1 563.7h0M301.1 476.3h0M371.1 479.0h0M370.9 558.3h0M395.8 522.9h0M311.2 480.8h0M393.0 551.6h0M280.6 479.9h0M344.1 515.7h0M370.2 559.9h0M351.3 502.6h0M360.2 459.8h0M311.7 514.7h0M362.8 488.0h0M304.5 460.1h0M322.5 500.1h0M380.4 505.4h0M334.7 514.7h0M389.3 487.9h0M348.6 534.5h0M345.3 537.1h0M387.8 492.4h0M317.5 480.7h0M358.5 484.0h0M318.6 491.2h0M321.2 561.9h0M280.1 548.2h0M397.2 540.9h0M314.7 487.0h0M322.6 490.7h0M388.2 488.5h0M392.7 545.5h0M338.2 555.0h0M367.5 496.0h0M385.3 512.7h0M381.9 482.7h0M277.9 531.4h0M377.8 483.6h0M361.6 495.0h0M316.2 454.7h0M333.5 530.6h0M355.8 477.7h0M390.1 550.8h0M320.3 510.5h0M335.7 490.7h0M281.7 510.9h0M337.0 552.6h0M343.1 563.2h0M382.7 564.2h0M308.0 541.7h0M313.4 484.7h0M383.4 474.9h0M315.0 487.7h0M298.5 492.4h0M277.9 503.8h0M296.0 509.1h0M336.4 494.8h0M314.6 485.4h0M365.4 510.3h0M361.3 567.2h0" stroke="#8cbce0" stroke-width="1.4" stroke-linecap="round" fill="none" opacity="1.0"/></g>
<rect x="389.708" y="559.6" width="6" height="1" fill="#dde"/>
</g>
<g clip-path="url(#cp3)">
<rect x="412" y="453.8" width="133" height="115.5" fill="#030114"/>
<g filter="url(#big)"><ellipse cx="478.5" cy="523.1" rx="66.5" ry="46.2" fill="#0a0850" opacity="0.3"/><ellipse cx="478.5" cy="459.575" rx="39.9" ry="11.55" fill="#300818" opacity="0.5"/></g>
<g filter="url(#soft2)"><path d="M466.3 516.4h0M435.5 479.8h0M480.3 568.1h0M462.3 500.6h0M455.4 462.3h0M539.5 466.2h0M463.3 508.9h0M437.1 483.6h0M418.5 531.6h0M470.0 458.2h0M498.9 491.8h0M495.9 521.9h0M443.0 506.4h0M502.9 493.8h0M441.7 455.5h0M484.2 568.7h0M523.5 523.9h0M469.6 459.3h0M435.9 528.0h0M494.4 487.7h0M503.5 526.2h0M523.8 549.7h0M480.1 553.7h0M484.7 510.1h0M451.9 500.4h0M470.7 529.0h0M423.2 558.0h0M449.1 515.4h0M444.3 534.8h0M421.7 485.2h0M430.6 562.8h0M442.8 522.8h0M454.4 491.4h0M532.9 462.9h0M502.9 546.5h0M540.0 539.5h0M441.4 533.7h0M412.7 489.7h0M440.2 468.7h0M414.1 467.7h0M478.7 527.5h0M429.1 560.1h0M502.3 533.4h0M491.0 490.6h0M520.8 455.7h0M526.1 560.7h0M469.1 562.6h0M521.9 482.5h0M431.8 484.2h0M518.0 530.0h0M435.8 505.8h0M474.8 544.9h0M528.8 511.1h0M472.9 546.4h0M437.7 550.5h0M497.3 473.9h0M441.9 503.4h0M448.3 562.7h0M412.6 546.5h0M435.0 527.5h0M455.1 535.9h0M457.2 511.2h0M490.7 487.6h0M512.8 493.1h0M537.4 473.3h0M433.6 483.7h0M482.6 495.1h0M414.4 542.5h0M522.8 511.1h0M456.1 480.2h0M414.1 538.1h0M427.0 545.8h0M495.9 520.6h0M504.1 498.7h0M490.6 531.5h0M481.8 559.9h0M446.0 485.6h0M520.0 515.7h0M480.0 534.2h0M438.1 455.4h0M413.8 482.3h0M487.6 503.1h0M496.3 515.9h0M433.2 458.7h0M499.5 565.0h0M509.3 487.1h0M532.6 506.4h0M542.2 518.3h0M523.8 535.4h0M476.5 559.8h0M431.2 558.8h0M418.1 463.6h0M415.0 500.1h0M496.3 559.4h0M477.2 528.5h0M516.4 516.9h0M463.9 527.9h0M436.7 528.1h0M416.3 474.3h0M468.4 503.7h0M451.8 501.2h0M427.4 527.0h0M515.1 532.4h0M505.9 496.5h0M414.7 490.0h0M451.1 498.8h0M443.7 553.1h0M503.8 564.7h0M528.6 474.1h0M427.7 561.0h0M480.4 566.0h0M422.4 534.0h0M428.8 483.2h0M457.6 460.3h0M416.1 540.3h0M461.4 549.0h0M525.5 547.6h0M524.2 533.3h0M502.8 505.1h0M450.3 540.7h0M490.4 489.9h0M501.3 530.7h0M469.5 521.9h0M543.0 499.0h0M524.3 531.2h0M520.0 518.5h0M511.1 477.7h0M515.8 530.8h0M418.2 502.6h0M428.4 534.1h0M498.2 485.3h0M431.7 533.1h0M421.2 466.9h0M535.5 566.6h0M425.8 549.5h0M445.0 458.0h0M450.3 534.4h0M517.1 481.2h0M494.5 546.8h0M510.5 501.7h0M532.9 525.0h0M451.7 496.9h0M509.9 504.0h0M467.3 557.7h0M460.3 561.8h0M466.5 564.8h0M528.5 506.0h0M529.0 502.6h0M443.6 532.7h0M501.4 472.2h0M428.7 470.3h0M512.0 534.4h0M543.4 525.7h0M480.0 551.0h0M512.5 547.0h0M506.0 524.0h0M435.3 548.2h0M475.9 464.3h0M517.7 547.5h0M532.3 497.3h0M451.1 537.3h0M457.1 499.5h0M524.4 567.0h0M433.4 544.5h0M491.3 490.0h0M415.0 501.6h0M496.9 539.9h0M478.5 526.2h0M453.9 523.3h0M502.7 569.0h0M503.4 471.8h0M420.2 482.7h0M513.5 516.1h0M443.7 485.4h0M512.6 484.9h0M485.3 554.5h0M412.3 527.9h0M416.6 508.9h0M544.5 518.5h0M492.7 552.5h0M458.1 529.8h0M532.0 488.1h0M483.1 514.0h0M493.6 509.8h0M460.8 477.1h0M450.7 542.5h0M529.0 499.7h0M473.0 500.1h0M490.7 491.6h0M433.1 530.4h0M514.4 551.1h0M425.5 528.8h0M421.2 477.3h0M461.6 535.5h0M491.0 455.0h0M422.6 518.6h0M474.4 528.3h0M434.5 491.1h0M502.2 471.0h0M491.0 540.6h0M505.6 495.9h0M536.3 485.5h0M418.7 558.8h0M526.9 543.3h0M517.6 465.1h0M542.3 507.4h0M448.3 458.2h0M439.0 539.5h0M473.7 553.1h0M417.4 561.4h0M433.4 458.9h0M469.2 531.6h0M426.6 496.8h0M522.8 553.2h0M501.9 519.8h0M454.1 538.3h0M493.2 495.2h0M518.9 531.2h0M489.7 480.8h0M477.8 514.9h0M489.1 506.7h0M451.2 555.3h0M511.9 560.1h0M530.4 566.7h0M503.9 513.4h0M460.0 540.9h0M450.8 472.3h0M428.6 523.9h0M465.7 470.7h0M435.4 475.2h0M502.3 494.8h0M452.2 555.1h0M444.5 534.2h0M423.2 519.0h0M534.0 482.3h0M430.0 557.9h0M448.2 488.6h0M423.2 546.3h0M479.1 559.8h0M534.1 553.7h0M435.6 471.1h0M456.3 522.7h0M512.0 525.6h0M466.7 513.0h0M545.0 479.0h0M483.6 505.3h0M491.8 476.6h0M489.3 485.2h0M465.5 553.5h0M448.5 561.4h0M420.0 545.4h0M469.8 546.4h0M495.6 488.6h0M421.7 504.1h0M442.0 516.8h0M488.2 569.2h0M539.5 521.8h0M448.9 496.3h0M463.9 496.7h0M489.7 551.4h0M442.2 499.4h0M496.8 494.5h0M533.9 491.8h0M483.7 539.3h0M439.2 460.9h0M425.4 499.7h0M450.0 493.1h0M467.3 482.6h0M489.5 507.9h0M433.5 508.9h0M441.5 471.7h0M434.7 480.7h0M490.8 505.5h0M498.1 488.4h0M500.9 489.9h0M517.8 490.8h0M527.1 525.3h0M451.7 539.5h0M499.4 527.4h0M536.6 506.0h0M524.5 495.7h0M451.3 544.1h0M451.8 454.5h0M459.4 484.4h0M439.0 546.6h0M480.2 523.4h0M483.7 504.7h0M423.1 521.3h0M501.1 528.3h0M469.5 501.3h0M476.4 532.6h0M441.6 550.4h0M477.6 515.0h0M489.0 472.8h0M464.1 474.2h0M458.4 561.0h0M450.9 475.7h0M441.5 471.9h0M507.4 568.9h0M515.0 550.7h0M476.2 489.7h0M413.4 471.2h0M531.7 569.3h0M476.1 547.7h0M462.9 538.9h0M530.5 568.9h0M443.6 475.7h0M465.1 528.3h0M528.1 465.0h0M462.2 544.8h0M464.1 487.4h0M526.1 472.1h0M468.5 559.2h0M509.7 554.0h0M495.7 527.3h0M504.6 485.1h0M445.5 564.5h0M440.5 524.7h0M496.9 540.2h0M502.6 536.6h0M450.5 566.3h0M478.2 522.7h0M412.3 515.2h0M487.8 507.5h0M520.0 477.1h0M438.5 494.9h0M527.2 486.6h0M505.7 523.6h0M437.6 558.6h0M516.1 467.3h0" stroke="#251eb6" stroke-width="2.7" stroke-linecap="round" fill="none" opacity="0.9"/></g>
<g filter="url(#soft)"><path d="M435.5 479.8h0M539.5 466.2h0M523.5 523.9h0M469.6 459.3h0M503.5 526.2h0M440.2 468.7h0M520.8 455.7h0M526.1 560.7h0M518.0 530.0h0M497.3 473.9h0M441.9 503.4h0M457.2 511.2h0M482.6 495.1h0M481.8 559.9h0M520.0 515.7h0M480.0 534.2h0M413.8 482.3h0M516.4 516.9h0M468.4 503.7h0M515.1 532.4h0M503.8 564.7h0M480.4 566.0h0M422.4 534.0h0M428.8 483.2h0M450.3 540.7h0M511.1 477.7h0M515.8 530.8h0M535.5 566.6h0M445.0 458.0h0M517.1 481.2h0M532.9 525.0h0M466.5 564.8h0M475.9 464.3h0M451.1 537.3h0M433.4 544.5h0M491.3 490.0h0M415.0 501.6h0M453.9 523.3h0M513.5 516.1h0M443.7 485.4h0M416.6 508.9h0M492.7 552.5h0M529.0 499.7h0M425.5 528.8h0M474.4 528.3h0M434.5 491.1h0M505.6 495.9h0M489.1 506.7h0M503.9 513.4h0M502.3 494.8h0M423.2 519.0h0M448.2 488.6h0M423.2 546.3h0M479.1 559.8h0M456.3 522.7h0M491.8 476.6h0M465.5 553.5h0M469.8 546.4h0M421.7 504.1h0M539.5 521.8h0M496.8 494.5h0M500.9 489.9h0M499.4 527.4h0M451.8 454.5h0M483.7 504.7h0M423.1 521.3h0M462.9 538.9h0M530.5 568.9h0M526.1 472.1h0M468.5 559.2h0M495.7 527.3h0M504.6 485.1h0M445.5 564.5h0M440.5 524.7h0M412.3 515.2h0M520.0 477.1h0M505.7 523.6h0M516.1 467.3h0" stroke="#6d74e0" stroke-width="1.0" stroke-linecap="round" fill="none" opacity="1.0"/></g>
<g filter="url(#soft)"><path d="M491.2 490.7h0M502.9 498.0h0M488.1 481.5h0M492.0 490.1h0M498.2 496.1h0M503.5 493.3h0M505.3 496.2h0M486.2 486.7h0M486.1 485.0h0M496.3 489.5h0M501.7 496.4h0M497.9 489.1h0M486.7 484.6h0M504.8 497.9h0M503.0 495.2h0M501.6 482.9h0M495.0 480.5h0M502.3 495.0h0M502.7 492.1h0M491.3 488.0h0M485.3 485.2h0M500.2 488.5h0" stroke="#2e2fd0" stroke-width="2.0" stroke-linecap="round" fill="none" opacity="1.0"/></g>
<rect x="529.04" y="559.6" width="6" height="1" fill="#dde"/>
</g>
<g clip-path="url(#cp4)">
<rect x="549.2" y="453.8" width="132.9" height="115.5" fill="#130c88"/>
<g filter="url(#soft2)"><polygon points="549.2,505.8 549.2,569.3 631.6,569.3 609.0,548.5 575.8,525.4" fill="#040318" opacity="0.8"/><polygon points="549.2,543.9 549.2,569.3 615.7,569.3 582.4,552.0" fill="#040318" opacity="0.9"/><polygon points="562.5,453.8 570.5,453.8 589.1,525.4 583.8,530.0" fill="#040318" opacity="0.9"/><polygon points="602.4,453.8 609.0,453.8 631.6,546.2 636.9,569.3 628.9,569.3 622.3,543.9" fill="#040318" opacity="0.92"/><polygon points="615.7,453.8 619.6,453.8 628.9,488.4 625.0,488.4" fill="#040318" opacity="0.6"/><polygon points="666.2,453.8 682.1,453.8 682.1,517.3 676.8,500.0" fill="#040318" opacity="0.9"/><polygon points="655.5,459.6 659.5,459.6 668.8,511.6 664.8,511.6" fill="#040318" opacity="0.5"/><polygon points="676.1,488.4 682.1,488.4 682.1,569.3 677.4,569.3" fill="#040318" opacity="0.97"/><polygon points="644.9,525.4 648.9,523.1 660.8,567.0 655.5,569.3" fill="#040318" opacity="0.6"/><polygon points="549.2,555.4 682.1,557.8 682.1,569.3 549.2,569.3" fill="#040318" opacity="0.7"/><polygon points="631.6,453.8 636.9,453.8 655.5,552.0 650.2,555.4" fill="#040318" opacity="0.5"/><polygon points="578.4,453.8 582.4,453.8 605.0,540.4 601.0,541.6" fill="#040318" opacity="0.35"/></g>
<g filter="url(#big)"><ellipse cx="666.152" cy="548.51" rx="9.303" ry="18.48" fill="#3a50e0" opacity="0.7"/></g>
<g filter="url(#soft)"><path d="M647.5 551.0h0M589.3 494.4h0M600.8 500.7h0M606.2 515.5h0M633.3 458.5h0M643.0 519.7h0M556.2 480.6h0M648.5 476.3h0M603.7 489.1h0M597.3 477.3h0M661.1 479.3h0M607.7 488.7h0M641.9 501.7h0M629.3 466.2h0M667.6 483.2h0M642.1 488.2h0M560.4 501.6h0M613.9 509.4h0M565.8 479.7h0M596.4 502.1h0M643.9 476.9h0M635.1 477.9h0M642.1 505.2h0M550.6 567.6h0M604.0 467.8h0M665.3 477.6h0M643.7 479.4h0M605.7 495.7h0M605.8 503.1h0M664.6 491.4h0M648.9 504.0h0M649.5 537.7h0M658.1 484.9h0M597.5 553.0h0M605.3 538.7h0M616.4 463.2h0M639.6 455.4h0M671.0 536.4h0M567.3 519.8h0M587.3 513.4h0M635.6 516.4h0M612.2 456.4h0M554.6 548.7h0M670.8 553.8h0M561.5 559.6h0M622.0 546.8h0M593.4 502.0h0M557.5 519.0h0M657.8 487.5h0M674.2 553.0h0M646.0 552.8h0M593.9 538.6h0M651.4 566.4h0M627.6 537.3h0M555.5 545.3h0M609.8 484.7h0M592.7 505.6h0M655.2 541.5h0M673.4 544.0h0M637.6 460.2h0M603.4 538.9h0M558.2 455.8h0M678.6 489.9h0M602.4 464.1h0M627.0 527.3h0M660.6 493.6h0M559.2 456.3h0M566.9 489.4h0M649.5 505.2h0M632.6 498.3h0M650.9 552.9h0M651.1 502.7h0M564.7 512.9h0M583.2 464.9h0M619.3 537.2h0M648.0 480.9h0M595.9 514.3h0M650.7 541.5h0M603.7 482.8h0M626.7 485.2h0M668.0 546.2h0M656.1 499.8h0M657.5 523.8h0M559.2 514.2h0M612.9 520.6h0M565.6 476.8h0M634.0 473.4h0M654.3 540.2h0M629.5 513.8h0M642.5 542.0h0M562.4 521.5h0M592.7 555.0h0M632.3 517.3h0M633.9 527.5h0M653.1 485.8h0M586.0 556.2h0M570.3 512.2h0M630.0 510.7h0M587.7 516.5h0M648.6 526.6h0M624.5 471.7h0M563.4 458.3h0M581.4 543.2h0M614.2 466.5h0M561.6 465.2h0M571.5 564.3h0M552.5 547.9h0M556.2 565.7h0M643.4 477.0h0M561.1 524.5h0M609.9 530.3h0M575.1 545.0h0M623.6 480.3h0M583.9 465.7h0M640.4 463.5h0M673.3 504.4h0M653.5 551.8h0M657.6 555.2h0M674.6 540.3h0M567.8 558.0h0M620.0 536.4h0M592.6 478.1h0M590.0 465.9h0M647.6 477.1h0M611.8 454.4h0M591.6 497.1h0M650.7 541.0h0M604.0 556.1h0M644.4 513.4h0M670.7 460.9h0M627.5 517.3h0M592.4 490.7h0M675.2 520.1h0M639.8 537.0h0M672.1 483.2h0M659.4 563.1h0M638.8 558.4h0M585.9 529.5h0M654.5 485.7h0M654.5 534.3h0M566.9 497.9h0M620.2 485.3h0M598.9 462.6h0M558.5 478.9h0M576.5 560.6h0M616.8 549.7h0M642.3 477.6h0M584.1 557.6h0M597.9 501.7h0M627.0 519.3h0M595.7 508.1h0M664.2 463.7h0M673.5 550.0h0M578.9 475.3h0M658.7 474.3h0M558.3 504.1h0M654.2 534.0h0M653.9 554.4h0M675.3 500.9h0M624.1 513.3h0M620.8 479.5h0M667.4 483.5h0M670.4 501.2h0M606.1 492.8h0M665.7 555.5h0M573.4 528.1h0M672.2 532.8h0M676.2 545.3h0M580.7 489.8h0M570.4 525.6h0M585.1 533.6h0M558.8 520.4h0M598.0 474.8h0M611.8 529.1h0M654.9 534.3h0M618.1 546.1h0M660.8 516.9h0M560.2 502.2h0M597.7 525.4h0M637.3 476.2h0M554.8 475.3h0M613.5 550.2h0M591.4 497.4h0M676.5 557.6h0M553.5 566.4h0M635.3 458.6h0M578.0 465.2h0M556.4 509.2h0M668.6 477.5h0M656.3 509.3h0M608.9 502.9h0M667.8 545.6h0M646.1 540.4h0M593.3 519.9h0M610.3 505.7h0M567.2 476.3h0M636.4 525.2h0M564.1 513.1h0M602.7 535.5h0M564.0 469.9h0M587.4 509.4h0M673.7 510.1h0M681.5 525.5h0M613.4 464.9h0M653.4 459.0h0M599.5 482.6h0M657.7 527.9h0M555.9 557.5h0M550.1 508.9h0M603.0 529.6h0M581.2 460.7h0M585.6 478.2h0M590.9 460.4h0M673.1 556.6h0M583.5 480.8h0M665.3 512.0h0M550.0 533.6h0M600.2 464.5h0M621.0 537.4h0M667.4 474.9h0M614.9 462.6h0M637.0 523.0h0M637.4 476.9h0M625.7 521.6h0M570.4 506.4h0M614.7 557.2h0M550.3 554.0h0M587.1 467.5h0M608.3 489.4h0M584.6 462.5h0M587.5 470.9h0M658.4 460.3h0M571.0 519.4h0M600.5 539.3h0M628.4 461.3h0M651.5 529.5h0M574.0 542.6h0M624.4 505.1h0M643.7 461.8h0M588.9 537.0h0M557.9 499.1h0M641.1 511.9h0M557.0 456.9h0M665.3 548.9h0M571.1 528.6h0M596.7 490.3h0M583.1 477.6h0M644.2 494.7h0M649.1 485.0h0M671.0 498.2h0M637.3 483.7h0M557.1 513.1h0M661.2 544.4h0M631.2 523.2h0M639.9 522.1h0M645.9 471.5h0M659.4 506.4h0M584.2 553.1h0M597.9 477.6h0M573.7 503.4h0M652.8 543.5h0M602.4 541.0h0M555.2 471.0h0M626.4 454.1h0M565.1 495.5h0M624.9 555.6h0M645.5 503.9h0M596.5 532.9h0M653.9 548.4h0M671.7 520.9h0M606.4 516.6h0M653.7 557.8h0M598.7 454.7h0M654.9 546.0h0M599.3 530.9h0M551.4 557.5h0M653.6 465.2h0M648.6 457.0h0M653.1 461.8h0M563.6 492.6h0M566.0 509.6h0M573.7 505.6h0M656.1 476.8h0M642.5 544.4h0M585.0 493.2h0M591.0 501.6h0M625.1 466.4h0M608.1 523.2h0M573.9 500.8h0M591.3 492.0h0M629.3 511.2h0M658.4 555.5h0M632.6 514.3h0M557.7 534.3h0M656.8 477.8h0M617.0 546.0h0M589.6 500.6h0M658.5 496.3h0M586.0 511.6h0M589.8 491.9h0M670.2 535.4h0M657.7 528.3h0M571.9 539.5h0M552.7 555.7h0M641.9 534.9h0M662.8 494.9h0M595.5 505.6h0M575.4 505.7h0M569.0 484.4h0M661.3 525.4h0M640.2 475.9h0M596.7 467.4h0M577.9 514.3h0M613.3 518.8h0M659.9 523.8h0M578.0 531.9h0M645.5 500.1h0M611.8 544.0h0M556.3 532.2h0M583.9 500.1h0M649.3 552.6h0M639.3 455.7h0M633.0 478.9h0M617.0 461.8h0M571.0 528.2h0M677.1 558.1h0M627.5 491.3h0M672.5 520.5h0M619.1 493.7h0M647.5 567.1h0M657.2 483.0h0M644.0 545.3h0M600.6 532.4h0M580.0 519.0h0M673.5 506.6h0M575.2 517.1h0M589.2 506.5h0M663.4 530.7h0M651.9 560.4h0M647.2 531.8h0M570.4 549.7h0M604.8 516.5h0M550.8 455.1h0M600.4 523.9h0M567.3 503.8h0M591.0 460.7h0M643.0 524.5h0M641.6 487.2h0M602.9 474.1h0M549.3 479.3h0M647.5 479.8h0M624.6 456.0h0M552.3 551.1h0M672.1 483.3h0M608.5 506.9h0M637.8 467.7h0M593.2 478.5h0M651.4 549.5h0M615.0 521.0h0M672.7 507.5h0M559.1 510.8h0M628.9 467.6h0M601.7 468.8h0M581.1 530.2h0M581.8 553.9h0M588.5 469.2h0M602.0 495.3h0M679.8 543.0h0M652.2 507.0h0M590.7 554.8h0M669.2 509.1h0M660.2 517.7h0M599.7 458.4h0M554.8 536.6h0M578.8 485.5h0M644.8 516.9h0M610.8 518.1h0M661.0 538.3h0M562.0 458.3h0M665.6 489.2h0M639.7 477.0h0M666.0 458.9h0M604.2 475.4h0M652.2 530.4h0M550.3 527.5h0M650.4 542.1h0M675.6 510.5h0M608.4 526.6h0M630.8 537.7h0M578.4 477.3h0M639.2 459.6h0M676.2 550.1h0M611.5 567.5h0M578.9 523.1h0M665.4 478.7h0M582.5 465.6h0M672.0 485.8h0M555.7 468.2h0M662.5 507.8h0M656.3 507.5h0M574.8 460.9h0M561.2 489.0h0M673.6 567.0h0M585.3 560.2h0M640.1 528.2h0M573.5 519.7h0M597.1 536.2h0M611.7 463.1h0M623.2 464.4h0M577.2 554.1h0M669.5 552.5h0M636.7 499.3h0M549.4 532.7h0M652.5 513.3h0M623.3 528.8h0M652.4 486.8h0M563.2 487.5h0M664.1 492.9h0M630.4 514.0h0M570.5 510.5h0M659.8 470.3h0M614.8 542.1h0M640.2 496.3h0M611.4 541.1h0M586.4 498.0h0M568.2 477.0h0M654.2 488.1h0M646.8 455.5h0M555.7 538.6h0M583.6 482.4h0" stroke="#4456d0" stroke-width="2.5" stroke-linecap="round" fill="none" opacity="1.0"/><path d="M633.3 458.5h0M556.2 480.6h0M597.3 477.3h0M607.7 488.7h0M641.9 501.7h0M642.1 488.2h0M560.4 501.6h0M613.9 509.4h0M643.9 476.9h0M604.0 467.8h0M665.3 477.6h0M605.7 495.7h0M605.8 503.1h0M664.6 491.4h0M648.9 504.0h0M616.4 463.2h0M639.6 455.4h0M671.0 536.4h0M635.6 516.4h0M554.6 548.7h0M561.5 559.6h0M622.0 546.8h0M593.4 502.0h0M646.0 552.8h0M593.9 538.6h0M627.6 537.3h0M592.7 505.6h0M673.4 544.0h0M637.6 460.2h0M603.4 538.9h0M627.0 527.3h0M660.6 493.6h0M559.2 456.3h0M649.5 505.2h0M650.9 552.9h0M651.1 502.7h0M668.0 546.2h0M656.1 499.8h0M559.2 514.2h0M565.6 476.8h0M629.5 513.8h0M642.5 542.0h0M562.4 521.5h0M632.3 517.3h0M633.9 527.5h0M586.0 556.2h0M570.3 512.2h0M630.0 510.7h0M648.6 526.6h0M624.5 471.7h0M614.2 466.5h0M561.6 465.2h0M561.1 524.5h0M609.9 530.3h0M575.1 545.0h0M583.9 465.7h0M640.4 463.5h0M673.3 504.4h0M653.5 551.8h0M567.8 558.0h0M620.0 536.4h0M647.6 477.1h0M611.8 454.4h0M591.6 497.1h0M650.7 541.0h0M670.7 460.9h0M592.4 490.7h0M639.8 537.0h0M638.8 558.4h0M585.9 529.5h0M654.5 485.7h0M566.9 497.9h0M558.5 478.9h0M576.5 560.6h0M584.1 557.6h0M597.9 501.7h0M664.2 463.7h0M578.9 475.3h0M658.7 474.3h0M558.3 504.1h0M654.2 534.0h0M667.4 483.5h0M606.1 492.8h0M665.7 555.5h0M672.2 532.8h0M580.7 489.8h0M585.1 533.6h0M618.1 546.1h0M660.8 516.9h0M560.2 502.2h0M637.3 476.2h0M578.0 465.2h0M608.9 502.9h0M646.1 540.4h0M593.3 519.9h0M567.2 476.3h0M564.1 513.1h0M564.0 469.9h0M673.7 510.1h0M681.5 525.5h0M657.7 527.9h0M555.9 557.5h0M550.1 508.9h0M581.2 460.7h0M585.6 478.2h0M590.9 460.4h0M673.1 556.6h0M665.3 512.0h0M550.0 533.6h0M614.9 462.6h0M637.4 476.9h0M625.7 521.6h0M570.4 506.4h0M614.7 557.2h0M550.3 554.0h0M587.5 470.9h0M658.4 460.3h0M571.0 519.4h0M600.5 539.3h0M628.4 461.3h0M643.7 461.8h0M588.9 537.0h0M641.1 511.9h0M557.0 456.9h0M665.3 548.9h0M596.7 490.3h0M644.2 494.7h0M649.1 485.0h0M659.4 506.4h0M584.2 553.1h0M597.9 477.6h0M573.7 503.4h0M652.8 543.5h0M555.2 471.0h0M626.4 454.1h0M565.1 495.5h0M624.9 555.6h0M645.5 503.9h0M653.9 548.4h0M606.4 516.6h0M653.7 557.8h0M654.9 546.0h0M551.4 557.5h0M653.6 465.2h0M648.6 457.0h0M653.1 461.8h0M625.1 466.4h0M608.1 523.2h0M629.3 511.2h0M658.4 555.5h0M557.7 534.3h0M656.8 477.8h0M617.0 546.0h0M658.5 496.3h0M586.0 511.6h0M589.8 491.9h0M670.2 535.4h0M657.7 528.3h0M552.7 555.7h0M641.9 534.9h0M661.3 525.4h0M640.2 475.9h0M596.7 467.4h0M659.9 523.8h0M578.0 531.9h0M645.5 500.1h0M611.8 544.0h0M556.3 532.2h0M583.9 500.1h0M639.3 455.7h0M627.5 491.3h0M672.5 520.5h0M619.1 493.7h0M644.0 545.3h0M673.5 506.6h0M663.4 530.7h0M651.9 560.4h0M647.2 531.8h0M570.4 549.7h0M604.8 516.5h0M550.8 455.1h0M600.4 523.9h0M567.3 503.8h0M591.0 460.7h0M647.5 479.8h0M608.5 506.9h0M637.8 467.7h0M559.1 510.8h0M628.9 467.6h0M581.1 530.2h0M581.8 553.9h0M679.8 543.0h0M652.2 507.0h0M590.7 554.8h0M669.2 509.1h0M610.8 518.1h0M666.0 458.9h0M652.2 530.4h0M650.4 542.1h0M630.8 537.7h0M578.4 477.3h0M676.2 550.1h0M665.4 478.7h0M555.7 468.2h0M574.8 460.9h0M585.3 560.2h0M640.1 528.2h0M611.7 463.1h0M623.2 464.4h0M669.5 552.5h0M636.7 499.3h0M549.4 532.7h0M652.5 513.3h0M623.3 528.8h0M614.8 542.1h0M640.2 496.3h0M568.2 477.0h0M654.2 488.1h0M646.8 455.5h0M555.7 538.6h0" stroke="#98b4ea" stroke-width="1.4" stroke-linecap="round" fill="none" opacity="1.0"/></g>
<rect x="664.1585" y="559.6" width="6" height="1" fill="#dde"/>
</g>
<text x="0.5" y="592" font-size="17" text-anchor="start" font-weight="bold" fill="#000">H</text>
<rect x="1" y="597.9" width="134" height="3" fill="#e6dcf0"/>
<path d="M44.4 598.1l0.2 1.3M72.8 598.2l-0.5 1.7M6.0 598.3l-0.5 1.3M57.9 598.5l-0.5 1.4M85.1 598.6l0.1 1.6M131.8 598.0l0.4 1.5M20.3 598.1l-0.2 2.0M25.2 598.3l0.2 1.6M74.4 598.0l-0.5 1.4M92.2 598.3l-0.2 1.8M61.7 598.2l0.4 1.9M33.7 598.3l0.0 2.1M98.7 598.2l0.6 1.3M57.0 598.5l-0.4 1.7M6.3 598.4l0.3 1.8M118.3 598.2l0.2 1.8M78.7 598.3l0.4 2.1M64.5 598.4l-0.5 1.9M87.7 598.6l0.4 1.5M52.7 598.4l-0.6 1.7M23.5 598.1l-0.5 2.0M18.3 598.1l-0.1 2.1M11.8 598.3l0.1 2.1M110.8 598.5l-0.3 1.6M49.1 598.5l0.5 1.4M24.6 598.1l-0.3 1.7M79.9 598.2l-0.6 1.6M50.5 598.3l0.5 1.9M70.1 598.4l0.2 1.3M121.5 598.5l0.4 2.0M53.6 598.2l-0.5 1.8M9.3 598.0l-0.3 1.4M46.6 598.0l-0.6 1.4M14.6 598.2l-0.6 2.1M83.3 598.1l-0.3 1.5M49.8 598.1l0.4 2.2M63.4 598.3l-0.5 1.3M46.9 598.2l0.4 1.4M4.1 598.6l0.0 1.3M73.8 598.0l0.0 2.2M116.7 598.4l-0.3 1.6M23.4 598.5l0.0 2.0M45.2 598.1l0.4 2.2M115.3 598.5l0.4 1.9M31.4 598.3l-0.2 1.2M4.7 598.2l-0.3 1.9M129.2 598.3l0.5 2.2M129.0 598.2l-0.3 1.4M27.4 598.1l0.1 2.1M113.6 598.3l0.2 2.0M12.4 598.4l0.5 2.0M101.5 598.3l-0.4 2.0M45.6 598.5l0.6 1.6M54.8 598.6l0.3 1.4M18.0 598.1l0.5 2.0M20.6 598.5l0.6 1.9M48.0 598.3l-0.4 1.2M131.1 598.4l0.0 2.1M59.1 598.5l0.4 1.4M34.7 598.2l-0.3 1.8M35.8 598.3l-0.4 2.1M48.4 598.3l0.1 2.1M57.4 598.6l0.0 1.7M71.1 598.0l-0.1 1.4M1.5 598.5l-0.4 1.7M98.2 598.3l-0.2 1.7M75.4 598.5l-0.5 1.8M34.3 598.2l0.3 1.7M76.3 598.5l0.5 1.6M83.1 598.3l0.0 1.9" stroke="#8e68b4" stroke-width="1.0" opacity="0.75" filter="url(#soft)"/>
<rect x="138.3" y="597.9" width="133.5" height="3" fill="#e6dcf0"/>
<path d="M198.7 598.3l-0.0 2.1M231.6 598.5l0.5 1.5M213.0 598.6l0.4 1.3M154.5 598.3l-0.5 1.4M148.1 598.4l0.3 2.1M158.9 598.4l0.2 1.3M256.2 598.6l-0.3 2.2M191.5 598.3l0.6 2.0M159.9 598.3l0.0 1.5M164.4 598.2l0.3 1.2M212.3 598.3l-0.6 1.5M221.6 598.3l-0.5 2.2M243.5 598.6l-0.5 1.5M143.6 598.5l-0.3 1.3M194.7 598.5l0.4 1.5M158.2 598.6l0.1 1.9M150.2 598.0l0.2 1.6M148.0 598.6l0.2 2.0M149.5 598.5l-0.5 2.1M198.9 598.2l0.1 2.1M174.1 598.1l0.0 1.4M152.9 598.1l-0.5 1.4M180.0 598.2l0.3 1.5M205.1 598.1l-0.2 1.2M171.7 598.0l0.3 1.8M163.6 598.3l0.5 1.3M247.6 598.3l-0.0 2.0M190.8 598.3l0.2 2.2M184.1 598.5l0.2 1.8M192.3 598.2l-0.5 1.3M147.7 598.4l-0.3 1.4M149.6 598.5l0.4 1.9M175.9 598.1l-0.2 1.7M159.3 598.3l-0.3 2.2M268.1 598.3l-0.3 2.2M179.6 598.2l-0.6 1.6M201.7 598.3l-0.4 1.7M139.0 598.2l-0.5 1.6M143.9 598.0l-0.2 1.4M216.5 598.3l0.3 1.9M233.9 598.5l-0.1 1.5M269.8 598.1l0.3 1.8M144.1 598.5l0.5 1.8M236.3 598.5l-0.4 1.7M205.6 598.5l0.4 2.0M216.3 598.5l0.2 1.9M169.0 598.0l-0.4 1.6M152.3 598.5l0.1 1.8M221.9 598.4l-0.0 1.2M244.8 598.4l0.0 1.7M226.3 598.0l0.3 1.5M148.2 598.2l0.3 1.4M237.1 598.6l-0.0 1.6M202.2 598.4l0.3 1.8M224.1 598.0l-0.4 1.5M237.5 598.2l0.1 1.2M146.4 598.2l0.2 1.9M228.5 598.2l0.0 1.7M200.6 598.1l0.5 1.4M268.9 598.6l-0.6 1.7M247.8 598.6l-0.1 1.5M166.3 598.6l-0.3 1.8M157.2 598.3l0.5 1.3M247.8 598.3l0.5 1.9M169.2 598.5l-0.0 1.2M138.8 598.3l-0.1 1.5M157.1 598.2l-0.2 2.0M138.5 598.5l0.4 1.3M262.0 598.4l0.5 1.5M188.0 598.2l0.6 1.8" stroke="#8e68b4" stroke-width="1.0" opacity="0.75" filter="url(#soft)"/>
<rect x="275.5" y="597.9" width="132.8" height="3" fill="#e6dcf0"/>
<path d="M323.4 598.3l-0.3 1.2M289.0 598.5l-0.3 2.1M308.6 598.2l0.0 1.4M325.1 598.6l0.5 2.0M359.3 598.5l0.5 1.7M371.1 598.0l0.3 1.7M375.5 598.4l-0.3 1.2M398.6 598.1l-0.0 1.5M315.0 598.4l0.6 1.5M362.6 598.2l0.1 1.6M297.7 598.1l-0.4 2.1M341.5 598.1l0.5 2.2M335.3 598.1l-0.4 1.3M320.9 598.1l-0.3 1.5M351.1 598.5l0.3 1.6M330.5 598.3l-0.1 1.5M283.7 598.2l0.6 1.3M342.4 598.4l0.4 1.4M311.5 598.1l-0.1 1.6M402.2 598.5l0.4 1.2M279.8 598.4l0.5 1.7M353.5 598.0l-0.1 2.1M385.1 598.5l0.6 1.4M290.0 598.1l0.0 1.9M400.5 598.4l0.2 2.0M336.2 598.3l-0.6 2.0M306.4 598.6l0.2 1.5M292.5 598.2l0.2 1.9M290.4 598.0l0.0 1.8M327.0 598.1l0.1 1.2M315.5 598.3l0.6 1.8M392.9 598.3l-0.3 1.4M403.1 598.4l-0.2 1.2M341.7 598.4l-0.1 1.5M364.1 598.6l-0.3 1.2M320.4 598.3l0.2 1.4M381.4 598.4l0.0 1.4M404.3 598.2l0.4 1.4M304.9 598.5l-0.2 2.2M341.3 598.1l-0.3 1.6M363.9 598.6l-0.4 1.6M303.8 598.6l-0.4 1.3M283.5 598.2l0.5 2.1M372.8 598.6l0.5 1.5M300.1 598.6l0.3 1.2M363.7 598.2l-0.2 1.5M298.0 598.0l-0.3 1.6M402.4 598.1l0.6 1.4M322.9 598.5l0.4 1.6M282.0 598.3l-0.2 2.1M301.1 598.2l0.5 1.2M330.1 598.5l0.3 1.2M280.1 598.0l0.5 1.5M374.7 598.5l-0.2 1.5M402.7 598.4l-0.3 1.9M317.5 598.2l-0.6 2.0M397.2 598.4l0.5 1.2M306.6 598.3l0.5 2.2M326.8 598.2l-0.1 1.7M398.8 598.1l0.4 1.9M384.8 598.5l0.1 1.5M317.9 598.2l0.3 1.3M301.7 598.5l-0.3 1.3M280.0 598.3l-0.2 2.2M392.8 598.6l-0.3 1.3M288.3 598.3l0.3 1.6M306.6 598.3l0.1 1.9M374.8 598.5l0.2 1.3M387.2 598.2l0.1 1.6M373.5 598.1l-0.3 1.4" stroke="#8e68b4" stroke-width="1.0" opacity="0.75" filter="url(#soft)"/>
<rect x="412" y="597.9" width="133" height="3" fill="#e6dcf0"/>
<path d="M432.4 598.5l0.1 1.5M464.7 598.6l0.0 1.4M519.5 598.4l0.6 1.3M475.1 598.5l0.4 2.1M417.4 598.2l-0.5 1.4M541.4 598.3l0.5 1.6M527.2 598.3l-0.3 2.0M537.8 598.1l0.1 1.8M440.9 598.2l-0.4 1.4M445.9 598.4l0.2 1.4M413.5 598.2l0.2 1.4M453.5 598.1l0.4 1.7M420.4 598.1l-0.1 1.8M497.0 598.1l-0.4 1.9M466.5 598.2l-0.2 2.2M453.5 598.3l-0.2 1.6M526.9 598.6l-0.2 1.4M508.8 598.1l-0.6 2.1M468.4 598.5l-0.1 2.1M473.3 598.1l-0.6 1.8M497.2 598.5l-0.5 1.8M461.3 598.3l-0.4 1.5M481.3 598.6l-0.5 1.7M519.0 598.6l-0.4 1.3M537.4 598.6l-0.0 1.3M535.2 598.2l0.5 1.8M521.7 598.1l0.3 1.4M465.8 598.5l0.4 1.4M441.0 598.2l0.0 1.6M428.4 598.1l0.3 2.1M417.5 598.3l0.3 1.2M523.5 598.1l0.1 1.8M495.4 598.2l-0.1 1.8M468.6 598.4l-0.1 1.6M415.1 598.4l-0.0 1.4M513.6 598.5l-0.1 1.4M474.9 598.1l-0.4 1.6M424.2 598.3l0.0 1.2M496.6 598.0l0.3 2.0M480.0 598.0l0.0 1.6M538.5 598.1l0.4 2.2M509.4 598.5l-0.4 2.2M477.4 598.6l0.5 1.4M516.9 598.6l-0.5 1.6M512.6 598.1l0.5 1.5M520.5 598.1l0.0 2.1M439.7 598.2l0.0 1.5M416.9 598.1l-0.4 2.1M502.4 598.5l-0.4 2.0M427.3 598.3l0.2 1.6M528.1 598.3l0.1 2.1M425.9 598.6l0.2 1.6M518.1 598.2l0.6 1.8M459.9 598.5l-0.1 1.4M510.9 598.0l0.4 1.5M497.0 598.6l0.1 1.9M453.6 598.0l-0.6 1.3M493.9 598.3l0.0 2.1M429.6 598.1l0.2 1.2M412.3 598.2l-0.5 1.6M441.8 598.4l0.1 1.4M495.0 598.3l-0.4 2.1M444.4 598.1l-0.5 1.8M527.9 598.5l-0.1 1.5M413.5 598.4l0.1 1.6M497.9 598.3l0.5 1.9M445.1 598.5l-0.5 1.7M466.0 598.1l-0.5 2.0M413.6 598.3l0.5 1.3M438.5 598.4l0.0 1.8" stroke="#8e68b4" stroke-width="1.0" opacity="0.75" filter="url(#soft)"/>
<rect x="549.2" y="597.9" width="132.9" height="3" fill="#e6dcf0"/>
<path d="M657.3 598.1l-0.2 1.5M555.6 598.5l0.3 1.9M550.0 598.5l0.3 1.7M647.8 598.3l-0.3 1.3M580.1 598.0l-0.2 1.9M641.6 598.5l0.3 1.5M622.8 598.3l0.3 1.7M584.5 598.4l0.6 1.4M666.2 598.0l-0.3 1.4M648.1 598.6l0.3 1.5M666.2 598.2l-0.3 2.1M633.0 598.4l0.2 2.2M611.6 598.5l0.2 2.1M607.3 598.4l0.1 1.5M577.4 598.4l-0.5 2.1M568.4 598.0l-0.5 2.1M595.0 598.1l-0.6 1.2M641.2 598.4l0.2 1.9M557.9 598.4l-0.2 2.0M658.1 598.5l-0.5 2.1M670.7 598.6l-0.5 1.4M564.1 598.0l0.4 2.0M633.5 598.5l0.2 1.5M562.5 598.1l0.3 1.4M591.6 598.3l-0.6 1.5M586.8 598.4l-0.2 1.5M677.3 598.3l0.4 1.8M553.3 598.2l-0.1 2.0M595.3 598.4l0.0 1.4M663.8 598.1l0.4 1.4M549.4 598.1l0.3 2.2M549.8 598.3l-0.0 2.0M573.7 598.3l-0.2 2.0M583.8 598.6l-0.3 1.4M642.2 598.3l-0.5 1.8M559.9 598.5l0.2 2.0M632.7 598.2l-0.1 1.6M667.5 598.1l0.5 1.2M576.6 598.2l0.5 1.7M599.6 598.5l-0.3 1.7M619.8 598.5l0.3 1.8M595.5 598.2l-0.4 2.0M637.2 598.4l-0.4 1.6M652.0 598.3l-0.4 1.7M666.8 598.1l-0.4 1.5M642.7 598.5l-0.4 1.4M582.1 598.2l0.0 1.4M592.8 598.1l0.6 1.9M562.7 598.6l-0.5 1.6M680.0 598.5l0.3 1.6M575.3 598.4l-0.5 1.4M600.8 598.0l-0.1 2.0M641.4 598.3l0.2 1.7M568.0 598.4l-0.1 1.9M669.9 598.3l0.1 1.9M605.2 598.1l0.3 2.1M652.1 598.4l0.4 1.9M634.5 598.3l-0.2 1.8M562.2 598.3l0.3 1.9M632.9 598.2l-0.1 1.7M631.8 598.2l0.2 2.1M573.5 598.4l0.3 1.6M614.3 598.6l-0.6 1.7M570.6 598.5l0.5 1.7M562.6 598.3l0.0 1.9M617.3 598.4l0.4 1.7M603.7 598.6l-0.3 1.9M601.4 598.5l-0.5 2.2M596.4 598.0l-0.3 1.6M551.0 598.3l-0.1 1.9" stroke="#8e68b4" stroke-width="1.0" opacity="0.75" filter="url(#soft)"/>
<text x="698.8" y="458.3" font-size="17" text-anchor="start" font-weight="bold" fill="#000">I</text>
<line x1="827.8" y1="507.3" x2="827.8" y2="561.9" stroke="#111" stroke-width="1.7" stroke-linecap="butt"/>
<line x1="818.05" y1="507.3" x2="837.55" y2="507.3" stroke="#111" stroke-width="1.7" stroke-linecap="butt"/>
<line x1="883.2" y1="582.5" x2="883.2" y2="611" stroke="#111" stroke-width="1.7" stroke-linecap="butt"/>
<line x1="873.45" y1="582.5" x2="892.95" y2="582.5" stroke="#111" stroke-width="1.7" stroke-linecap="butt"/>
<line x1="938.6" y1="588.25" x2="938.6" y2="611" stroke="#111" stroke-width="1.7" stroke-linecap="butt"/>
<line x1="928.85" y1="588.25" x2="948.35" y2="588.25" stroke="#111" stroke-width="1.7" stroke-linecap="butt"/>
<line x1="994.1" y1="554.5" x2="994.1" y2="598" stroke="#111" stroke-width="1.7" stroke-linecap="butt"/>
<line x1="984.35" y1="554.5" x2="1003.85" y2="554.5" stroke="#111" stroke-width="1.7" stroke-linecap="butt"/>
<path d="M809.15 610V561.00H846.45V610" fill="#d9d9d9" stroke="#111" stroke-width="1.6"/>
<path d="M808.35 561.00H847.25" stroke="#111" stroke-width="2.0"/>
<path d="M864.55 610V610.10H901.85V610" fill="#959595" stroke="#111" stroke-width="1.6"/>
<path d="M863.75 610.10H902.65" stroke="#111" stroke-width="2.0"/>
<path d="M919.95 610V610.10H957.25V610" fill="#4b4b4b" stroke="#111" stroke-width="1.6"/>
<path d="M919.15 610.10H958.05" stroke="#111" stroke-width="2.0"/>
<path d="M975.45 610V597.10H1012.75V610" fill="#1a1a1a" stroke="#111" stroke-width="1.6"/>
<path d="M974.65 597.10H1013.55" stroke="#111" stroke-width="2.0"/>
<line x1="744.5" y1="475.75" x2="744.5" y2="610.95" stroke="#111" stroke-width="1.9" stroke-linecap="butt"/>
<line x1="743.55" y1="610" x2="1024" y2="610" stroke="#111" stroke-width="1.9" stroke-linecap="butt"/>
<line x1="738.5" y1="476.7" x2="744.5" y2="476.7" stroke="#111" stroke-width="1.7" stroke-linecap="butt"/>
<text transform="translate(737.80,481.44) scale(0.9,1)" font-size="14.9" text-anchor="end" font-weight="bold" fill="#111">3</text>
<line x1="738.5" y1="537.1" x2="744.5" y2="537.1" stroke="#111" stroke-width="1.7" stroke-linecap="butt"/>
<text transform="translate(737.80,541.84) scale(0.9,1)" font-size="14.9" text-anchor="end" font-weight="bold" fill="#111">2</text>
<line x1="738.5" y1="597.4" x2="744.5" y2="597.4" stroke="#111" stroke-width="1.7" stroke-linecap="butt"/>
<text transform="translate(737.80,602.14) scale(0.9,1)" font-size="14.9" text-anchor="end" font-weight="bold" fill="#111">1</text>
<text x="827.3" y="496.6" font-size="9.7" text-anchor="middle" fill="#111" stroke="#222" stroke-width="0.3">$</text>
<text x="717" y="607.75" font-size="15.3" text-anchor="start" transform="rotate(-90 717 607.75)" fill="#111">histological damage</text>
</g>
</svg>
</body></html>
